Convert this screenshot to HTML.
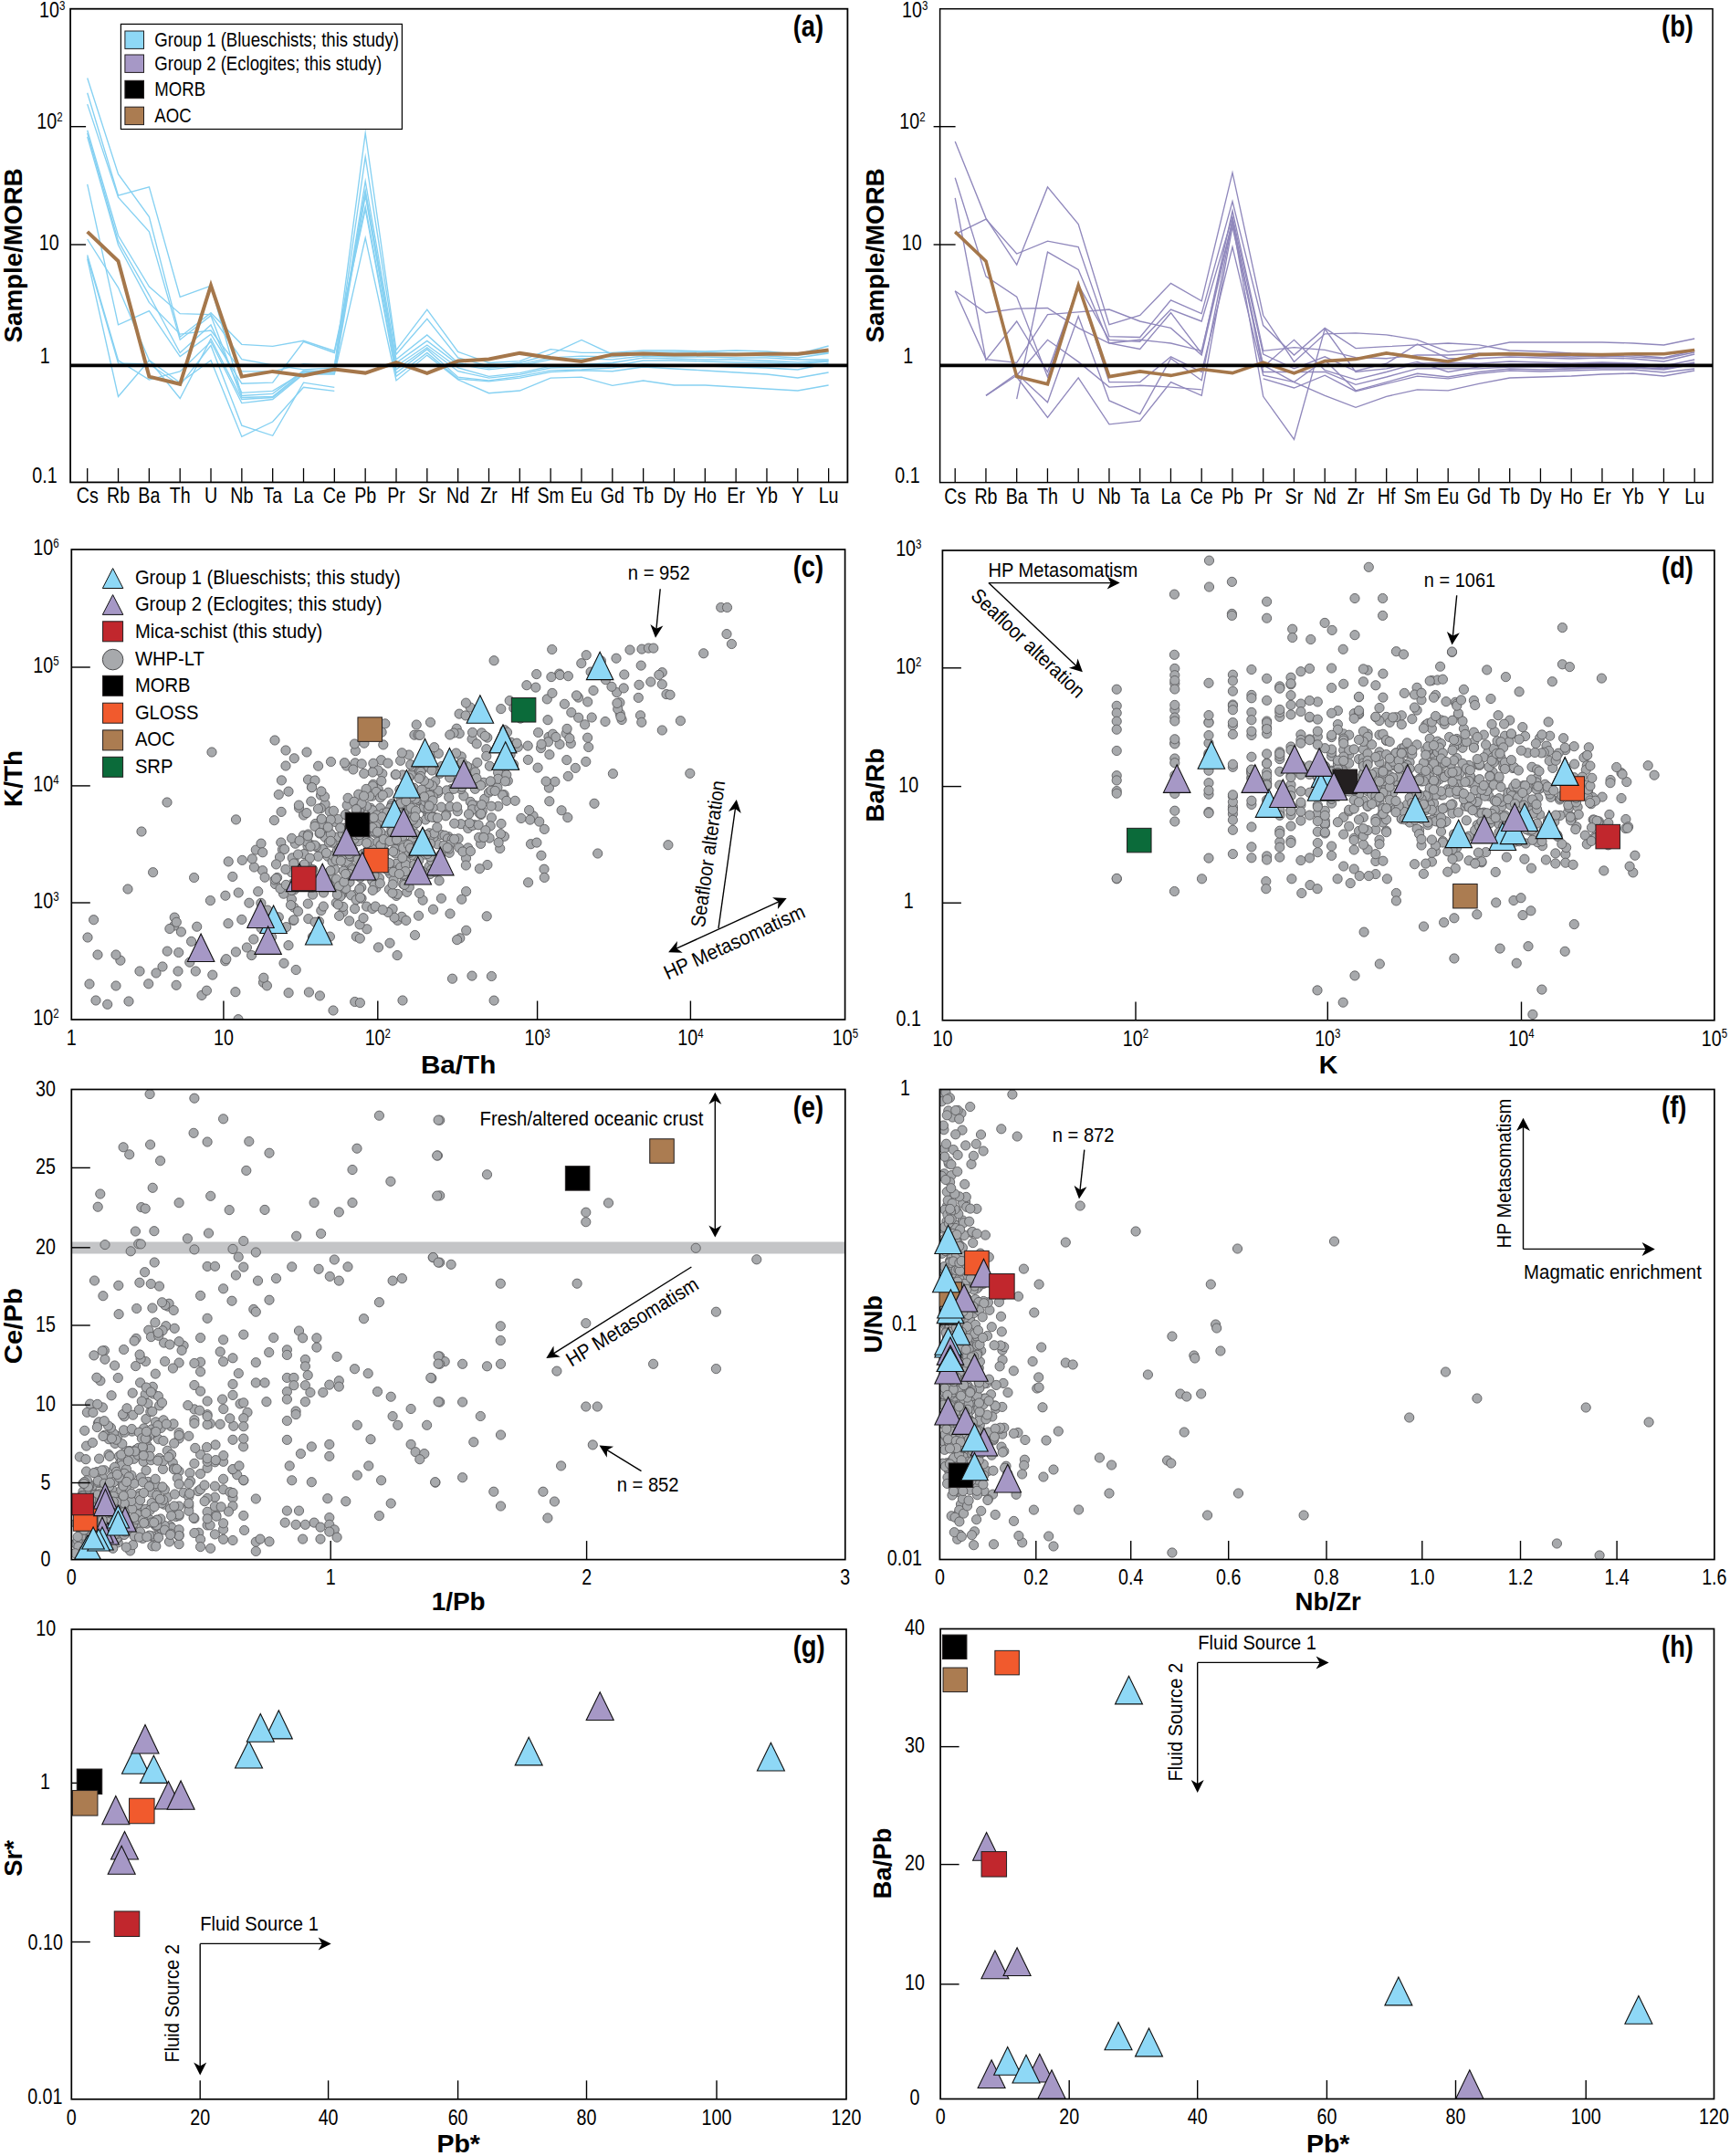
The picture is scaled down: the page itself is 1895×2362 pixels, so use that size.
<!DOCTYPE html>
<html lang="en"><head><meta charset="utf-8"><title>Figure</title>
<style>html,body{margin:0;padding:0;background:#fff}svg{display:block}text{font-family:"Liberation Sans",Arial,Helvetica,sans-serif}</style>
</head><body>
<svg width="1895" height="2362" viewBox="0 0 1895 2362">
<rect width="1895" height="2362" fill="#fff"/>
<polyline points="95.7,85.5 129.5,190.6 163.4,237.5 197.2,369.2 231.0,342.7 264.8,377.3 298.7,379.4 332.5,373.3 366.3,384.5 400.2,226.4 434.0,408.6 467.8,382.7 501.7,413.2 535.5,416.9 569.3,412.3 603.1,405.8 637.0,404.9 670.8,403.0 704.6,399.0 738.5,400.0 772.3,401.0 806.1,402.0 840.0,403.0 873.8,405.0 907.6,398.0" fill="none" stroke="#86D1F2" stroke-width="1.35" stroke-linejoin="miter" stroke-miterlimit="10"/>
<polyline points="95.7,101.8 129.5,214.1 163.4,204.9 197.2,325.3 231.0,313.1 264.8,433.5 298.7,431.4 332.5,405.9 366.3,406.9 400.2,171.8 434.0,388.2 467.8,349.4 501.7,391.9 535.5,401.2 569.3,397.5 603.1,388.2 637.0,372.5 670.8,388.2 704.6,386.0 738.5,386.0 772.3,386.0 806.1,387.0 840.0,387.0 873.8,389.0 907.6,386.0" fill="none" stroke="#86D1F2" stroke-width="1.35" stroke-linejoin="miter" stroke-miterlimit="10"/>
<polyline points="95.7,114.1 129.5,216.1 163.4,253.9 197.2,372.2 231.0,345.7 264.8,435.5 298.7,434.5 332.5,406.9 366.3,408.0 400.2,198.6 434.0,393.8 467.8,366.9 501.7,397.5 535.5,403.0 569.3,399.3 603.1,391.9 637.0,390.1 670.8,391.0 704.6,388.0 738.5,388.0 772.3,389.0 806.1,389.0 840.0,390.0 873.8,392.0 907.6,387.0" fill="none" stroke="#86D1F2" stroke-width="1.35" stroke-linejoin="miter" stroke-miterlimit="10"/>
<polyline points="95.7,142.7 129.5,258.0 163.4,314.1 197.2,343.7 231.0,344.7 264.8,393.7 298.7,399.8 332.5,404.9 366.3,402.9 400.2,145.9 434.0,383.6 467.8,339.2 501.7,385.4 535.5,397.5 569.3,395.6 603.1,382.7 637.0,386.4 670.8,386.4 704.6,384.0 738.5,384.0 772.3,385.0 806.1,384.0 840.0,385.0 873.8,388.0 907.6,379.0" fill="none" stroke="#86D1F2" stroke-width="1.35" stroke-linejoin="miter" stroke-miterlimit="10"/>
<polyline points="95.7,145.7 129.5,264.1 163.4,323.3 197.2,386.5 231.0,355.9 264.8,430.4 298.7,428.4 332.5,408.0 366.3,404.9 400.2,210.6 434.0,401.2 467.8,378.0 501.7,403.0 535.5,412.3 569.3,408.6 603.1,401.2 637.0,399.3 670.8,397.5 704.6,392.0 738.5,393.0 772.3,394.0 806.1,394.0 840.0,395.0 873.8,397.0 907.6,395.0" fill="none" stroke="#86D1F2" stroke-width="1.35" stroke-linejoin="miter" stroke-miterlimit="10"/>
<polyline points="95.7,149.8 129.5,268.2 163.4,331.4 197.2,366.1 231.0,362.0 264.8,406.9 298.7,406.9 332.5,398.8 366.3,400.8 400.2,208.8 434.0,397.5 467.8,373.4 501.7,399.3 535.5,404.9 569.3,401.2 603.1,393.8 637.0,392.8 670.8,393.8 704.6,390.0 738.5,391.0 772.3,391.0 806.1,392.0 840.0,392.0 873.8,394.0 907.6,394.0" fill="none" stroke="#86D1F2" stroke-width="1.35" stroke-linejoin="miter" stroke-miterlimit="10"/>
<polyline points="95.7,201.8 129.5,355.9 163.4,340.6 197.2,390.6 231.0,366.1 264.8,420.2 298.7,419.2 332.5,374.3 366.3,386.5 400.2,229.1 434.0,412.3 467.8,386.4 501.7,415.0 535.5,417.8 569.3,414.1 603.1,407.6 637.0,405.8 670.8,406.7 704.6,402.0 738.5,404.0 772.3,406.0 806.1,408.0 840.0,410.0 873.8,414.0 907.6,408.0" fill="none" stroke="#86D1F2" stroke-width="1.35" stroke-linejoin="miter" stroke-miterlimit="10"/>
<polyline points="95.7,262.0 129.5,315.1 163.4,394.7 197.2,436.5 231.0,371.2 264.8,437.5 298.7,435.5 332.5,409.0 366.3,409.0 400.2,214.3 434.0,404.9 467.8,380.8 501.7,406.7 535.5,414.1 569.3,410.4 603.1,403.0 637.0,402.1 670.8,401.2 704.6,395.0 738.5,395.0 772.3,396.0 806.1,397.0 840.0,397.0 873.8,399.0 907.6,396.0" fill="none" stroke="#86D1F2" stroke-width="1.35" stroke-linejoin="miter" stroke-miterlimit="10"/>
<polyline points="95.7,279.4 129.5,394.7 163.4,416.1 197.2,406.9 231.0,374.3 264.8,441.6 298.7,437.5 332.5,410.0 366.3,410.0 400.2,260.6 434.0,416.9 467.8,389.1 501.7,416.0 535.5,430.7 569.3,428.0 603.1,414.1 637.0,413.2 670.8,422.4 704.6,417.0 738.5,422.0 772.3,422.0 806.1,424.0 840.0,426.0 873.8,428.0 907.6,422.0" fill="none" stroke="#86D1F2" stroke-width="1.35" stroke-linejoin="miter" stroke-miterlimit="10"/>
<polyline points="95.7,281.4 129.5,397.8 163.4,398.8 197.2,422.2 231.0,378.4 264.8,466.1 298.7,477.3 332.5,419.2 366.3,424.3" fill="none" stroke="#86D1F2" stroke-width="1.35" stroke-linejoin="miter" stroke-miterlimit="10"/>
<polyline points="95.7,283.5 129.5,434.5 163.4,394.7 197.2,419.2 231.0,394.7 264.8,478.4 298.7,462.0 332.5,424.3 366.3,428.4" fill="none" stroke="#86D1F2" stroke-width="1.35" stroke-linejoin="miter" stroke-miterlimit="10"/>
<polyline points="95.7,253.9 129.5,286.1 163.4,412.6 197.2,420.8 231.0,312.6 264.8,412.6 298.7,406.9 332.5,411.4 366.3,404.5 400.2,408.6 434.0,397.1 467.8,408.9 501.7,395.6 535.5,393.4 569.3,386.9 603.1,391.9 637.0,396.0 670.8,388.4 704.6,387.6 738.5,388.6 772.3,388.3 806.1,388.6 840.0,387.8 873.8,387.7 907.6,383.5" fill="none" stroke="#A5774B" stroke-width="4.00" stroke-linejoin="miter" stroke-miterlimit="10"/>
<line x1="77.10" y1="400.40" x2="928.40" y2="400.40" stroke="#000" stroke-width="3.80" stroke-linecap="butt"/>
<rect x="77.10" y="9.70" width="851.30" height="518.70" fill="none" stroke="#000" stroke-width="1.80"/>
<line x1="77.10" y1="138.70" x2="94.10" y2="138.70" stroke="#000" stroke-width="1.40" stroke-linecap="butt"/>
<line x1="77.10" y1="268.00" x2="94.10" y2="268.00" stroke="#000" stroke-width="1.40" stroke-linecap="butt"/>
<line x1="95.70" y1="512.90" x2="95.70" y2="528.40" stroke="#000" stroke-width="1.30" stroke-linecap="butt"/>
<line x1="129.53" y1="512.90" x2="129.53" y2="528.40" stroke="#000" stroke-width="1.30" stroke-linecap="butt"/>
<line x1="163.36" y1="512.90" x2="163.36" y2="528.40" stroke="#000" stroke-width="1.30" stroke-linecap="butt"/>
<line x1="197.19" y1="512.90" x2="197.19" y2="528.40" stroke="#000" stroke-width="1.30" stroke-linecap="butt"/>
<line x1="231.02" y1="512.90" x2="231.02" y2="528.40" stroke="#000" stroke-width="1.30" stroke-linecap="butt"/>
<line x1="264.85" y1="512.90" x2="264.85" y2="528.40" stroke="#000" stroke-width="1.30" stroke-linecap="butt"/>
<line x1="298.68" y1="512.90" x2="298.68" y2="528.40" stroke="#000" stroke-width="1.30" stroke-linecap="butt"/>
<line x1="332.51" y1="512.90" x2="332.51" y2="528.40" stroke="#000" stroke-width="1.30" stroke-linecap="butt"/>
<line x1="366.34" y1="512.90" x2="366.34" y2="528.40" stroke="#000" stroke-width="1.30" stroke-linecap="butt"/>
<line x1="400.17" y1="512.90" x2="400.17" y2="528.40" stroke="#000" stroke-width="1.30" stroke-linecap="butt"/>
<line x1="434.00" y1="512.90" x2="434.00" y2="528.40" stroke="#000" stroke-width="1.30" stroke-linecap="butt"/>
<line x1="467.83" y1="512.90" x2="467.83" y2="528.40" stroke="#000" stroke-width="1.30" stroke-linecap="butt"/>
<line x1="501.66" y1="512.90" x2="501.66" y2="528.40" stroke="#000" stroke-width="1.30" stroke-linecap="butt"/>
<line x1="535.49" y1="512.90" x2="535.49" y2="528.40" stroke="#000" stroke-width="1.30" stroke-linecap="butt"/>
<line x1="569.32" y1="512.90" x2="569.32" y2="528.40" stroke="#000" stroke-width="1.30" stroke-linecap="butt"/>
<line x1="603.15" y1="512.90" x2="603.15" y2="528.40" stroke="#000" stroke-width="1.30" stroke-linecap="butt"/>
<line x1="636.98" y1="512.90" x2="636.98" y2="528.40" stroke="#000" stroke-width="1.30" stroke-linecap="butt"/>
<line x1="670.81" y1="512.90" x2="670.81" y2="528.40" stroke="#000" stroke-width="1.30" stroke-linecap="butt"/>
<line x1="704.64" y1="512.90" x2="704.64" y2="528.40" stroke="#000" stroke-width="1.30" stroke-linecap="butt"/>
<line x1="738.47" y1="512.90" x2="738.47" y2="528.40" stroke="#000" stroke-width="1.30" stroke-linecap="butt"/>
<line x1="772.30" y1="512.90" x2="772.30" y2="528.40" stroke="#000" stroke-width="1.30" stroke-linecap="butt"/>
<line x1="806.13" y1="512.90" x2="806.13" y2="528.40" stroke="#000" stroke-width="1.30" stroke-linecap="butt"/>
<line x1="839.96" y1="512.90" x2="839.96" y2="528.40" stroke="#000" stroke-width="1.30" stroke-linecap="butt"/>
<line x1="873.79" y1="512.90" x2="873.79" y2="528.40" stroke="#000" stroke-width="1.30" stroke-linecap="butt"/>
<line x1="907.62" y1="512.90" x2="907.62" y2="528.40" stroke="#000" stroke-width="1.30" stroke-linecap="butt"/>
<text transform="translate(57.20 19.30) scale(0.8200 1)" font-size="24.00" text-anchor="middle" fill="#000">10<tspan font-size="14.0" dy="-8.2">3</tspan></text>
<text transform="translate(54.40 141.00) scale(0.8200 1)" font-size="24.00" text-anchor="middle" fill="#000">10<tspan font-size="14.0" dy="-8.2">2</tspan></text>
<text transform="translate(53.80 273.60) scale(0.8200 1)" font-size="24.00" text-anchor="middle" fill="#000">10</text>
<text transform="translate(49.20 397.80) scale(0.8200 1)" font-size="24.00" text-anchor="middle" fill="#000">1</text>
<text transform="translate(48.90 528.80) scale(0.8200 1)" font-size="24.00" text-anchor="middle" fill="#000">0.1</text>
<text transform="translate(95.70 551.40) scale(0.8200 1)" font-size="24.00" text-anchor="middle" fill="#000">Cs</text>
<text transform="translate(129.53 551.40) scale(0.8200 1)" font-size="24.00" text-anchor="middle" fill="#000">Rb</text>
<text transform="translate(163.36 551.40) scale(0.8200 1)" font-size="24.00" text-anchor="middle" fill="#000">Ba</text>
<text transform="translate(197.19 551.40) scale(0.8200 1)" font-size="24.00" text-anchor="middle" fill="#000">Th</text>
<text transform="translate(231.02 551.40) scale(0.8200 1)" font-size="24.00" text-anchor="middle" fill="#000">U</text>
<text transform="translate(264.85 551.40) scale(0.8200 1)" font-size="24.00" text-anchor="middle" fill="#000">Nb</text>
<text transform="translate(298.68 551.40) scale(0.8200 1)" font-size="24.00" text-anchor="middle" fill="#000">Ta</text>
<text transform="translate(332.51 551.40) scale(0.8200 1)" font-size="24.00" text-anchor="middle" fill="#000">La</text>
<text transform="translate(366.34 551.40) scale(0.8200 1)" font-size="24.00" text-anchor="middle" fill="#000">Ce</text>
<text transform="translate(400.17 551.40) scale(0.8200 1)" font-size="24.00" text-anchor="middle" fill="#000">Pb</text>
<text transform="translate(434.00 551.40) scale(0.8200 1)" font-size="24.00" text-anchor="middle" fill="#000">Pr</text>
<text transform="translate(467.83 551.40) scale(0.8200 1)" font-size="24.00" text-anchor="middle" fill="#000">Sr</text>
<text transform="translate(501.66 551.40) scale(0.8200 1)" font-size="24.00" text-anchor="middle" fill="#000">Nd</text>
<text transform="translate(535.49 551.40) scale(0.8200 1)" font-size="24.00" text-anchor="middle" fill="#000">Zr</text>
<text transform="translate(569.32 551.40) scale(0.8200 1)" font-size="24.00" text-anchor="middle" fill="#000">Hf</text>
<text transform="translate(603.15 551.40) scale(0.8200 1)" font-size="24.00" text-anchor="middle" fill="#000">Sm</text>
<text transform="translate(636.98 551.40) scale(0.8200 1)" font-size="24.00" text-anchor="middle" fill="#000">Eu</text>
<text transform="translate(670.81 551.40) scale(0.8200 1)" font-size="24.00" text-anchor="middle" fill="#000">Gd</text>
<text transform="translate(704.64 551.40) scale(0.8200 1)" font-size="24.00" text-anchor="middle" fill="#000">Tb</text>
<text transform="translate(738.47 551.40) scale(0.8200 1)" font-size="24.00" text-anchor="middle" fill="#000">Dy</text>
<text transform="translate(772.30 551.40) scale(0.8200 1)" font-size="24.00" text-anchor="middle" fill="#000">Ho</text>
<text transform="translate(806.13 551.40) scale(0.8200 1)" font-size="24.00" text-anchor="middle" fill="#000">Er</text>
<text transform="translate(839.96 551.40) scale(0.8200 1)" font-size="24.00" text-anchor="middle" fill="#000">Yb</text>
<text transform="translate(873.79 551.40) scale(0.8200 1)" font-size="24.00" text-anchor="middle" fill="#000">Y</text>
<text transform="translate(907.62 551.40) scale(0.8200 1)" font-size="24.00" text-anchor="middle" fill="#000">Lu</text>
<text transform="translate(23.80 279.90) rotate(-90.00) scale(0.9750 1)" font-size="28.50" text-anchor="middle" font-weight="bold" fill="#000">Sample/MORB</text>
<text transform="translate(868.70 39.90) scale(0.8400 1)" font-size="32.50" text-anchor="start" font-weight="bold" fill="#000">(a)</text>
<rect x="132.40" y="26.40" width="308.00" height="115.10" fill="#fff" stroke="#000" stroke-width="1.20"/>
<rect x="136.90" y="34.00" width="20.60" height="19.40" fill="#8ED8F6" stroke="#231f20" stroke-width="1.00"/>
<text transform="translate(169.30 51.20) scale(0.8650 1)" font-size="21.50" text-anchor="start" fill="#000">Group 1 (Blueschists; this study)</text>
<rect x="136.90" y="60.00" width="20.60" height="19.40" fill="#A698C6" stroke="#231f20" stroke-width="1.00"/>
<text transform="translate(169.30 76.80) scale(0.8650 1)" font-size="21.50" text-anchor="start" fill="#000">Group 2 (Eclogites; this study)</text>
<rect x="136.90" y="88.30" width="20.60" height="19.40" fill="#000" stroke="#231f20" stroke-width="1.00"/>
<text transform="translate(169.30 105.40) scale(0.8650 1)" font-size="21.50" text-anchor="start" fill="#000">MORB</text>
<rect x="136.90" y="117.20" width="20.60" height="19.40" fill="#AB7C51" stroke="#231f20" stroke-width="1.00"/>
<text transform="translate(169.30 134.30) scale(0.8650 1)" font-size="21.50" text-anchor="start" fill="#000">AOC</text>
<polyline points="1046.2,155.0 1080.0,239.1 1113.7,290.0 1147.5,204.9 1181.2,245.6 1215.0,355.7 1248.7,345.5 1282.5,310.3 1316.2,329.8 1350.0,189.2 1383.7,345.5 1417.5,396.4 1451.2,365.8 1485.0,364.9 1518.7,366.8 1552.5,372.3 1586.2,385.3 1620.0,381.6 1653.7,375.0 1687.5,375.0 1721.2,375.0 1755.0,375.0 1788.7,376.0 1822.5,378.0 1856.2,371.0" fill="none" stroke="#9088BC" stroke-width="1.35" stroke-linejoin="miter" stroke-miterlimit="10"/>
<polyline points="1046.2,194.7 1080.0,302.9 1113.7,325.1 1147.5,413.0 1181.2,312.2 1215.0,372.3 1248.7,374.2 1282.5,339.0 1316.2,352.0 1350.0,237.3 1383.7,388.0 1417.5,403.8 1451.2,390.8 1485.0,406.5 1518.7,398.2 1552.5,376.9 1586.2,392.7 1620.0,392.7 1653.7,391.0 1687.5,392.0 1721.2,393.0 1755.0,392.0 1788.7,393.0 1822.5,396.0 1856.2,388.0" fill="none" stroke="#9088BC" stroke-width="1.35" stroke-linejoin="miter" stroke-miterlimit="10"/>
<polyline points="1046.2,216.9 1080.0,394.5 1113.7,352.0 1147.5,407.5 1181.2,313.1 1215.0,418.6 1248.7,418.6 1282.5,390.8 1316.2,407.5 1350.0,270.6 1383.7,411.2 1417.5,418.6 1451.2,394.5 1485.0,427.8 1518.7,418.6 1552.5,409.3 1586.2,413.0 1620.0,407.5 1653.7,404.0 1687.5,405.0 1721.2,404.0 1755.0,403.0 1788.7,403.0 1822.5,405.0 1856.2,399.0" fill="none" stroke="#9088BC" stroke-width="1.35" stroke-linejoin="miter" stroke-miterlimit="10"/>
<polyline points="1046.2,256.7 1080.0,240.1 1113.7,278.0 1147.5,264.1 1181.2,270.6 1215.0,368.6 1248.7,369.5 1282.5,328.8 1316.2,343.6 1350.0,220.6 1383.7,356.6 1417.5,389.0 1451.2,359.4 1485.0,381.6 1518.7,379.7 1552.5,377.9 1586.2,376.0 1620.0,377.9 1653.7,384.0 1687.5,385.0 1721.2,387.0 1755.0,388.0 1788.7,389.0 1822.5,392.0 1856.2,384.0" fill="none" stroke="#9088BC" stroke-width="1.35" stroke-linejoin="miter" stroke-miterlimit="10"/>
<polyline points="1046.2,318.7 1080.0,342.7 1113.7,338.1 1147.5,337.5 1181.2,359.4 1215.0,376.0 1248.7,372.3 1282.5,376.0 1316.2,384.3 1350.0,241.0 1383.7,401.9 1417.5,372.3 1451.2,405.6 1485.0,415.8 1518.7,407.5 1552.5,398.2 1586.2,397.3 1620.0,398.2 1653.7,396.0 1687.5,397.0 1721.2,398.0 1755.0,397.0 1788.7,398.0 1822.5,401.0 1856.2,394.0" fill="none" stroke="#9088BC" stroke-width="1.35" stroke-linejoin="miter" stroke-miterlimit="10"/>
<polyline points="1046.2,318.7 1080.0,393.6 1113.7,397.3 1147.5,344.6 1181.2,341.8 1215.0,339.0 1248.7,352.0 1282.5,359.4 1316.2,389.0 1350.0,242.8 1383.7,407.5 1417.5,407.5 1451.2,407.5 1485.0,421.3 1518.7,413.0 1552.5,403.8 1586.2,403.8 1620.0,403.8 1653.7,402.0 1687.5,402.0 1721.2,403.0 1755.0,402.0 1788.7,402.0 1822.5,404.0 1856.2,398.0" fill="none" stroke="#9088BC" stroke-width="1.35" stroke-linejoin="miter" stroke-miterlimit="10"/>
<polyline points="1080.0,433.4 1113.7,411.2 1147.5,372.3 1181.2,396.4 1215.0,424.1 1248.7,422.3 1282.5,424.1 1316.2,426.9" fill="none" stroke="#9088BC" stroke-width="1.35" stroke-linejoin="miter" stroke-miterlimit="10"/>
<polyline points="1383.7,414.9 1417.5,425.0 1451.2,411.2 1485.0,428.7 1518.7,420.4 1552.5,412.1 1586.2,414.9 1620.0,409.3 1653.7,406.0 1687.5,407.0 1721.2,406.0 1755.0,405.0 1788.7,405.0 1822.5,408.0 1856.2,404.0" fill="none" stroke="#9088BC" stroke-width="1.35" stroke-linejoin="miter" stroke-miterlimit="10"/>
<polyline points="1080.0,433.4 1113.7,409.3 1147.5,440.7 1181.2,346.4 1215.0,438.9 1248.7,453.7 1282.5,392.7 1316.2,416.7 1350.0,243.2 1383.7,434.3 1417.5,481.4 1451.2,360.3 1485.0,407.5 1518.7,403.8 1552.5,396.4 1586.2,407.5 1620.0,401.9 1653.7,399.0 1687.5,399.0 1721.2,400.0 1755.0,398.0 1788.7,399.0 1822.5,403.0 1856.2,397.0" fill="none" stroke="#9088BC" stroke-width="1.35" stroke-linejoin="miter" stroke-miterlimit="10"/>
<polyline points="1113.7,437.1 1147.5,276.1 1181.2,295.5 1215.0,376.0 1248.7,382.5 1282.5,342.7 1316.2,387.1 1350.0,230.8 1383.7,384.3 1417.5,380.6 1451.2,383.4 1485.0,391.7 1518.7,392.7 1552.5,389.0 1586.2,389.0 1620.0,387.1 1653.7,389.0 1687.5,390.0 1721.2,391.0 1755.0,390.0 1788.7,391.0 1822.5,393.0 1856.2,386.0" fill="none" stroke="#9088BC" stroke-width="1.35" stroke-linejoin="miter" stroke-miterlimit="10"/>
<polyline points="1113.7,413.0 1147.5,457.4 1181.2,413.9 1215.0,464.8 1248.7,461.1 1282.5,418.6 1316.2,433.4 1350.0,248.4 1383.7,400.1 1417.5,418.6 1451.2,433.4 1485.0,446.3 1518.7,434.3 1552.5,426.9 1586.2,427.8 1620.0,420.4 1653.7,414.0 1687.5,413.0 1721.2,412.0 1755.0,410.0 1788.7,409.0 1822.5,412.0 1856.2,406.0" fill="none" stroke="#9088BC" stroke-width="1.35" stroke-linejoin="miter" stroke-miterlimit="10"/>
<polyline points="1046.2,253.9 1080.0,286.1 1113.7,412.6 1147.5,420.8 1181.2,312.6 1215.0,412.6 1248.7,406.9 1282.5,411.4 1316.2,404.5 1350.0,408.6 1383.7,397.1 1417.5,408.9 1451.2,395.6 1485.0,393.4 1518.7,386.9 1552.5,391.9 1586.2,396.0 1620.0,388.4 1653.7,387.6 1687.5,388.6 1721.2,388.3 1755.0,388.6 1788.7,387.8 1822.5,387.7 1856.2,383.5" fill="none" stroke="#A5774B" stroke-width="3.60" stroke-linejoin="miter" stroke-miterlimit="10"/>
<line x1="1029.60" y1="400.40" x2="1876.00" y2="400.40" stroke="#000" stroke-width="3.80" stroke-linecap="butt"/>
<rect x="1029.60" y="9.70" width="846.40" height="518.90" fill="none" stroke="#000" stroke-width="1.50"/>
<line x1="1022.60" y1="138.70" x2="1046.60" y2="138.70" stroke="#000" stroke-width="1.40" stroke-linecap="butt"/>
<line x1="1022.60" y1="268.00" x2="1046.60" y2="268.00" stroke="#000" stroke-width="1.40" stroke-linecap="butt"/>
<line x1="1046.20" y1="513.10" x2="1046.20" y2="528.60" stroke="#000" stroke-width="1.30" stroke-linecap="butt"/>
<line x1="1079.95" y1="513.10" x2="1079.95" y2="528.60" stroke="#000" stroke-width="1.30" stroke-linecap="butt"/>
<line x1="1113.70" y1="513.10" x2="1113.70" y2="528.60" stroke="#000" stroke-width="1.30" stroke-linecap="butt"/>
<line x1="1147.45" y1="513.10" x2="1147.45" y2="528.60" stroke="#000" stroke-width="1.30" stroke-linecap="butt"/>
<line x1="1181.20" y1="513.10" x2="1181.20" y2="528.60" stroke="#000" stroke-width="1.30" stroke-linecap="butt"/>
<line x1="1214.95" y1="513.10" x2="1214.95" y2="528.60" stroke="#000" stroke-width="1.30" stroke-linecap="butt"/>
<line x1="1248.70" y1="513.10" x2="1248.70" y2="528.60" stroke="#000" stroke-width="1.30" stroke-linecap="butt"/>
<line x1="1282.45" y1="513.10" x2="1282.45" y2="528.60" stroke="#000" stroke-width="1.30" stroke-linecap="butt"/>
<line x1="1316.20" y1="513.10" x2="1316.20" y2="528.60" stroke="#000" stroke-width="1.30" stroke-linecap="butt"/>
<line x1="1349.95" y1="513.10" x2="1349.95" y2="528.60" stroke="#000" stroke-width="1.30" stroke-linecap="butt"/>
<line x1="1383.70" y1="513.10" x2="1383.70" y2="528.60" stroke="#000" stroke-width="1.30" stroke-linecap="butt"/>
<line x1="1417.45" y1="513.10" x2="1417.45" y2="528.60" stroke="#000" stroke-width="1.30" stroke-linecap="butt"/>
<line x1="1451.20" y1="513.10" x2="1451.20" y2="528.60" stroke="#000" stroke-width="1.30" stroke-linecap="butt"/>
<line x1="1484.95" y1="513.10" x2="1484.95" y2="528.60" stroke="#000" stroke-width="1.30" stroke-linecap="butt"/>
<line x1="1518.70" y1="513.10" x2="1518.70" y2="528.60" stroke="#000" stroke-width="1.30" stroke-linecap="butt"/>
<line x1="1552.45" y1="513.10" x2="1552.45" y2="528.60" stroke="#000" stroke-width="1.30" stroke-linecap="butt"/>
<line x1="1586.20" y1="513.10" x2="1586.20" y2="528.60" stroke="#000" stroke-width="1.30" stroke-linecap="butt"/>
<line x1="1619.95" y1="513.10" x2="1619.95" y2="528.60" stroke="#000" stroke-width="1.30" stroke-linecap="butt"/>
<line x1="1653.70" y1="513.10" x2="1653.70" y2="528.60" stroke="#000" stroke-width="1.30" stroke-linecap="butt"/>
<line x1="1687.45" y1="513.10" x2="1687.45" y2="528.60" stroke="#000" stroke-width="1.30" stroke-linecap="butt"/>
<line x1="1721.20" y1="513.10" x2="1721.20" y2="528.60" stroke="#000" stroke-width="1.30" stroke-linecap="butt"/>
<line x1="1754.95" y1="513.10" x2="1754.95" y2="528.60" stroke="#000" stroke-width="1.30" stroke-linecap="butt"/>
<line x1="1788.70" y1="513.10" x2="1788.70" y2="528.60" stroke="#000" stroke-width="1.30" stroke-linecap="butt"/>
<line x1="1822.45" y1="513.10" x2="1822.45" y2="528.60" stroke="#000" stroke-width="1.30" stroke-linecap="butt"/>
<line x1="1856.20" y1="513.10" x2="1856.20" y2="528.60" stroke="#000" stroke-width="1.30" stroke-linecap="butt"/>
<text transform="translate(1002.20 19.30) scale(0.8200 1)" font-size="24.00" text-anchor="middle" fill="#000">10<tspan font-size="14.0" dy="-8.2">3</tspan></text>
<text transform="translate(999.40 141.00) scale(0.8200 1)" font-size="24.00" text-anchor="middle" fill="#000">10<tspan font-size="14.0" dy="-8.2">2</tspan></text>
<text transform="translate(998.80 273.60) scale(0.8200 1)" font-size="24.00" text-anchor="middle" fill="#000">10</text>
<text transform="translate(994.80 397.80) scale(0.8200 1)" font-size="24.00" text-anchor="middle" fill="#000">1</text>
<text transform="translate(993.90 528.80) scale(0.8200 1)" font-size="24.00" text-anchor="middle" fill="#000">0.1</text>
<text transform="translate(1046.20 551.60) scale(0.8200 1)" font-size="24.00" text-anchor="middle" fill="#000">Cs</text>
<text transform="translate(1079.95 551.60) scale(0.8200 1)" font-size="24.00" text-anchor="middle" fill="#000">Rb</text>
<text transform="translate(1113.70 551.60) scale(0.8200 1)" font-size="24.00" text-anchor="middle" fill="#000">Ba</text>
<text transform="translate(1147.45 551.60) scale(0.8200 1)" font-size="24.00" text-anchor="middle" fill="#000">Th</text>
<text transform="translate(1181.20 551.60) scale(0.8200 1)" font-size="24.00" text-anchor="middle" fill="#000">U</text>
<text transform="translate(1214.95 551.60) scale(0.8200 1)" font-size="24.00" text-anchor="middle" fill="#000">Nb</text>
<text transform="translate(1248.70 551.60) scale(0.8200 1)" font-size="24.00" text-anchor="middle" fill="#000">Ta</text>
<text transform="translate(1282.45 551.60) scale(0.8200 1)" font-size="24.00" text-anchor="middle" fill="#000">La</text>
<text transform="translate(1316.20 551.60) scale(0.8200 1)" font-size="24.00" text-anchor="middle" fill="#000">Ce</text>
<text transform="translate(1349.95 551.60) scale(0.8200 1)" font-size="24.00" text-anchor="middle" fill="#000">Pb</text>
<text transform="translate(1383.70 551.60) scale(0.8200 1)" font-size="24.00" text-anchor="middle" fill="#000">Pr</text>
<text transform="translate(1417.45 551.60) scale(0.8200 1)" font-size="24.00" text-anchor="middle" fill="#000">Sr</text>
<text transform="translate(1451.20 551.60) scale(0.8200 1)" font-size="24.00" text-anchor="middle" fill="#000">Nd</text>
<text transform="translate(1484.95 551.60) scale(0.8200 1)" font-size="24.00" text-anchor="middle" fill="#000">Zr</text>
<text transform="translate(1518.70 551.60) scale(0.8200 1)" font-size="24.00" text-anchor="middle" fill="#000">Hf</text>
<text transform="translate(1552.45 551.60) scale(0.8200 1)" font-size="24.00" text-anchor="middle" fill="#000">Sm</text>
<text transform="translate(1586.20 551.60) scale(0.8200 1)" font-size="24.00" text-anchor="middle" fill="#000">Eu</text>
<text transform="translate(1619.95 551.60) scale(0.8200 1)" font-size="24.00" text-anchor="middle" fill="#000">Gd</text>
<text transform="translate(1653.70 551.60) scale(0.8200 1)" font-size="24.00" text-anchor="middle" fill="#000">Tb</text>
<text transform="translate(1687.45 551.60) scale(0.8200 1)" font-size="24.00" text-anchor="middle" fill="#000">Dy</text>
<text transform="translate(1721.20 551.60) scale(0.8200 1)" font-size="24.00" text-anchor="middle" fill="#000">Ho</text>
<text transform="translate(1754.95 551.60) scale(0.8200 1)" font-size="24.00" text-anchor="middle" fill="#000">Er</text>
<text transform="translate(1788.70 551.60) scale(0.8200 1)" font-size="24.00" text-anchor="middle" fill="#000">Yb</text>
<text transform="translate(1822.45 551.60) scale(0.8200 1)" font-size="24.00" text-anchor="middle" fill="#000">Y</text>
<text transform="translate(1856.20 551.60) scale(0.8200 1)" font-size="24.00" text-anchor="middle" fill="#000">Lu</text>
<text transform="translate(967.80 279.90) rotate(-90.00) scale(0.9750 1)" font-size="28.50" text-anchor="middle" font-weight="bold" fill="#000">Sample/MORB</text>
<text transform="translate(1820.10 39.90) scale(0.8400 1)" font-size="32.50" text-anchor="start" font-weight="bold" fill="#000">(b)</text>
<clipPath id="cc"><rect x="78.3" y="602.0" width="847.3" height="515.0"/></clipPath>
<g clip-path="url(#cc)" fill="#A7A9AC" stroke="#5d5e60" stroke-width="0.9">
<circle cx="342.5" cy="980.1" r="5.1"/>
<circle cx="433.3" cy="882.2" r="5.1"/>
<circle cx="328.0" cy="968.2" r="5.1"/>
<circle cx="441.7" cy="952.8" r="5.1"/>
<circle cx="307.8" cy="923.0" r="5.1"/>
<circle cx="439.8" cy="924.6" r="5.1"/>
<circle cx="491.3" cy="916.7" r="5.1"/>
<circle cx="384.2" cy="923.8" r="5.1"/>
<circle cx="515.8" cy="841.9" r="5.1"/>
<circle cx="332.4" cy="915.2" r="5.1"/>
<circle cx="402.8" cy="932.0" r="5.1"/>
<circle cx="376.7" cy="938.4" r="5.1"/>
<circle cx="423.0" cy="945.3" r="5.1"/>
<circle cx="453.5" cy="903.7" r="5.1"/>
<circle cx="321.4" cy="1008.4" r="5.1"/>
<circle cx="321.3" cy="967.4" r="5.1"/>
<circle cx="322.3" cy="974.9" r="5.1"/>
<circle cx="361.1" cy="961.0" r="5.1"/>
<circle cx="556.9" cy="827.9" r="5.1"/>
<circle cx="408.8" cy="859.3" r="5.1"/>
<circle cx="394.7" cy="961.3" r="5.1"/>
<circle cx="398.2" cy="945.4" r="5.1"/>
<circle cx="379.0" cy="892.6" r="5.1"/>
<circle cx="405.8" cy="885.2" r="5.1"/>
<circle cx="476.8" cy="855.8" r="5.1"/>
<circle cx="428.9" cy="909.2" r="5.1"/>
<circle cx="429.4" cy="880.5" r="5.1"/>
<circle cx="441.7" cy="895.4" r="5.1"/>
<circle cx="470.5" cy="912.8" r="5.1"/>
<circle cx="385.6" cy="899.1" r="5.1"/>
<circle cx="442.7" cy="922.6" r="5.1"/>
<circle cx="468.1" cy="867.2" r="5.1"/>
<circle cx="433.0" cy="930.4" r="5.1"/>
<circle cx="413.3" cy="928.5" r="5.1"/>
<circle cx="391.4" cy="904.1" r="5.1"/>
<circle cx="336.6" cy="947.4" r="5.1"/>
<circle cx="455.9" cy="963.5" r="5.1"/>
<circle cx="465.3" cy="936.1" r="5.1"/>
<circle cx="448.0" cy="930.1" r="5.1"/>
<circle cx="420.3" cy="950.7" r="5.1"/>
<circle cx="475.7" cy="864.8" r="5.1"/>
<circle cx="401.9" cy="1017.8" r="5.1"/>
<circle cx="427.5" cy="955.6" r="5.1"/>
<circle cx="414.3" cy="864.7" r="5.1"/>
<circle cx="552.4" cy="916.3" r="5.1"/>
<circle cx="419.5" cy="950.2" r="5.1"/>
<circle cx="382.7" cy="896.0" r="5.1"/>
<circle cx="397.3" cy="946.1" r="5.1"/>
<circle cx="465.0" cy="920.2" r="5.1"/>
<circle cx="426.4" cy="974.3" r="5.1"/>
<circle cx="374.1" cy="980.2" r="5.1"/>
<circle cx="443.8" cy="886.2" r="5.1"/>
<circle cx="287.6" cy="953.7" r="5.1"/>
<circle cx="417.8" cy="940.8" r="5.1"/>
<circle cx="450.3" cy="848.7" r="5.1"/>
<circle cx="408.7" cy="952.0" r="5.1"/>
<circle cx="337.5" cy="854.1" r="5.1"/>
<circle cx="483.4" cy="984.2" r="5.1"/>
<circle cx="425.3" cy="868.2" r="5.1"/>
<circle cx="379.3" cy="950.1" r="5.1"/>
<circle cx="530.8" cy="875.2" r="5.1"/>
<circle cx="433.3" cy="979.6" r="5.1"/>
<circle cx="430.1" cy="995.8" r="5.1"/>
<circle cx="351.2" cy="934.7" r="5.1"/>
<circle cx="460.5" cy="956.5" r="5.1"/>
<circle cx="433.6" cy="920.4" r="5.1"/>
<circle cx="290.1" cy="961.2" r="5.1"/>
<circle cx="353.7" cy="930.4" r="5.1"/>
<circle cx="416.9" cy="900.7" r="5.1"/>
<circle cx="435.6" cy="908.8" r="5.1"/>
<circle cx="381.1" cy="944.2" r="5.1"/>
<circle cx="434.2" cy="946.2" r="5.1"/>
<circle cx="366.5" cy="936.6" r="5.1"/>
<circle cx="361.4" cy="1026.1" r="5.1"/>
<circle cx="462.9" cy="879.7" r="5.1"/>
<circle cx="345.4" cy="902.5" r="5.1"/>
<circle cx="407.7" cy="931.8" r="5.1"/>
<circle cx="507.9" cy="872.0" r="5.1"/>
<circle cx="305.3" cy="870.5" r="5.1"/>
<circle cx="468.5" cy="893.5" r="5.1"/>
<circle cx="319.4" cy="985.1" r="5.1"/>
<circle cx="388.7" cy="1097.5" r="5.1"/>
<circle cx="462.3" cy="915.4" r="5.1"/>
<circle cx="341.4" cy="862.5" r="5.1"/>
<circle cx="356.1" cy="880.9" r="5.1"/>
<circle cx="379.5" cy="839.0" r="5.1"/>
<circle cx="375.8" cy="999.2" r="5.1"/>
<circle cx="451.3" cy="839.7" r="5.1"/>
<circle cx="337.8" cy="1006.6" r="5.1"/>
<circle cx="416.4" cy="870.4" r="5.1"/>
<circle cx="346.2" cy="927.5" r="5.1"/>
<circle cx="322.0" cy="943.1" r="5.1"/>
<circle cx="471.2" cy="915.4" r="5.1"/>
<circle cx="494.7" cy="864.4" r="5.1"/>
<circle cx="367.7" cy="900.7" r="5.1"/>
<circle cx="361.3" cy="889.1" r="5.1"/>
<circle cx="321.9" cy="1007.8" r="5.1"/>
<circle cx="483.7" cy="914.6" r="5.1"/>
<circle cx="466.1" cy="898.0" r="5.1"/>
<circle cx="361.4" cy="954.8" r="5.1"/>
<circle cx="353.2" cy="903.6" r="5.1"/>
<circle cx="280.3" cy="931.1" r="5.1"/>
<circle cx="397.9" cy="935.3" r="5.1"/>
<circle cx="401.6" cy="993.1" r="5.1"/>
<circle cx="416.1" cy="944.4" r="5.1"/>
<circle cx="437.9" cy="865.0" r="5.1"/>
<circle cx="313.6" cy="1015.6" r="5.1"/>
<circle cx="388.6" cy="995.6" r="5.1"/>
<circle cx="432.8" cy="954.0" r="5.1"/>
<circle cx="389.0" cy="835.9" r="5.1"/>
<circle cx="416.4" cy="885.2" r="5.1"/>
<circle cx="348.5" cy="938.2" r="5.1"/>
<circle cx="451.5" cy="936.7" r="5.1"/>
<circle cx="410.1" cy="842.7" r="5.1"/>
<circle cx="316.0" cy="867.1" r="5.1"/>
<circle cx="402.6" cy="953.5" r="5.1"/>
<circle cx="362.4" cy="961.6" r="5.1"/>
<circle cx="427.6" cy="957.3" r="5.1"/>
<circle cx="337.0" cy="926.8" r="5.1"/>
<circle cx="394.1" cy="1012.9" r="5.1"/>
<circle cx="446.2" cy="892.6" r="5.1"/>
<circle cx="408.5" cy="927.0" r="5.1"/>
<circle cx="400.6" cy="916.7" r="5.1"/>
<circle cx="352.1" cy="897.4" r="5.1"/>
<circle cx="398.0" cy="1005.7" r="5.1"/>
<circle cx="422.8" cy="915.9" r="5.1"/>
<circle cx="385.7" cy="938.7" r="5.1"/>
<circle cx="398.9" cy="897.3" r="5.1"/>
<circle cx="409.7" cy="932.2" r="5.1"/>
<circle cx="341.5" cy="925.9" r="5.1"/>
<circle cx="323.4" cy="924.2" r="5.1"/>
<circle cx="389.4" cy="822.6" r="5.1"/>
<circle cx="369.0" cy="917.3" r="5.1"/>
<circle cx="366.5" cy="952.2" r="5.1"/>
<circle cx="452.3" cy="898.3" r="5.1"/>
<circle cx="375.2" cy="913.4" r="5.1"/>
<circle cx="407.8" cy="965.0" r="5.1"/>
<circle cx="351.5" cy="903.0" r="5.1"/>
<circle cx="309.4" cy="930.8" r="5.1"/>
<circle cx="349.5" cy="1009.7" r="5.1"/>
<circle cx="407.5" cy="911.1" r="5.1"/>
<circle cx="453.2" cy="863.2" r="5.1"/>
<circle cx="449.0" cy="934.3" r="5.1"/>
<circle cx="286.0" cy="924.1" r="5.1"/>
<circle cx="368.3" cy="989.1" r="5.1"/>
<circle cx="433.2" cy="848.7" r="5.1"/>
<circle cx="438.7" cy="885.0" r="5.1"/>
<circle cx="364.0" cy="923.2" r="5.1"/>
<circle cx="340.8" cy="878.0" r="5.1"/>
<circle cx="319.6" cy="918.4" r="5.1"/>
<circle cx="463.1" cy="986.2" r="5.1"/>
<circle cx="522.8" cy="835.4" r="5.1"/>
<circle cx="301.5" cy="968.6" r="5.1"/>
<circle cx="390.3" cy="1026.1" r="5.1"/>
<circle cx="407.9" cy="887.8" r="5.1"/>
<circle cx="452.4" cy="919.7" r="5.1"/>
<circle cx="303.6" cy="961.4" r="5.1"/>
<circle cx="383.6" cy="937.9" r="5.1"/>
<circle cx="394.4" cy="914.4" r="5.1"/>
<circle cx="392.1" cy="904.3" r="5.1"/>
<circle cx="382.6" cy="1008.9" r="5.1"/>
<circle cx="422.0" cy="933.9" r="5.1"/>
<circle cx="312.8" cy="972.9" r="5.1"/>
<circle cx="408.3" cy="861.1" r="5.1"/>
<circle cx="441.0" cy="883.3" r="5.1"/>
<circle cx="412.1" cy="913.2" r="5.1"/>
<circle cx="431.1" cy="964.3" r="5.1"/>
<circle cx="407.9" cy="995.5" r="5.1"/>
<circle cx="336.8" cy="922.1" r="5.1"/>
<circle cx="407.7" cy="872.1" r="5.1"/>
<circle cx="395.8" cy="972.2" r="5.1"/>
<circle cx="417.5" cy="832.7" r="5.1"/>
<circle cx="459.5" cy="978.7" r="5.1"/>
<circle cx="448.9" cy="885.4" r="5.1"/>
<circle cx="359.1" cy="938.2" r="5.1"/>
<circle cx="332.5" cy="956.1" r="5.1"/>
<circle cx="382.7" cy="930.7" r="5.1"/>
<circle cx="448.5" cy="886.2" r="5.1"/>
<circle cx="345.1" cy="1010.2" r="5.1"/>
<circle cx="332.7" cy="947.4" r="5.1"/>
<circle cx="381.2" cy="922.4" r="5.1"/>
<circle cx="340.3" cy="952.1" r="5.1"/>
<circle cx="490.1" cy="842.8" r="5.1"/>
<circle cx="411.9" cy="972.4" r="5.1"/>
<circle cx="447.8" cy="933.3" r="5.1"/>
<circle cx="396.2" cy="836.8" r="5.1"/>
<circle cx="355.0" cy="960.7" r="5.1"/>
<circle cx="446.8" cy="958.9" r="5.1"/>
<circle cx="413.2" cy="907.6" r="5.1"/>
<circle cx="392.5" cy="921.6" r="5.1"/>
<circle cx="421.4" cy="945.4" r="5.1"/>
<circle cx="361.1" cy="912.7" r="5.1"/>
<circle cx="375.8" cy="993.4" r="5.1"/>
<circle cx="479.1" cy="924.8" r="5.1"/>
<circle cx="454.8" cy="932.3" r="5.1"/>
<circle cx="408.8" cy="952.7" r="5.1"/>
<circle cx="338.8" cy="955.1" r="5.1"/>
<circle cx="374.1" cy="977.1" r="5.1"/>
<circle cx="364.1" cy="944.0" r="5.1"/>
<circle cx="443.2" cy="963.9" r="5.1"/>
<circle cx="336.2" cy="922.2" r="5.1"/>
<circle cx="412.1" cy="867.5" r="5.1"/>
<circle cx="405.4" cy="896.8" r="5.1"/>
<circle cx="351.5" cy="871.2" r="5.1"/>
<circle cx="419.7" cy="891.2" r="5.1"/>
<circle cx="394.3" cy="1028.1" r="5.1"/>
<circle cx="503.8" cy="1027.8" r="5.1"/>
<circle cx="407.8" cy="905.7" r="5.1"/>
<circle cx="434.1" cy="981.4" r="5.1"/>
<circle cx="403.1" cy="946.2" r="5.1"/>
<circle cx="401.4" cy="883.3" r="5.1"/>
<circle cx="390.8" cy="909.0" r="5.1"/>
<circle cx="351.8" cy="997.6" r="5.1"/>
<circle cx="429.4" cy="912.3" r="5.1"/>
<circle cx="308.1" cy="889.4" r="5.1"/>
<circle cx="416.9" cy="911.9" r="5.1"/>
<circle cx="310.6" cy="979.2" r="5.1"/>
<circle cx="319.4" cy="975.4" r="5.1"/>
<circle cx="409.5" cy="937.7" r="5.1"/>
<circle cx="409.3" cy="929.2" r="5.1"/>
<circle cx="330.7" cy="951.6" r="5.1"/>
<circle cx="364.8" cy="937.5" r="5.1"/>
<circle cx="421.3" cy="942.8" r="5.1"/>
<circle cx="421.8" cy="792.8" r="5.1"/>
<circle cx="410.6" cy="911.0" r="5.1"/>
<circle cx="526.9" cy="892.5" r="5.1"/>
<circle cx="321.8" cy="994.0" r="5.1"/>
<circle cx="390.2" cy="979.7" r="5.1"/>
<circle cx="340.8" cy="958.7" r="5.1"/>
<circle cx="386.5" cy="930.7" r="5.1"/>
<circle cx="327.6" cy="885.2" r="5.1"/>
<circle cx="438.7" cy="950.0" r="5.1"/>
<circle cx="370.3" cy="897.5" r="5.1"/>
<circle cx="416.9" cy="943.1" r="5.1"/>
<circle cx="386.0" cy="934.9" r="5.1"/>
<circle cx="441.0" cy="849.0" r="5.1"/>
<circle cx="327.4" cy="882.1" r="5.1"/>
<circle cx="344.9" cy="926.1" r="5.1"/>
<circle cx="333.0" cy="935.6" r="5.1"/>
<circle cx="479.6" cy="868.6" r="5.1"/>
<circle cx="435.5" cy="1008.3" r="5.1"/>
<circle cx="355.6" cy="872.8" r="5.1"/>
<circle cx="395.2" cy="885.8" r="5.1"/>
<circle cx="449.7" cy="837.7" r="5.1"/>
<circle cx="332.6" cy="893.0" r="5.1"/>
<circle cx="378.5" cy="892.5" r="5.1"/>
<circle cx="383.9" cy="919.2" r="5.1"/>
<circle cx="384.6" cy="980.8" r="5.1"/>
<circle cx="442.5" cy="903.6" r="5.1"/>
<circle cx="328.1" cy="921.0" r="5.1"/>
<circle cx="458.5" cy="1003.2" r="5.1"/>
<circle cx="356.0" cy="917.2" r="5.1"/>
<circle cx="337.6" cy="914.0" r="5.1"/>
<circle cx="342.7" cy="952.6" r="5.1"/>
<circle cx="465.8" cy="886.3" r="5.1"/>
<circle cx="335.9" cy="890.6" r="5.1"/>
<circle cx="405.0" cy="922.6" r="5.1"/>
<circle cx="311.6" cy="930.4" r="5.1"/>
<circle cx="414.2" cy="965.7" r="5.1"/>
<circle cx="430.2" cy="917.9" r="5.1"/>
<circle cx="385.8" cy="950.8" r="5.1"/>
<circle cx="440.0" cy="1004.3" r="5.1"/>
<circle cx="331.4" cy="951.9" r="5.1"/>
<circle cx="452.0" cy="882.3" r="5.1"/>
<circle cx="464.4" cy="885.1" r="5.1"/>
<circle cx="394.4" cy="913.0" r="5.1"/>
<circle cx="306.5" cy="939.0" r="5.1"/>
<circle cx="517.9" cy="884.5" r="5.1"/>
<circle cx="444.9" cy="944.0" r="5.1"/>
<circle cx="444.6" cy="947.5" r="5.1"/>
<circle cx="377.2" cy="930.5" r="5.1"/>
<circle cx="436.2" cy="888.1" r="5.1"/>
<circle cx="324.6" cy="962.8" r="5.1"/>
<circle cx="381.0" cy="967.5" r="5.1"/>
<circle cx="337.2" cy="915.8" r="5.1"/>
<circle cx="411.2" cy="993.0" r="5.1"/>
<circle cx="396.0" cy="936.9" r="5.1"/>
<circle cx="401.7" cy="939.8" r="5.1"/>
<circle cx="470.1" cy="949.2" r="5.1"/>
<circle cx="342.4" cy="1026.4" r="5.1"/>
<circle cx="388.1" cy="919.2" r="5.1"/>
<circle cx="509.8" cy="851.2" r="5.1"/>
<circle cx="511.3" cy="903.7" r="5.1"/>
<circle cx="354.4" cy="978.0" r="5.1"/>
<circle cx="428.7" cy="903.3" r="5.1"/>
<circle cx="272.9" cy="989.2" r="5.1"/>
<circle cx="362.3" cy="898.1" r="5.1"/>
<circle cx="480.0" cy="866.1" r="5.1"/>
<circle cx="369.3" cy="931.8" r="5.1"/>
<circle cx="340.0" cy="927.4" r="5.1"/>
<circle cx="406.2" cy="937.8" r="5.1"/>
<circle cx="368.1" cy="942.4" r="5.1"/>
<circle cx="337.3" cy="990.1" r="5.1"/>
<circle cx="362.5" cy="960.1" r="5.1"/>
<circle cx="339.4" cy="940.1" r="5.1"/>
<circle cx="380.2" cy="882.2" r="5.1"/>
<circle cx="516.1" cy="853.6" r="5.1"/>
<circle cx="376.0" cy="907.2" r="5.1"/>
<circle cx="502.8" cy="928.6" r="5.1"/>
<circle cx="381.1" cy="874.3" r="5.1"/>
<circle cx="383.0" cy="966.3" r="5.1"/>
<circle cx="344.9" cy="905.3" r="5.1"/>
<circle cx="320.2" cy="939.9" r="5.1"/>
<circle cx="382.1" cy="907.5" r="5.1"/>
<circle cx="454.5" cy="1024.5" r="5.1"/>
<circle cx="460.7" cy="840.7" r="5.1"/>
<circle cx="413.8" cy="922.5" r="5.1"/>
<circle cx="410.1" cy="969.7" r="5.1"/>
<circle cx="371.8" cy="929.0" r="5.1"/>
<circle cx="374.4" cy="938.0" r="5.1"/>
<circle cx="474.8" cy="917.3" r="5.1"/>
<circle cx="319.5" cy="955.8" r="5.1"/>
<circle cx="372.8" cy="982.1" r="5.1"/>
<circle cx="424.8" cy="953.4" r="5.1"/>
<circle cx="351.9" cy="866.9" r="5.1"/>
<circle cx="422.0" cy="924.0" r="5.1"/>
<circle cx="392.7" cy="870.2" r="5.1"/>
<circle cx="384.6" cy="904.1" r="5.1"/>
<circle cx="368.5" cy="963.0" r="5.1"/>
<circle cx="393.7" cy="888.9" r="5.1"/>
<circle cx="258.5" cy="897.9" r="5.1"/>
<circle cx="390.2" cy="985.7" r="5.1"/>
<circle cx="345.0" cy="855.0" r="5.1"/>
<circle cx="361.3" cy="970.6" r="5.1"/>
<circle cx="502.1" cy="918.8" r="5.1"/>
<circle cx="417.2" cy="925.5" r="5.1"/>
<circle cx="333.2" cy="946.9" r="5.1"/>
<circle cx="362.3" cy="913.8" r="5.1"/>
<circle cx="389.9" cy="914.7" r="5.1"/>
<circle cx="441.7" cy="968.6" r="5.1"/>
<circle cx="440.4" cy="921.7" r="5.1"/>
<circle cx="351.2" cy="885.6" r="5.1"/>
<circle cx="400.8" cy="952.0" r="5.1"/>
<circle cx="371.6" cy="1003.4" r="5.1"/>
<circle cx="386.3" cy="952.8" r="5.1"/>
<circle cx="352.4" cy="897.3" r="5.1"/>
<circle cx="472.7" cy="827.5" r="5.1"/>
<circle cx="428.7" cy="883.1" r="5.1"/>
<circle cx="391.8" cy="894.1" r="5.1"/>
<circle cx="393.8" cy="974.0" r="5.1"/>
<circle cx="473.2" cy="841.9" r="5.1"/>
<circle cx="415.4" cy="961.9" r="5.1"/>
<circle cx="378.8" cy="973.4" r="5.1"/>
<circle cx="368.9" cy="974.5" r="5.1"/>
<circle cx="442.0" cy="958.0" r="5.1"/>
<circle cx="387.9" cy="878.3" r="5.1"/>
<circle cx="404.7" cy="872.3" r="5.1"/>
<circle cx="463.8" cy="958.6" r="5.1"/>
<circle cx="412.8" cy="893.0" r="5.1"/>
<circle cx="457.4" cy="899.4" r="5.1"/>
<circle cx="326.1" cy="955.8" r="5.1"/>
<circle cx="458.7" cy="876.4" r="5.1"/>
<circle cx="393.8" cy="914.6" r="5.1"/>
<circle cx="301.1" cy="963.9" r="5.1"/>
<circle cx="417.0" cy="926.2" r="5.1"/>
<circle cx="341.6" cy="862.6" r="5.1"/>
<circle cx="470.4" cy="917.3" r="5.1"/>
<circle cx="472.8" cy="943.1" r="5.1"/>
<circle cx="360.3" cy="923.0" r="5.1"/>
<circle cx="445.7" cy="977.4" r="5.1"/>
<circle cx="307.0" cy="973.5" r="5.1"/>
<circle cx="371.4" cy="970.8" r="5.1"/>
<circle cx="461.1" cy="875.3" r="5.1"/>
<circle cx="334.8" cy="969.5" r="5.1"/>
<circle cx="348.5" cy="886.1" r="5.1"/>
<circle cx="427.7" cy="885.2" r="5.1"/>
<circle cx="401.1" cy="864.4" r="5.1"/>
<circle cx="418.8" cy="847.6" r="5.1"/>
<circle cx="408.9" cy="836.3" r="5.1"/>
<circle cx="455.2" cy="875.2" r="5.1"/>
<circle cx="313.3" cy="969.4" r="5.1"/>
<circle cx="390.9" cy="886.0" r="5.1"/>
<circle cx="376.3" cy="954.2" r="5.1"/>
<circle cx="322.3" cy="830.8" r="5.1"/>
<circle cx="382.8" cy="957.6" r="5.1"/>
<circle cx="430.9" cy="955.3" r="5.1"/>
<circle cx="414.5" cy="1037.9" r="5.1"/>
<circle cx="441.0" cy="916.3" r="5.1"/>
<circle cx="468.6" cy="929.4" r="5.1"/>
<circle cx="387.0" cy="905.8" r="5.1"/>
<circle cx="454.4" cy="913.2" r="5.1"/>
<circle cx="278.4" cy="950.0" r="5.1"/>
<circle cx="420.3" cy="919.5" r="5.1"/>
<circle cx="422.3" cy="943.3" r="5.1"/>
<circle cx="435.4" cy="979.4" r="5.1"/>
<circle cx="357.5" cy="934.4" r="5.1"/>
<circle cx="426.6" cy="945.6" r="5.1"/>
<circle cx="465.1" cy="956.7" r="5.1"/>
<circle cx="396.0" cy="984.2" r="5.1"/>
<circle cx="396.2" cy="880.3" r="5.1"/>
<circle cx="432.0" cy="1005.2" r="5.1"/>
<circle cx="423.9" cy="890.1" r="5.1"/>
<circle cx="261.2" cy="978.0" r="5.1"/>
<circle cx="361.9" cy="954.0" r="5.1"/>
<circle cx="524.7" cy="885.0" r="5.1"/>
<circle cx="390.8" cy="888.6" r="5.1"/>
<circle cx="332.1" cy="959.1" r="5.1"/>
<circle cx="435.1" cy="1046.6" r="5.1"/>
<circle cx="362.1" cy="921.3" r="5.1"/>
<circle cx="452.3" cy="898.3" r="5.1"/>
<circle cx="448.3" cy="971.9" r="5.1"/>
<circle cx="438.6" cy="833.3" r="5.1"/>
<circle cx="521.2" cy="882.7" r="5.1"/>
<circle cx="487.1" cy="915.3" r="5.1"/>
<circle cx="517.1" cy="809.6" r="5.1"/>
<circle cx="308.4" cy="854.9" r="5.1"/>
<circle cx="512.7" cy="928.9" r="5.1"/>
<circle cx="584.1" cy="893.8" r="5.1"/>
<circle cx="601.0" cy="807.4" r="5.1"/>
<circle cx="515.2" cy="775.0" r="5.1"/>
<circle cx="540.7" cy="865.4" r="5.1"/>
<circle cx="473.5" cy="860.8" r="5.1"/>
<circle cx="427.0" cy="921.6" r="5.1"/>
<circle cx="557.1" cy="813.4" r="5.1"/>
<circle cx="505.3" cy="828.9" r="5.1"/>
<circle cx="480.3" cy="825.4" r="5.1"/>
<circle cx="507.2" cy="852.4" r="5.1"/>
<circle cx="493.8" cy="839.1" r="5.1"/>
<circle cx="411.8" cy="905.1" r="5.1"/>
<circle cx="590.7" cy="900.1" r="5.1"/>
<circle cx="490.4" cy="918.9" r="5.1"/>
<circle cx="544.9" cy="862.8" r="5.1"/>
<circle cx="405.6" cy="945.0" r="5.1"/>
<circle cx="461.3" cy="957.7" r="5.1"/>
<circle cx="552.2" cy="870.7" r="5.1"/>
<circle cx="354.3" cy="993.0" r="5.1"/>
<circle cx="500.2" cy="798.2" r="5.1"/>
<circle cx="549.7" cy="842.4" r="5.1"/>
<circle cx="461.5" cy="853.2" r="5.1"/>
<circle cx="418.6" cy="895.1" r="5.1"/>
<circle cx="678.9" cy="769.7" r="5.1"/>
<circle cx="486.4" cy="841.4" r="5.1"/>
<circle cx="439.6" cy="875.6" r="5.1"/>
<circle cx="458.8" cy="942.6" r="5.1"/>
<circle cx="495.2" cy="919.6" r="5.1"/>
<circle cx="444.1" cy="954.6" r="5.1"/>
<circle cx="504.9" cy="902.7" r="5.1"/>
<circle cx="461.9" cy="843.3" r="5.1"/>
<circle cx="551.4" cy="813.1" r="5.1"/>
<circle cx="459.4" cy="845.0" r="5.1"/>
<circle cx="492.6" cy="851.9" r="5.1"/>
<circle cx="515.3" cy="878.4" r="5.1"/>
<circle cx="414.2" cy="843.9" r="5.1"/>
<circle cx="538.4" cy="895.8" r="5.1"/>
<circle cx="503.2" cy="803.6" r="5.1"/>
<circle cx="535.5" cy="868.1" r="5.1"/>
<circle cx="517.5" cy="881.8" r="5.1"/>
<circle cx="476.0" cy="895.5" r="5.1"/>
<circle cx="532.8" cy="820.7" r="5.1"/>
<circle cx="401.6" cy="923.7" r="5.1"/>
<circle cx="456.2" cy="794.0" r="5.1"/>
<circle cx="464.2" cy="923.4" r="5.1"/>
<circle cx="483.3" cy="884.2" r="5.1"/>
<circle cx="437.4" cy="957.5" r="5.1"/>
<circle cx="589.6" cy="802.5" r="5.1"/>
<circle cx="417.8" cy="855.6" r="5.1"/>
<circle cx="545.6" cy="846.4" r="5.1"/>
<circle cx="472.6" cy="952.7" r="5.1"/>
<circle cx="550.4" cy="871.0" r="5.1"/>
<circle cx="382.6" cy="935.5" r="5.1"/>
<circle cx="497.1" cy="803.0" r="5.1"/>
<circle cx="580.6" cy="898.1" r="5.1"/>
<circle cx="533.8" cy="808.1" r="5.1"/>
<circle cx="471.1" cy="938.7" r="5.1"/>
<circle cx="579.6" cy="887.6" r="5.1"/>
<circle cx="559.1" cy="826.9" r="5.1"/>
<circle cx="419.8" cy="815.9" r="5.1"/>
<circle cx="592.9" cy="937.2" r="5.1"/>
<circle cx="450.7" cy="873.0" r="5.1"/>
<circle cx="537.9" cy="866.1" r="5.1"/>
<circle cx="390.7" cy="896.8" r="5.1"/>
<circle cx="474.5" cy="996.2" r="5.1"/>
<circle cx="468.3" cy="935.5" r="5.1"/>
<circle cx="651.0" cy="880.3" r="5.1"/>
<circle cx="615.1" cy="887.8" r="5.1"/>
<circle cx="407.9" cy="906.6" r="5.1"/>
<circle cx="439.5" cy="890.2" r="5.1"/>
<circle cx="604.7" cy="711.5" r="5.1"/>
<circle cx="492.8" cy="805.0" r="5.1"/>
<circle cx="601.8" cy="877.8" r="5.1"/>
<circle cx="510.6" cy="976.6" r="5.1"/>
<circle cx="526.6" cy="924.4" r="5.1"/>
<circle cx="494.7" cy="841.2" r="5.1"/>
<circle cx="464.4" cy="884.3" r="5.1"/>
<circle cx="529.9" cy="857.3" r="5.1"/>
<circle cx="625.8" cy="780.5" r="5.1"/>
<circle cx="444.4" cy="863.4" r="5.1"/>
<circle cx="408.2" cy="846.0" r="5.1"/>
<circle cx="453.7" cy="947.5" r="5.1"/>
<circle cx="489.4" cy="865.9" r="5.1"/>
<circle cx="537.2" cy="904.8" r="5.1"/>
<circle cx="545.7" cy="883.3" r="5.1"/>
<circle cx="450.2" cy="885.1" r="5.1"/>
<circle cx="441.4" cy="899.7" r="5.1"/>
<circle cx="432.1" cy="890.1" r="5.1"/>
<circle cx="474.3" cy="872.8" r="5.1"/>
<circle cx="462.0" cy="865.1" r="5.1"/>
<circle cx="559.6" cy="813.2" r="5.1"/>
<circle cx="434.5" cy="919.9" r="5.1"/>
<circle cx="398.6" cy="872.1" r="5.1"/>
<circle cx="453.9" cy="805.2" r="5.1"/>
<circle cx="305.3" cy="1004.8" r="5.1"/>
<circle cx="510.4" cy="770.1" r="5.1"/>
<circle cx="450.8" cy="931.1" r="5.1"/>
<circle cx="350.1" cy="913.1" r="5.1"/>
<circle cx="413.4" cy="911.3" r="5.1"/>
<circle cx="394.6" cy="983.3" r="5.1"/>
<circle cx="488.9" cy="892.4" r="5.1"/>
<circle cx="418.1" cy="802.2" r="5.1"/>
<circle cx="447.9" cy="827.0" r="5.1"/>
<circle cx="469.6" cy="840.5" r="5.1"/>
<circle cx="465.9" cy="878.2" r="5.1"/>
<circle cx="554.9" cy="877.3" r="5.1"/>
<circle cx="429.7" cy="911.3" r="5.1"/>
<circle cx="589.1" cy="841.1" r="5.1"/>
<circle cx="443.6" cy="897.0" r="5.1"/>
<circle cx="492.5" cy="925.4" r="5.1"/>
<circle cx="501.2" cy="888.8" r="5.1"/>
<circle cx="587.7" cy="738.6" r="5.1"/>
<circle cx="386.9" cy="843.0" r="5.1"/>
<circle cx="416.3" cy="967.8" r="5.1"/>
<circle cx="547.7" cy="929.5" r="5.1"/>
<circle cx="350.6" cy="912.3" r="5.1"/>
<circle cx="601.4" cy="863.1" r="5.1"/>
<circle cx="564.2" cy="877.3" r="5.1"/>
<circle cx="491.7" cy="873.4" r="5.1"/>
<circle cx="512.7" cy="907.5" r="5.1"/>
<circle cx="488.2" cy="893.8" r="5.1"/>
<circle cx="548.8" cy="776.6" r="5.1"/>
<circle cx="459.3" cy="925.2" r="5.1"/>
<circle cx="470.4" cy="878.4" r="5.1"/>
<circle cx="625.3" cy="814.5" r="5.1"/>
<circle cx="492.2" cy="934.3" r="5.1"/>
<circle cx="612.6" cy="738.1" r="5.1"/>
<circle cx="453.0" cy="904.3" r="5.1"/>
<circle cx="505.7" cy="985.2" r="5.1"/>
<circle cx="511.5" cy="839.7" r="5.1"/>
<circle cx="499.6" cy="825.1" r="5.1"/>
<circle cx="456.6" cy="901.5" r="5.1"/>
<circle cx="548.4" cy="913.6" r="5.1"/>
<circle cx="581.5" cy="924.7" r="5.1"/>
<circle cx="520.4" cy="864.3" r="5.1"/>
<circle cx="461.0" cy="845.6" r="5.1"/>
<circle cx="558.2" cy="767.6" r="5.1"/>
<circle cx="469.7" cy="858.6" r="5.1"/>
<circle cx="388.4" cy="815.0" r="5.1"/>
<circle cx="470.6" cy="894.5" r="5.1"/>
<circle cx="519.4" cy="903.5" r="5.1"/>
<circle cx="464.5" cy="855.3" r="5.1"/>
<circle cx="524.7" cy="890.3" r="5.1"/>
<circle cx="398.7" cy="847.4" r="5.1"/>
<circle cx="455.0" cy="955.0" r="5.1"/>
<circle cx="527.6" cy="802.9" r="5.1"/>
<circle cx="517.3" cy="904.5" r="5.1"/>
<circle cx="552.9" cy="799.8" r="5.1"/>
<circle cx="510.5" cy="940.2" r="5.1"/>
<circle cx="671.4" cy="847.6" r="5.1"/>
<circle cx="433.1" cy="934.9" r="5.1"/>
<circle cx="470.7" cy="883.6" r="5.1"/>
<circle cx="438.7" cy="880.2" r="5.1"/>
<circle cx="533.9" cy="947.5" r="5.1"/>
<circle cx="542.2" cy="866.4" r="5.1"/>
<circle cx="473.1" cy="844.0" r="5.1"/>
<circle cx="506.9" cy="933.0" r="5.1"/>
<circle cx="587.9" cy="923.1" r="5.1"/>
<circle cx="505.0" cy="864.6" r="5.1"/>
<circle cx="403.4" cy="950.4" r="5.1"/>
<circle cx="425.0" cy="999.4" r="5.1"/>
<circle cx="452.5" cy="898.2" r="5.1"/>
<circle cx="397.3" cy="904.8" r="5.1"/>
<circle cx="462.4" cy="954.5" r="5.1"/>
<circle cx="475.7" cy="818.7" r="5.1"/>
<circle cx="373.3" cy="943.2" r="5.1"/>
<circle cx="433.6" cy="848.5" r="5.1"/>
<circle cx="520.6" cy="845.9" r="5.1"/>
<circle cx="482.1" cy="847.3" r="5.1"/>
<circle cx="444.7" cy="877.5" r="5.1"/>
<circle cx="410.0" cy="959.1" r="5.1"/>
<circle cx="471.5" cy="791.3" r="5.1"/>
<circle cx="524.6" cy="917.4" r="5.1"/>
<circle cx="536.1" cy="918.1" r="5.1"/>
<circle cx="474.1" cy="884.9" r="5.1"/>
<circle cx="390.2" cy="886.6" r="5.1"/>
<circle cx="359.3" cy="906.2" r="5.1"/>
<circle cx="517.4" cy="886.8" r="5.1"/>
<circle cx="562.5" cy="837.5" r="5.1"/>
<circle cx="441.7" cy="928.6" r="5.1"/>
<circle cx="525.4" cy="951.7" r="5.1"/>
<circle cx="630.3" cy="841.4" r="5.1"/>
<circle cx="409.3" cy="895.8" r="5.1"/>
<circle cx="483.8" cy="839.5" r="5.1"/>
<circle cx="538.1" cy="883.2" r="5.1"/>
<circle cx="545.6" cy="853.3" r="5.1"/>
<circle cx="416.6" cy="873.8" r="5.1"/>
<circle cx="515.4" cy="932.6" r="5.1"/>
<circle cx="607.9" cy="856.3" r="5.1"/>
<circle cx="528.3" cy="888.7" r="5.1"/>
<circle cx="570.9" cy="896.5" r="5.1"/>
<circle cx="503.1" cy="782.1" r="5.1"/>
<circle cx="556.3" cy="855.4" r="5.1"/>
<circle cx="475.6" cy="912.9" r="5.1"/>
<circle cx="505.8" cy="862.2" r="5.1"/>
<circle cx="392.1" cy="941.5" r="5.1"/>
<circle cx="522.0" cy="852.6" r="5.1"/>
<circle cx="406.7" cy="951.7" r="5.1"/>
<circle cx="537.3" cy="855.8" r="5.1"/>
<circle cx="506.7" cy="845.3" r="5.1"/>
<circle cx="463.7" cy="920.2" r="5.1"/>
<circle cx="473.4" cy="895.3" r="5.1"/>
<circle cx="701.5" cy="783.8" r="5.1"/>
<circle cx="458.1" cy="805.1" r="5.1"/>
<circle cx="514.4" cy="901.8" r="5.1"/>
<circle cx="442.1" cy="891.4" r="5.1"/>
<circle cx="369.4" cy="980.1" r="5.1"/>
<circle cx="471.4" cy="924.2" r="5.1"/>
<circle cx="567.3" cy="818.4" r="5.1"/>
<circle cx="554.8" cy="848.8" r="5.1"/>
<circle cx="470.9" cy="871.3" r="5.1"/>
<circle cx="471.0" cy="957.6" r="5.1"/>
<circle cx="517.6" cy="802.4" r="5.1"/>
<circle cx="522.2" cy="814.9" r="5.1"/>
<circle cx="429.9" cy="978.3" r="5.1"/>
<circle cx="443.0" cy="969.4" r="5.1"/>
<circle cx="524.1" cy="903.8" r="5.1"/>
<circle cx="549.0" cy="902.4" r="5.1"/>
<circle cx="525.0" cy="885.4" r="5.1"/>
<circle cx="531.8" cy="909.7" r="5.1"/>
<circle cx="491.7" cy="930.0" r="5.1"/>
<circle cx="578.2" cy="817.1" r="5.1"/>
<circle cx="503.5" cy="838.3" r="5.1"/>
<circle cx="479.3" cy="896.0" r="5.1"/>
<circle cx="447.8" cy="852.1" r="5.1"/>
<circle cx="493.0" cy="883.7" r="5.1"/>
<circle cx="526.8" cy="891.5" r="5.1"/>
<circle cx="419.2" cy="996.7" r="5.1"/>
<circle cx="460.7" cy="850.4" r="5.1"/>
<circle cx="478.8" cy="906.3" r="5.1"/>
<circle cx="532.8" cy="828.4" r="5.1"/>
<circle cx="460.0" cy="805.4" r="5.1"/>
<circle cx="497.3" cy="864.3" r="5.1"/>
<circle cx="486.2" cy="926.3" r="5.1"/>
<circle cx="622.3" cy="850.4" r="5.1"/>
<circle cx="481.1" cy="964.8" r="5.1"/>
<circle cx="469.1" cy="885.6" r="5.1"/>
<circle cx="466.7" cy="914.6" r="5.1"/>
<circle cx="526.5" cy="860.5" r="5.1"/>
<circle cx="474.0" cy="877.0" r="5.1"/>
<circle cx="490.1" cy="928.6" r="5.1"/>
<circle cx="455.4" cy="888.2" r="5.1"/>
<circle cx="459.1" cy="852.8" r="5.1"/>
<circle cx="440.3" cy="824.8" r="5.1"/>
<circle cx="527.6" cy="881.6" r="5.1"/>
<circle cx="510.4" cy="948.0" r="5.1"/>
<circle cx="454.9" cy="927.2" r="5.1"/>
<circle cx="505.2" cy="836.1" r="5.1"/>
<circle cx="497.6" cy="919.3" r="5.1"/>
<circle cx="500.6" cy="884.0" r="5.1"/>
<circle cx="578.4" cy="832.4" r="5.1"/>
<circle cx="372.7" cy="906.9" r="5.1"/>
<circle cx="536.4" cy="839.3" r="5.1"/>
<circle cx="377.4" cy="835.7" r="5.1"/>
<circle cx="546.1" cy="922.9" r="5.1"/>
<circle cx="362.5" cy="834.5" r="5.1"/>
<circle cx="506.2" cy="835.3" r="5.1"/>
<circle cx="464.7" cy="872.9" r="5.1"/>
<circle cx="447.4" cy="925.5" r="5.1"/>
<circle cx="553.4" cy="855.9" r="5.1"/>
<circle cx="482.6" cy="936.7" r="5.1"/>
<circle cx="497.7" cy="902.1" r="5.1"/>
<circle cx="592.5" cy="819.6" r="5.1"/>
<circle cx="681.1" cy="788.5" r="5.1"/>
<circle cx="633.7" cy="786.2" r="5.1"/>
<circle cx="613.0" cy="815.4" r="5.1"/>
<circle cx="679.2" cy="781.9" r="5.1"/>
<circle cx="586.8" cy="753.1" r="5.1"/>
<circle cx="618.4" cy="771.3" r="5.1"/>
<circle cx="600.5" cy="812.7" r="5.1"/>
<circle cx="675.6" cy="758.6" r="5.1"/>
<circle cx="683.2" cy="753.9" r="5.1"/>
<circle cx="570.1" cy="787.1" r="5.1"/>
<circle cx="620.1" cy="803.6" r="5.1"/>
<circle cx="670.0" cy="752.3" r="5.1"/>
<circle cx="658.4" cy="723.9" r="5.1"/>
<circle cx="644.7" cy="818.5" r="5.1"/>
<circle cx="663.0" cy="790.5" r="5.1"/>
<circle cx="510.1" cy="783.9" r="5.1"/>
<circle cx="601.9" cy="826.7" r="5.1"/>
<circle cx="690.0" cy="712.0" r="5.1"/>
<circle cx="562.8" cy="775.8" r="5.1"/>
<circle cx="593.1" cy="815.3" r="5.1"/>
<circle cx="641.8" cy="834.4" r="5.1"/>
<circle cx="647.1" cy="736.1" r="5.1"/>
<circle cx="633.5" cy="764.1" r="5.1"/>
<circle cx="676.7" cy="776.8" r="5.1"/>
<circle cx="623.9" cy="808.8" r="5.1"/>
<circle cx="650.0" cy="756.5" r="5.1"/>
<circle cx="648.2" cy="786.0" r="5.1"/>
<circle cx="599.3" cy="765.9" r="5.1"/>
<circle cx="683.8" cy="739.0" r="5.1"/>
<circle cx="605.5" cy="804.2" r="5.1"/>
<circle cx="558.2" cy="818.4" r="5.1"/>
<circle cx="555.5" cy="802.2" r="5.1"/>
<circle cx="531.3" cy="806.4" r="5.1"/>
<circle cx="663.4" cy="744.7" r="5.1"/>
<circle cx="598.1" cy="856.0" r="5.1"/>
<circle cx="620.8" cy="832.6" r="5.1"/>
<circle cx="576.9" cy="750.7" r="5.1"/>
<circle cx="703.0" cy="711.1" r="5.1"/>
<circle cx="679.9" cy="785.3" r="5.1"/>
<circle cx="566.1" cy="814.2" r="5.1"/>
<circle cx="608.9" cy="807.5" r="5.1"/>
<circle cx="603.9" cy="741.6" r="5.1"/>
<circle cx="640.6" cy="793.8" r="5.1"/>
<circle cx="621.1" cy="798.4" r="5.1"/>
<circle cx="600.0" cy="788.7" r="5.1"/>
<circle cx="643.7" cy="768.9" r="5.1"/>
<circle cx="699.3" cy="764.4" r="5.1"/>
<circle cx="675.9" cy="770.4" r="5.1"/>
<circle cx="613.4" cy="739.5" r="5.1"/>
<circle cx="702.8" cy="791.3" r="5.1"/>
<circle cx="631.5" cy="761.9" r="5.1"/>
<circle cx="643.6" cy="808.2" r="5.1"/>
<circle cx="622.4" cy="740.7" r="5.1"/>
<circle cx="604.9" cy="759.4" r="5.1"/>
<circle cx="215.7" cy="1015.2" r="5.1"/>
<circle cx="287.7" cy="933.8" r="5.1"/>
<circle cx="171.0" cy="1066.0" r="5.1"/>
<circle cx="191.2" cy="1005.1" r="5.1"/>
<circle cx="276.3" cy="940.8" r="5.1"/>
<circle cx="316.0" cy="1035.7" r="5.1"/>
<circle cx="209.6" cy="1031.4" r="5.1"/>
<circle cx="258.4" cy="1042.9" r="5.1"/>
<circle cx="285.8" cy="1012.7" r="5.1"/>
<circle cx="198.4" cy="1020.9" r="5.1"/>
<circle cx="183.2" cy="1042.1" r="5.1"/>
<circle cx="419.3" cy="871.1" r="5.1"/>
<circle cx="370.3" cy="991.0" r="5.1"/>
<circle cx="270.4" cy="1038.0" r="5.1"/>
<circle cx="261.0" cy="1116.7" r="5.1"/>
<circle cx="286.1" cy="1016.7" r="5.1"/>
<circle cx="246.7" cy="1052.8" r="5.1"/>
<circle cx="162.7" cy="1077.8" r="5.1"/>
<circle cx="221.0" cy="1090.4" r="5.1"/>
<circle cx="250.2" cy="943.9" r="5.1"/>
<circle cx="257.9" cy="1086.7" r="5.1"/>
<circle cx="131.9" cy="1052.2" r="5.1"/>
<circle cx="318.5" cy="991.5" r="5.1"/>
<circle cx="190.8" cy="1014.1" r="5.1"/>
<circle cx="250.0" cy="1011.7" r="5.1"/>
<circle cx="275.6" cy="1046.6" r="5.1"/>
<circle cx="293.0" cy="997.1" r="5.1"/>
<circle cx="214.3" cy="1064.0" r="5.1"/>
<circle cx="247.8" cy="1050.7" r="5.1"/>
<circle cx="207.8" cy="1054.2" r="5.1"/>
<circle cx="195.7" cy="1043.5" r="5.1"/>
<circle cx="288.5" cy="1076.3" r="5.1"/>
<circle cx="226.4" cy="1085.2" r="5.1"/>
<circle cx="277.8" cy="1029.0" r="5.1"/>
<circle cx="285.9" cy="989.4" r="5.1"/>
<circle cx="297.6" cy="1026.5" r="5.1"/>
<circle cx="338.4" cy="1087.0" r="5.1"/>
<circle cx="232.8" cy="1068.1" r="5.1"/>
<circle cx="365.4" cy="888.3" r="5.1"/>
<circle cx="529.8" cy="917.4" r="5.1"/>
<circle cx="212.6" cy="961.5" r="5.1"/>
<circle cx="321.8" cy="945.9" r="5.1"/>
<circle cx="440.8" cy="939.7" r="5.1"/>
<circle cx="408.2" cy="975.4" r="5.1"/>
<circle cx="350.4" cy="1090.9" r="5.1"/>
<circle cx="449.4" cy="929.1" r="5.1"/>
<circle cx="376.8" cy="966.1" r="5.1"/>
<circle cx="117.7" cy="1100.3" r="5.1"/>
<circle cx="348.6" cy="839.2" r="5.1"/>
<circle cx="398.9" cy="814.2" r="5.1"/>
<circle cx="416.9" cy="941.1" r="5.1"/>
<circle cx="470.2" cy="882.8" r="5.1"/>
<circle cx="302.5" cy="946.9" r="5.1"/>
<circle cx="378.5" cy="957.5" r="5.1"/>
<circle cx="264.8" cy="1007.4" r="5.1"/>
<circle cx="292.4" cy="1079.9" r="5.1"/>
<circle cx="167.6" cy="955.7" r="5.1"/>
<circle cx="324.2" cy="1062.5" r="5.1"/>
<circle cx="432.3" cy="888.9" r="5.1"/>
<circle cx="476.8" cy="955.3" r="5.1"/>
<circle cx="326.5" cy="936.0" r="5.1"/>
<circle cx="300.4" cy="898.7" r="5.1"/>
<circle cx="302.4" cy="962.4" r="5.1"/>
<circle cx="430.2" cy="968.9" r="5.1"/>
<circle cx="316.1" cy="1087.7" r="5.1"/>
<circle cx="513.5" cy="891.9" r="5.1"/>
<circle cx="288.8" cy="1071.2" r="5.1"/>
<circle cx="517.0" cy="1069.1" r="5.1"/>
<circle cx="731.9" cy="925.7" r="5.1"/>
<circle cx="427.0" cy="1033.2" r="5.1"/>
<circle cx="312.9" cy="952.4" r="5.1"/>
<circle cx="394.4" cy="1098.6" r="5.1"/>
<circle cx="454.6" cy="894.9" r="5.1"/>
<circle cx="444.8" cy="1008.4" r="5.1"/>
<circle cx="430.6" cy="933.0" r="5.1"/>
<circle cx="246.9" cy="981.2" r="5.1"/>
<circle cx="282.7" cy="976.7" r="5.1"/>
<circle cx="102.6" cy="1007.7" r="5.1"/>
<circle cx="424.9" cy="836.1" r="5.1"/>
<circle cx="193.1" cy="1079.3" r="5.1"/>
<circle cx="596.0" cy="952.2" r="5.1"/>
<circle cx="265.3" cy="942.4" r="5.1"/>
<circle cx="254.8" cy="960.4" r="5.1"/>
<circle cx="311.0" cy="1055.3" r="5.1"/>
<circle cx="193.3" cy="1010.3" r="5.1"/>
<circle cx="326.5" cy="998.4" r="5.1"/>
<circle cx="230.4" cy="986.6" r="5.1"/>
<circle cx="185.9" cy="1017.5" r="5.1"/>
<circle cx="789.7" cy="665.5" r="5.1"/>
<circle cx="796.5" cy="665.5" r="5.1"/>
<circle cx="796.0" cy="694.6" r="5.1"/>
<circle cx="801.4" cy="705.5" r="5.1"/>
<circle cx="770.7" cy="715.8" r="5.1"/>
<circle cx="710.4" cy="710.1" r="5.1"/>
<circle cx="715.8" cy="710.1" r="5.1"/>
<circle cx="702.2" cy="729.1" r="5.1"/>
<circle cx="725.3" cy="736.7" r="5.1"/>
<circle cx="721.8" cy="739.4" r="5.1"/>
<circle cx="712.8" cy="747.0" r="5.1"/>
<circle cx="700.0" cy="750.3" r="5.1"/>
<circle cx="725.3" cy="749.7" r="5.1"/>
<circle cx="730.0" cy="760.6" r="5.1"/>
<circle cx="734.0" cy="761.2" r="5.1"/>
<circle cx="745.4" cy="789.7" r="5.1"/>
<circle cx="725.3" cy="800.0" r="5.1"/>
<circle cx="755.8" cy="847.3" r="5.1"/>
<circle cx="675.0" cy="721.2" r="5.1"/>
<circle cx="642.2" cy="717.7" r="5.1"/>
<circle cx="636.8" cy="726.7" r="5.1"/>
<circle cx="541.1" cy="723.7" r="5.1"/>
<circle cx="654.7" cy="935.0" r="5.1"/>
<circle cx="621.8" cy="895.6" r="5.1"/>
<circle cx="596.3" cy="908.4" r="5.1"/>
<circle cx="596.3" cy="961.4" r="5.1"/>
<circle cx="578.6" cy="966.8" r="5.1"/>
<circle cx="493.0" cy="1001.0" r="5.1"/>
<circle cx="533.2" cy="1003.8" r="5.1"/>
<circle cx="510.7" cy="1019.3" r="5.1"/>
<circle cx="500.6" cy="1029.6" r="5.1"/>
<circle cx="495.5" cy="1072.2" r="5.1"/>
<circle cx="538.4" cy="1069.5" r="5.1"/>
<circle cx="541.1" cy="1096.1" r="5.1"/>
<circle cx="96.0" cy="1027.0" r="5.1"/>
<circle cx="98.0" cy="1078.0" r="5.1"/>
<circle cx="105.0" cy="1096.0" r="5.1"/>
<circle cx="127.0" cy="1080.0" r="5.1"/>
<circle cx="107.0" cy="1046.0" r="5.1"/>
<circle cx="127.0" cy="1046.0" r="5.1"/>
<circle cx="141.0" cy="1097.0" r="5.1"/>
<circle cx="153.0" cy="1064.0" r="5.1"/>
<circle cx="178.0" cy="1059.0" r="5.1"/>
<circle cx="195.0" cy="1064.0" r="5.1"/>
<circle cx="140.0" cy="974.0" r="5.1"/>
<circle cx="155.0" cy="911.0" r="5.1"/>
<circle cx="183.0" cy="879.0" r="5.1"/>
<circle cx="232.0" cy="824.0" r="5.1"/>
<circle cx="301.0" cy="811.0" r="5.1"/>
<circle cx="313.0" cy="822.0" r="5.1"/>
<circle cx="313.0" cy="839.0" r="5.1"/>
<circle cx="336.0" cy="824.0" r="5.1"/>
<circle cx="441.0" cy="1096.0" r="5.1"/>
<circle cx="365.0" cy="1107.0" r="5.1"/>
</g>
<rect x="78.30" y="602.00" width="847.30" height="515.00" fill="none" stroke="#000" stroke-width="1.70"/>
<line x1="78.30" y1="731.00" x2="98.80" y2="731.00" stroke="#000" stroke-width="1.40" stroke-linecap="butt"/>
<line x1="78.30" y1="860.90" x2="98.80" y2="860.90" stroke="#000" stroke-width="1.40" stroke-linecap="butt"/>
<line x1="78.30" y1="989.00" x2="98.80" y2="989.00" stroke="#000" stroke-width="1.40" stroke-linecap="butt"/>
<line x1="244.90" y1="1096.50" x2="244.90" y2="1117.00" stroke="#000" stroke-width="1.40" stroke-linecap="butt"/>
<line x1="413.80" y1="1096.50" x2="413.80" y2="1117.00" stroke="#000" stroke-width="1.40" stroke-linecap="butt"/>
<line x1="588.60" y1="1096.50" x2="588.60" y2="1117.00" stroke="#000" stroke-width="1.40" stroke-linecap="butt"/>
<line x1="756.40" y1="1096.50" x2="756.40" y2="1117.00" stroke="#000" stroke-width="1.40" stroke-linecap="butt"/>
<rect x="391.95" y="785.85" width="26.50" height="26.50" fill="#AB7C51" stroke="#231f20" stroke-width="1.00"/>
<rect x="560.35" y="764.55" width="26.50" height="26.50" fill="#0B6B3A" stroke="#231f20" stroke-width="1.00"/>
<rect x="378.25" y="890.15" width="26.50" height="26.50" fill="#000" stroke="#231f20" stroke-width="1.00"/>
<rect x="398.65" y="929.35" width="26.50" height="26.50" fill="#F15A2D" stroke="#231f20" stroke-width="1.00"/>
<polygon points="657.10,714.15 671.85,744.65 642.35,744.65" fill="#8ED8F6" stroke="#111" stroke-width="1.10" stroke-linejoin="miter"/>
<polygon points="525.90,761.75 540.65,792.25 511.15,792.25" fill="#8ED8F6" stroke="#111" stroke-width="1.10" stroke-linejoin="miter"/>
<polygon points="551.00,794.25 565.75,824.75 536.25,824.75" fill="#8ED8F6" stroke="#111" stroke-width="1.10" stroke-linejoin="miter"/>
<polygon points="553.70,812.75 568.45,843.25 538.95,843.25" fill="#8ED8F6" stroke="#111" stroke-width="1.10" stroke-linejoin="miter"/>
<polygon points="465.50,809.35 480.25,839.85 450.75,839.85" fill="#8ED8F6" stroke="#111" stroke-width="1.10" stroke-linejoin="miter"/>
<polygon points="492.40,819.45 507.15,849.95 477.65,849.95" fill="#8ED8F6" stroke="#111" stroke-width="1.10" stroke-linejoin="miter"/>
<polygon points="445.40,843.55 460.15,874.05 430.65,874.05" fill="#8ED8F6" stroke="#111" stroke-width="1.10" stroke-linejoin="miter"/>
<polygon points="432.00,875.75 446.75,906.25 417.25,906.25" fill="#8ED8F6" stroke="#111" stroke-width="1.10" stroke-linejoin="miter"/>
<polygon points="462.90,906.55 477.65,937.05 448.15,937.05" fill="#8ED8F6" stroke="#111" stroke-width="1.10" stroke-linejoin="miter"/>
<polygon points="299.60,992.05 314.35,1022.55 284.85,1022.55" fill="#8ED8F6" stroke="#111" stroke-width="1.10" stroke-linejoin="miter"/>
<polygon points="349.20,1004.45 363.95,1034.95 334.45,1034.95" fill="#8ED8F6" stroke="#111" stroke-width="1.10" stroke-linejoin="miter"/>
<polygon points="508.10,832.85 522.85,863.35 493.35,863.35" fill="#A698C6" stroke="#111" stroke-width="1.10" stroke-linejoin="miter"/>
<polygon points="442.10,885.85 456.85,916.35 427.35,916.35" fill="#A698C6" stroke="#111" stroke-width="1.10" stroke-linejoin="miter"/>
<polygon points="379.40,906.55 394.15,937.05 364.65,937.05" fill="#A698C6" stroke="#111" stroke-width="1.10" stroke-linejoin="miter"/>
<polygon points="396.80,933.45 411.55,963.95 382.05,963.95" fill="#A698C6" stroke="#111" stroke-width="1.10" stroke-linejoin="miter"/>
<polygon points="482.30,928.35 497.05,958.85 467.55,958.85" fill="#A698C6" stroke="#111" stroke-width="1.10" stroke-linejoin="miter"/>
<polygon points="457.80,938.45 472.55,968.95 443.05,968.95" fill="#A698C6" stroke="#111" stroke-width="1.10" stroke-linejoin="miter"/>
<polygon points="353.20,946.15 367.95,976.65 338.45,976.65" fill="#A698C6" stroke="#111" stroke-width="1.10" stroke-linejoin="miter"/>
<polygon points="328.10,946.15 342.85,976.65 313.35,976.65" fill="#A698C6" stroke="#111" stroke-width="1.10" stroke-linejoin="miter"/>
<polygon points="285.50,986.05 300.25,1016.55 270.75,1016.55" fill="#A698C6" stroke="#111" stroke-width="1.10" stroke-linejoin="miter"/>
<polygon points="293.60,1014.85 308.35,1045.35 278.85,1045.35" fill="#A698C6" stroke="#111" stroke-width="1.10" stroke-linejoin="miter"/>
<polygon points="220.10,1022.95 234.85,1053.45 205.35,1053.45" fill="#A698C6" stroke="#111" stroke-width="1.10" stroke-linejoin="miter"/>
<rect x="319.55" y="949.15" width="26.50" height="26.50" fill="#C1272D" stroke="#231f20" stroke-width="1.00"/>
<polygon points="462.90,906.55 477.65,937.05 448.15,937.05" fill="#8ED8F6" stroke="#111" stroke-width="1.10" stroke-linejoin="miter"/>
<polygon points="551.00,794.25 565.75,824.75 536.25,824.75" fill="#8ED8F6" stroke="#111" stroke-width="1.10" stroke-linejoin="miter"/>
<polygon points="553.70,812.75 568.45,843.25 538.95,843.25" fill="#8ED8F6" stroke="#111" stroke-width="1.10" stroke-linejoin="miter"/>
<polygon points="123.60,622.60 134.85,644.50 112.35,644.50" fill="#8ED8F6" stroke="#111" stroke-width="1.00" stroke-linejoin="miter"/>
<polygon points="123.60,651.60 134.85,673.40 112.35,673.40" fill="#A698C6" stroke="#111" stroke-width="1.00" stroke-linejoin="miter"/>
<rect x="112.60" y="680.80" width="22.00" height="22.00" fill="#C1272D" stroke="#231f20" stroke-width="1.00"/>
<circle cx="123.6" cy="722.6" r="11.3" fill="#A7A9AC" stroke="#4d4d4f" stroke-width="1"/>
<rect x="112.60" y="740.30" width="22.00" height="22.00" fill="#000" stroke="#231f20" stroke-width="1.00"/>
<rect x="112.60" y="770.20" width="22.00" height="22.00" fill="#F15A2D" stroke="#231f20" stroke-width="1.00"/>
<rect x="112.60" y="799.90" width="22.00" height="22.00" fill="#AB7C51" stroke="#231f20" stroke-width="1.00"/>
<rect x="112.60" y="829.30" width="22.00" height="22.00" fill="#0B6B3A" stroke="#231f20" stroke-width="1.00"/>
<text transform="translate(147.90 639.70) scale(0.9100 1)" font-size="22.20" text-anchor="start" fill="#000">Group 1 (Blueschists; this study)</text>
<text transform="translate(147.90 669.40) scale(0.9100 1)" font-size="22.20" text-anchor="start" fill="#000">Group 2 (Eclogites; this study)</text>
<text transform="translate(147.90 698.80) scale(0.9100 1)" font-size="22.20" text-anchor="start" fill="#000">Mica-schist (this study)</text>
<text transform="translate(147.90 728.50) scale(0.9100 1)" font-size="22.20" text-anchor="start" fill="#000">WHP-LT</text>
<text transform="translate(147.90 757.90) scale(0.9100 1)" font-size="22.20" text-anchor="start" fill="#000">MORB</text>
<text transform="translate(147.90 787.60) scale(0.9100 1)" font-size="22.20" text-anchor="start" fill="#000">GLOSS</text>
<text transform="translate(147.90 817.30) scale(0.9100 1)" font-size="22.20" text-anchor="start" fill="#000">AOC</text>
<text transform="translate(147.90 847.00) scale(0.9100 1)" font-size="22.20" text-anchor="start" fill="#000">SRP</text>
<text transform="translate(721.80 635.40) scale(0.9100 1)" font-size="22.20" text-anchor="middle" fill="#000">n = 952</text>
<line x1="723.20" y1="645.20" x2="718.87" y2="689.74" stroke="#000" stroke-width="1.40" stroke-linecap="butt"/>
<polygon points="718.00,698.70 712.39,684.09 718.97,688.75 726.32,685.44" fill="#000"/>
<line x1="787.00" y1="1017.00" x2="805.55" y2="885.01" stroke="#000" stroke-width="1.40" stroke-linecap="butt"/>
<polygon points="806.80,876.10 811.78,890.94 805.41,886.00 797.92,888.99" fill="#000"/>
<line x1="740.28" y1="1039.46" x2="853.52" y2="987.64" stroke="#000" stroke-width="1.40" stroke-linecap="butt"/>
<polygon points="861.70,983.90 851.88,996.09 852.61,988.06 846.06,983.36" fill="#000"/>
<polygon points="732.10,1043.20 741.92,1031.01 741.19,1039.04 747.74,1043.74" fill="#000"/>
<text transform="translate(783.00 936.40) rotate(-82.00) scale(0.9000 1)" font-size="22.20" text-anchor="middle" fill="#000">Seafloor alteration</text>
<text transform="translate(807.50 1039.00) rotate(-24.60) scale(0.9250 1)" font-size="22.20" text-anchor="middle" fill="#000">HP Metasomatism</text>
<text transform="translate(50.40 608.40) scale(0.8200 1)" font-size="24.00" text-anchor="middle" fill="#000">10<tspan font-size="14.0" dy="-8.2">6</tspan></text>
<text transform="translate(50.40 737.40) scale(0.8200 1)" font-size="24.00" text-anchor="middle" fill="#000">10<tspan font-size="14.0" dy="-8.2">5</tspan></text>
<text transform="translate(50.40 867.30) scale(0.8200 1)" font-size="24.00" text-anchor="middle" fill="#000">10<tspan font-size="14.0" dy="-8.2">4</tspan></text>
<text transform="translate(50.40 995.40) scale(0.8200 1)" font-size="24.00" text-anchor="middle" fill="#000">10<tspan font-size="14.0" dy="-8.2">3</tspan></text>
<text transform="translate(50.40 1123.40) scale(0.8200 1)" font-size="24.00" text-anchor="middle" fill="#000">10<tspan font-size="14.0" dy="-8.2">2</tspan></text>
<text transform="translate(78.30 1145.40) scale(0.8200 1)" font-size="24.00" text-anchor="middle" fill="#000">1</text>
<text transform="translate(244.90 1145.40) scale(0.8200 1)" font-size="24.00" text-anchor="middle" fill="#000">10</text>
<text transform="translate(413.80 1145.40) scale(0.8200 1)" font-size="24.00" text-anchor="middle" fill="#000">10<tspan font-size="14.0" dy="-8.2">2</tspan></text>
<text transform="translate(588.60 1145.40) scale(0.8200 1)" font-size="24.00" text-anchor="middle" fill="#000">10<tspan font-size="14.0" dy="-8.2">3</tspan></text>
<text transform="translate(756.40 1145.40) scale(0.8200 1)" font-size="24.00" text-anchor="middle" fill="#000">10<tspan font-size="14.0" dy="-8.2">4</tspan></text>
<text transform="translate(926.00 1145.40) scale(0.8200 1)" font-size="24.00" text-anchor="middle" fill="#000">10<tspan font-size="14.0" dy="-8.2">5</tspan></text>
<text transform="translate(23.70 853.00) rotate(-90.00) scale(0.9800 1)" font-size="28.50" text-anchor="middle" font-weight="bold" fill="#000">K/Th</text>
<text transform="translate(502.10 1176.20) scale(1.0400 1)" font-size="28.50" text-anchor="middle" font-weight="bold" fill="#000">Ba/Th</text>
<text transform="translate(868.70 632.20) scale(0.8400 1)" font-size="32.50" text-anchor="start" font-weight="bold" fill="#000">(c)</text>
<clipPath id="cd"><rect x="1032.4" y="603.0" width="845.5" height="514.8"/></clipPath>
<g clip-path="url(#cd)" fill="#A7A9AC" stroke="#5d5e60" stroke-width="0.9">
<circle cx="1780.7" cy="907.6" r="5.1"/>
<circle cx="1471.7" cy="830.9" r="5.1"/>
<circle cx="1514.9" cy="847.3" r="5.1"/>
<circle cx="1471.7" cy="821.8" r="5.1"/>
<circle cx="1572.5" cy="897.3" r="5.1"/>
<circle cx="1458.6" cy="880.1" r="5.1"/>
<circle cx="1471.7" cy="804.0" r="5.1"/>
<circle cx="1535.3" cy="886.0" r="5.1"/>
<circle cx="1554.6" cy="909.5" r="5.1"/>
<circle cx="1607.7" cy="844.1" r="5.1"/>
<circle cx="1598.9" cy="847.2" r="5.1"/>
<circle cx="1350.4" cy="886.0" r="5.1"/>
<circle cx="1642.1" cy="903.0" r="5.1"/>
<circle cx="1678.6" cy="859.0" r="5.1"/>
<circle cx="1286.8" cy="777.5" r="5.1"/>
<circle cx="1566.2" cy="885.7" r="5.1"/>
<circle cx="1595.8" cy="851.5" r="5.1"/>
<circle cx="1627.6" cy="933.6" r="5.1"/>
<circle cx="1532.2" cy="825.0" r="5.1"/>
<circle cx="1518.6" cy="785.4" r="5.1"/>
<circle cx="1552.1" cy="778.1" r="5.1"/>
<circle cx="1401.8" cy="891.0" r="5.1"/>
<circle cx="1692.3" cy="859.3" r="5.1"/>
<circle cx="1570.5" cy="857.3" r="5.1"/>
<circle cx="1708.5" cy="876.0" r="5.1"/>
<circle cx="1572.5" cy="761.5" r="5.1"/>
<circle cx="1737.0" cy="828.5" r="5.1"/>
<circle cx="1678.0" cy="885.8" r="5.1"/>
<circle cx="1471.7" cy="895.3" r="5.1"/>
<circle cx="1686.6" cy="863.8" r="5.1"/>
<circle cx="1434.5" cy="786.0" r="5.1"/>
<circle cx="1529.0" cy="826.5" r="5.1"/>
<circle cx="1458.6" cy="844.2" r="5.1"/>
<circle cx="1641.1" cy="854.8" r="5.1"/>
<circle cx="1532.2" cy="858.4" r="5.1"/>
<circle cx="1286.8" cy="814.0" r="5.1"/>
<circle cx="1522.2" cy="791.4" r="5.1"/>
<circle cx="1629.8" cy="824.4" r="5.1"/>
<circle cx="1483.2" cy="918.3" r="5.1"/>
<circle cx="1673.4" cy="824.8" r="5.1"/>
<circle cx="1506.9" cy="785.7" r="5.1"/>
<circle cx="1350.4" cy="757.2" r="5.1"/>
<circle cx="1424.9" cy="899.1" r="5.1"/>
<circle cx="1350.4" cy="883.7" r="5.1"/>
<circle cx="1493.4" cy="895.5" r="5.1"/>
<circle cx="1488.5" cy="763.7" r="5.1"/>
<circle cx="1648.5" cy="806.2" r="5.1"/>
<circle cx="1678.0" cy="840.3" r="5.1"/>
<circle cx="1514.9" cy="862.0" r="5.1"/>
<circle cx="1350.4" cy="891.8" r="5.1"/>
<circle cx="1619.4" cy="890.2" r="5.1"/>
<circle cx="1602.0" cy="819.3" r="5.1"/>
<circle cx="1557.0" cy="926.0" r="5.1"/>
<circle cx="1443.3" cy="768.9" r="5.1"/>
<circle cx="1557.0" cy="851.9" r="5.1"/>
<circle cx="1742.9" cy="880.7" r="5.1"/>
<circle cx="1572.5" cy="839.5" r="5.1"/>
<circle cx="1286.8" cy="772.4" r="5.1"/>
<circle cx="1401.8" cy="753.5" r="5.1"/>
<circle cx="1518.6" cy="861.7" r="5.1"/>
<circle cx="1572.5" cy="831.5" r="5.1"/>
<circle cx="1401.8" cy="910.2" r="5.1"/>
<circle cx="1350.4" cy="935.6" r="5.1"/>
<circle cx="1618.2" cy="837.7" r="5.1"/>
<circle cx="1717.3" cy="890.4" r="5.1"/>
<circle cx="1286.8" cy="732.4" r="5.1"/>
<circle cx="1734.9" cy="868.0" r="5.1"/>
<circle cx="1525.7" cy="868.3" r="5.1"/>
<circle cx="1535.3" cy="835.3" r="5.1"/>
<circle cx="1424.9" cy="942.6" r="5.1"/>
<circle cx="1502.6" cy="815.7" r="5.1"/>
<circle cx="1414.0" cy="892.8" r="5.1"/>
<circle cx="1458.6" cy="828.5" r="5.1"/>
<circle cx="1443.3" cy="851.5" r="5.1"/>
<circle cx="1387.6" cy="797.1" r="5.1"/>
<circle cx="1514.9" cy="844.1" r="5.1"/>
<circle cx="1694.0" cy="817.1" r="5.1"/>
<circle cx="1625.3" cy="890.1" r="5.1"/>
<circle cx="1595.8" cy="815.5" r="5.1"/>
<circle cx="1613.1" cy="853.8" r="5.1"/>
<circle cx="1525.7" cy="855.1" r="5.1"/>
<circle cx="1559.4" cy="846.7" r="5.1"/>
<circle cx="1609.1" cy="916.1" r="5.1"/>
<circle cx="1574.6" cy="888.1" r="5.1"/>
<circle cx="1776.0" cy="846.7" r="5.1"/>
<circle cx="1714.8" cy="936.0" r="5.1"/>
<circle cx="1350.4" cy="872.6" r="5.1"/>
<circle cx="1677.4" cy="883.8" r="5.1"/>
<circle cx="1414.0" cy="818.0" r="5.1"/>
<circle cx="1736.3" cy="915.1" r="5.1"/>
<circle cx="1574.6" cy="843.8" r="5.1"/>
<circle cx="1686.0" cy="864.3" r="5.1"/>
<circle cx="1697.7" cy="806.2" r="5.1"/>
<circle cx="1465.4" cy="778.6" r="5.1"/>
<circle cx="1576.5" cy="853.9" r="5.1"/>
<circle cx="1493.4" cy="847.1" r="5.1"/>
<circle cx="1554.6" cy="855.5" r="5.1"/>
<circle cx="1700.8" cy="841.4" r="5.1"/>
<circle cx="1580.4" cy="921.6" r="5.1"/>
<circle cx="1557.0" cy="766.8" r="5.1"/>
<circle cx="1564.0" cy="869.9" r="5.1"/>
<circle cx="1746.9" cy="916.9" r="5.1"/>
<circle cx="1691.2" cy="909.9" r="5.1"/>
<circle cx="1443.3" cy="923.5" r="5.1"/>
<circle cx="1493.4" cy="877.2" r="5.1"/>
<circle cx="1572.5" cy="857.4" r="5.1"/>
<circle cx="1535.3" cy="820.0" r="5.1"/>
<circle cx="1582.2" cy="793.4" r="5.1"/>
<circle cx="1751.4" cy="899.9" r="5.1"/>
<circle cx="1518.6" cy="845.9" r="5.1"/>
<circle cx="1640.1" cy="893.8" r="5.1"/>
<circle cx="1564.0" cy="903.7" r="5.1"/>
<circle cx="1458.6" cy="870.7" r="5.1"/>
<circle cx="1683.0" cy="853.0" r="5.1"/>
<circle cx="1522.2" cy="836.6" r="5.1"/>
<circle cx="1401.8" cy="751.9" r="5.1"/>
<circle cx="1465.4" cy="834.3" r="5.1"/>
<circle cx="1471.7" cy="836.5" r="5.1"/>
<circle cx="1443.3" cy="882.0" r="5.1"/>
<circle cx="1458.6" cy="753.5" r="5.1"/>
<circle cx="1549.5" cy="775.0" r="5.1"/>
<circle cx="1718.6" cy="884.6" r="5.1"/>
<circle cx="1594.2" cy="769.3" r="5.1"/>
<circle cx="1424.9" cy="804.8" r="5.1"/>
<circle cx="1350.4" cy="772.0" r="5.1"/>
<circle cx="1350.4" cy="739.2" r="5.1"/>
<circle cx="1683.0" cy="864.7" r="5.1"/>
<circle cx="1522.2" cy="859.6" r="5.1"/>
<circle cx="1578.5" cy="870.9" r="5.1"/>
<circle cx="1589.3" cy="837.5" r="5.1"/>
<circle cx="1695.6" cy="898.6" r="5.1"/>
<circle cx="1649.4" cy="741.6" r="5.1"/>
<circle cx="1465.4" cy="837.1" r="5.1"/>
<circle cx="1434.5" cy="840.3" r="5.1"/>
<circle cx="1387.6" cy="836.1" r="5.1"/>
<circle cx="1604.9" cy="883.2" r="5.1"/>
<circle cx="1632.0" cy="901.9" r="5.1"/>
<circle cx="1566.2" cy="845.4" r="5.1"/>
<circle cx="1670.6" cy="806.6" r="5.1"/>
<circle cx="1650.3" cy="939.0" r="5.1"/>
<circle cx="1595.8" cy="928.6" r="5.1"/>
<circle cx="1635.1" cy="845.9" r="5.1"/>
<circle cx="1706.2" cy="916.5" r="5.1"/>
<circle cx="1525.7" cy="838.3" r="5.1"/>
<circle cx="1585.8" cy="864.8" r="5.1"/>
<circle cx="1538.3" cy="819.0" r="5.1"/>
<circle cx="1721.1" cy="897.8" r="5.1"/>
<circle cx="1662.6" cy="868.9" r="5.1"/>
<circle cx="1529.0" cy="855.6" r="5.1"/>
<circle cx="1630.9" cy="872.2" r="5.1"/>
<circle cx="1597.4" cy="783.4" r="5.1"/>
<circle cx="1696.7" cy="822.6" r="5.1"/>
<circle cx="1286.8" cy="831.0" r="5.1"/>
<circle cx="1477.7" cy="805.2" r="5.1"/>
<circle cx="1636.2" cy="820.1" r="5.1"/>
<circle cx="1621.8" cy="870.0" r="5.1"/>
<circle cx="1544.1" cy="901.0" r="5.1"/>
<circle cx="1568.4" cy="898.4" r="5.1"/>
<circle cx="1614.4" cy="818.4" r="5.1"/>
<circle cx="1424.9" cy="810.5" r="5.1"/>
<circle cx="1498.1" cy="883.4" r="5.1"/>
<circle cx="1657.0" cy="841.5" r="5.1"/>
<circle cx="1703.8" cy="946.0" r="5.1"/>
<circle cx="1648.5" cy="922.2" r="5.1"/>
<circle cx="1580.4" cy="870.9" r="5.1"/>
<circle cx="1595.8" cy="830.6" r="5.1"/>
<circle cx="1610.4" cy="857.5" r="5.1"/>
<circle cx="1651.2" cy="872.7" r="5.1"/>
<circle cx="1697.2" cy="833.5" r="5.1"/>
<circle cx="1591.0" cy="930.5" r="5.1"/>
<circle cx="1781.8" cy="856.6" r="5.1"/>
<circle cx="1559.4" cy="957.3" r="5.1"/>
<circle cx="1471.7" cy="949.0" r="5.1"/>
<circle cx="1511.0" cy="879.2" r="5.1"/>
<circle cx="1597.4" cy="869.5" r="5.1"/>
<circle cx="1401.8" cy="823.8" r="5.1"/>
<circle cx="1324.0" cy="857.7" r="5.1"/>
<circle cx="1610.4" cy="850.1" r="5.1"/>
<circle cx="1726.9" cy="905.8" r="5.1"/>
<circle cx="1564.0" cy="835.1" r="5.1"/>
<circle cx="1488.5" cy="782.3" r="5.1"/>
<circle cx="1646.7" cy="840.8" r="5.1"/>
<circle cx="1616.9" cy="881.6" r="5.1"/>
<circle cx="1629.8" cy="859.7" r="5.1"/>
<circle cx="1387.6" cy="876.3" r="5.1"/>
<circle cx="1658.6" cy="840.6" r="5.1"/>
<circle cx="1591.0" cy="891.1" r="5.1"/>
<circle cx="1580.4" cy="923.0" r="5.1"/>
<circle cx="1570.5" cy="856.2" r="5.1"/>
<circle cx="1568.4" cy="745.5" r="5.1"/>
<circle cx="1451.3" cy="899.1" r="5.1"/>
<circle cx="1606.3" cy="880.5" r="5.1"/>
<circle cx="1458.6" cy="824.4" r="5.1"/>
<circle cx="1518.6" cy="869.7" r="5.1"/>
<circle cx="1525.7" cy="881.2" r="5.1"/>
<circle cx="1511.0" cy="789.6" r="5.1"/>
<circle cx="1738.3" cy="924.9" r="5.1"/>
<circle cx="1443.3" cy="911.2" r="5.1"/>
<circle cx="1561.7" cy="794.3" r="5.1"/>
<circle cx="1401.8" cy="831.6" r="5.1"/>
<circle cx="1443.3" cy="843.0" r="5.1"/>
<circle cx="1630.9" cy="864.0" r="5.1"/>
<circle cx="1568.4" cy="865.9" r="5.1"/>
<circle cx="1387.6" cy="825.9" r="5.1"/>
<circle cx="1780.9" cy="897.5" r="5.1"/>
<circle cx="1350.4" cy="909.3" r="5.1"/>
<circle cx="1557.0" cy="874.8" r="5.1"/>
<circle cx="1626.5" cy="872.2" r="5.1"/>
<circle cx="1566.2" cy="809.2" r="5.1"/>
<circle cx="1511.0" cy="895.5" r="5.1"/>
<circle cx="1471.7" cy="866.2" r="5.1"/>
<circle cx="1648.5" cy="893.2" r="5.1"/>
<circle cx="1370.9" cy="805.5" r="5.1"/>
<circle cx="1443.3" cy="848.0" r="5.1"/>
<circle cx="1518.6" cy="910.3" r="5.1"/>
<circle cx="1488.5" cy="782.5" r="5.1"/>
<circle cx="1739.6" cy="866.7" r="5.1"/>
<circle cx="1443.3" cy="807.0" r="5.1"/>
<circle cx="1686.6" cy="892.2" r="5.1"/>
<circle cx="1552.1" cy="753.3" r="5.1"/>
<circle cx="1443.3" cy="801.1" r="5.1"/>
<circle cx="1681.2" cy="915.8" r="5.1"/>
<circle cx="1652.0" cy="868.2" r="5.1"/>
<circle cx="1655.4" cy="804.7" r="5.1"/>
<circle cx="1434.5" cy="868.3" r="5.1"/>
<circle cx="1350.4" cy="840.3" r="5.1"/>
<circle cx="1350.4" cy="794.8" r="5.1"/>
<circle cx="1734.9" cy="830.1" r="5.1"/>
<circle cx="1414.0" cy="837.3" r="5.1"/>
<circle cx="1471.7" cy="850.5" r="5.1"/>
<circle cx="1465.4" cy="872.5" r="5.1"/>
<circle cx="1458.6" cy="821.0" r="5.1"/>
<circle cx="1414.0" cy="905.0" r="5.1"/>
<circle cx="1644.9" cy="883.5" r="5.1"/>
<circle cx="1561.7" cy="876.4" r="5.1"/>
<circle cx="1744.8" cy="873.6" r="5.1"/>
<circle cx="1652.0" cy="902.3" r="5.1"/>
<circle cx="1580.4" cy="837.2" r="5.1"/>
<circle cx="1619.4" cy="911.0" r="5.1"/>
<circle cx="1667.8" cy="893.8" r="5.1"/>
<circle cx="1570.5" cy="879.9" r="5.1"/>
<circle cx="1370.9" cy="847.2" r="5.1"/>
<circle cx="1532.2" cy="835.1" r="5.1"/>
<circle cx="1498.1" cy="883.1" r="5.1"/>
<circle cx="1654.6" cy="882.1" r="5.1"/>
<circle cx="1424.9" cy="838.5" r="5.1"/>
<circle cx="1414.0" cy="920.7" r="5.1"/>
<circle cx="1370.9" cy="801.1" r="5.1"/>
<circle cx="1646.7" cy="836.0" r="5.1"/>
<circle cx="1568.4" cy="825.1" r="5.1"/>
<circle cx="1514.9" cy="868.3" r="5.1"/>
<circle cx="1414.0" cy="923.3" r="5.1"/>
<circle cx="1465.4" cy="848.4" r="5.1"/>
<circle cx="1615.7" cy="860.8" r="5.1"/>
<circle cx="1370.9" cy="780.4" r="5.1"/>
<circle cx="1443.3" cy="891.0" r="5.1"/>
<circle cx="1698.7" cy="873.4" r="5.1"/>
<circle cx="1574.6" cy="745.0" r="5.1"/>
<circle cx="1451.3" cy="888.3" r="5.1"/>
<circle cx="1633.0" cy="897.6" r="5.1"/>
<circle cx="1434.5" cy="809.9" r="5.1"/>
<circle cx="1424.9" cy="814.2" r="5.1"/>
<circle cx="1483.2" cy="781.7" r="5.1"/>
<circle cx="1518.6" cy="842.7" r="5.1"/>
<circle cx="1572.5" cy="932.7" r="5.1"/>
<circle cx="1697.7" cy="869.9" r="5.1"/>
<circle cx="1589.3" cy="864.4" r="5.1"/>
<circle cx="1683.0" cy="860.3" r="5.1"/>
<circle cx="1458.6" cy="875.1" r="5.1"/>
<circle cx="1592.6" cy="833.0" r="5.1"/>
<circle cx="1414.0" cy="859.8" r="5.1"/>
<circle cx="1493.4" cy="850.3" r="5.1"/>
<circle cx="1745.1" cy="898.0" r="5.1"/>
<circle cx="1535.3" cy="850.3" r="5.1"/>
<circle cx="1712.1" cy="857.0" r="5.1"/>
<circle cx="1642.1" cy="851.0" r="5.1"/>
<circle cx="1370.9" cy="851.5" r="5.1"/>
<circle cx="1544.1" cy="886.4" r="5.1"/>
<circle cx="1498.1" cy="866.6" r="5.1"/>
<circle cx="1522.2" cy="856.9" r="5.1"/>
<circle cx="1714.8" cy="945.2" r="5.1"/>
<circle cx="1424.9" cy="771.0" r="5.1"/>
<circle cx="1401.8" cy="922.4" r="5.1"/>
<circle cx="1623.0" cy="891.0" r="5.1"/>
<circle cx="1661.0" cy="914.0" r="5.1"/>
<circle cx="1493.4" cy="746.8" r="5.1"/>
<circle cx="1471.7" cy="859.0" r="5.1"/>
<circle cx="1401.8" cy="887.6" r="5.1"/>
<circle cx="1641.1" cy="783.7" r="5.1"/>
<circle cx="1644.0" cy="829.8" r="5.1"/>
<circle cx="1667.8" cy="796.6" r="5.1"/>
<circle cx="1664.1" cy="809.9" r="5.1"/>
<circle cx="1648.5" cy="835.2" r="5.1"/>
<circle cx="1483.2" cy="865.4" r="5.1"/>
<circle cx="1667.0" cy="869.0" r="5.1"/>
<circle cx="1595.8" cy="809.5" r="5.1"/>
<circle cx="1623.0" cy="944.8" r="5.1"/>
<circle cx="1434.5" cy="846.6" r="5.1"/>
<circle cx="1616.9" cy="879.0" r="5.1"/>
<circle cx="1522.2" cy="849.8" r="5.1"/>
<circle cx="1564.0" cy="876.0" r="5.1"/>
<circle cx="1529.0" cy="824.9" r="5.1"/>
<circle cx="1764.1" cy="854.5" r="5.1"/>
<circle cx="1564.0" cy="792.7" r="5.1"/>
<circle cx="1451.3" cy="868.9" r="5.1"/>
<circle cx="1669.2" cy="890.9" r="5.1"/>
<circle cx="1636.2" cy="859.9" r="5.1"/>
<circle cx="1568.4" cy="798.3" r="5.1"/>
<circle cx="1286.8" cy="814.9" r="5.1"/>
<circle cx="1387.6" cy="861.2" r="5.1"/>
<circle cx="1532.2" cy="851.0" r="5.1"/>
<circle cx="1625.3" cy="829.8" r="5.1"/>
<circle cx="1689.5" cy="926.6" r="5.1"/>
<circle cx="1723.4" cy="879.8" r="5.1"/>
<circle cx="1574.6" cy="823.8" r="5.1"/>
<circle cx="1619.4" cy="913.7" r="5.1"/>
<circle cx="1506.9" cy="863.8" r="5.1"/>
<circle cx="1640.1" cy="876.1" r="5.1"/>
<circle cx="1564.0" cy="899.4" r="5.1"/>
<circle cx="1592.6" cy="818.3" r="5.1"/>
<circle cx="1582.2" cy="836.2" r="5.1"/>
<circle cx="1747.9" cy="917.9" r="5.1"/>
<circle cx="1776.0" cy="874.5" r="5.1"/>
<circle cx="1664.8" cy="868.2" r="5.1"/>
<circle cx="1488.5" cy="831.7" r="5.1"/>
<circle cx="1488.5" cy="780.7" r="5.1"/>
<circle cx="1502.6" cy="870.4" r="5.1"/>
<circle cx="1587.6" cy="807.5" r="5.1"/>
<circle cx="1705.7" cy="914.8" r="5.1"/>
<circle cx="1597.4" cy="859.4" r="5.1"/>
<circle cx="1572.5" cy="899.8" r="5.1"/>
<circle cx="1518.6" cy="811.5" r="5.1"/>
<circle cx="1746.3" cy="898.2" r="5.1"/>
<circle cx="1709.4" cy="874.5" r="5.1"/>
<circle cx="1574.6" cy="812.2" r="5.1"/>
<circle cx="1522.2" cy="862.0" r="5.1"/>
<circle cx="1443.3" cy="850.6" r="5.1"/>
<circle cx="1644.9" cy="896.0" r="5.1"/>
<circle cx="1667.0" cy="904.2" r="5.1"/>
<circle cx="1529.0" cy="825.0" r="5.1"/>
<circle cx="1750.8" cy="901.3" r="5.1"/>
<circle cx="1493.4" cy="838.1" r="5.1"/>
<circle cx="1514.9" cy="901.1" r="5.1"/>
<circle cx="1471.7" cy="845.1" r="5.1"/>
<circle cx="1451.3" cy="903.5" r="5.1"/>
<circle cx="1541.3" cy="813.9" r="5.1"/>
<circle cx="1506.9" cy="897.4" r="5.1"/>
<circle cx="1578.5" cy="814.6" r="5.1"/>
<circle cx="1324.0" cy="791.2" r="5.1"/>
<circle cx="1458.6" cy="807.6" r="5.1"/>
<circle cx="1684.2" cy="922.7" r="5.1"/>
<circle cx="1728.1" cy="884.2" r="5.1"/>
<circle cx="1514.9" cy="738.1" r="5.1"/>
<circle cx="1592.6" cy="913.9" r="5.1"/>
<circle cx="1387.6" cy="858.6" r="5.1"/>
<circle cx="1529.0" cy="888.3" r="5.1"/>
<circle cx="1549.5" cy="761.0" r="5.1"/>
<circle cx="1603.4" cy="812.3" r="5.1"/>
<circle cx="1401.8" cy="828.4" r="5.1"/>
<circle cx="1488.5" cy="870.1" r="5.1"/>
<circle cx="1443.3" cy="933.7" r="5.1"/>
<circle cx="1506.9" cy="846.0" r="5.1"/>
<circle cx="1477.7" cy="864.6" r="5.1"/>
<circle cx="1471.7" cy="833.2" r="5.1"/>
<circle cx="1544.1" cy="835.0" r="5.1"/>
<circle cx="1655.4" cy="867.4" r="5.1"/>
<circle cx="1683.0" cy="857.0" r="5.1"/>
<circle cx="1498.1" cy="804.0" r="5.1"/>
<circle cx="1414.0" cy="749.8" r="5.1"/>
<circle cx="1458.6" cy="927.0" r="5.1"/>
<circle cx="1424.9" cy="779.6" r="5.1"/>
<circle cx="1518.6" cy="886.0" r="5.1"/>
<circle cx="1738.3" cy="838.8" r="5.1"/>
<circle cx="1511.0" cy="805.1" r="5.1"/>
<circle cx="1506.9" cy="872.1" r="5.1"/>
<circle cx="1434.5" cy="732.4" r="5.1"/>
<circle cx="1695.6" cy="865.8" r="5.1"/>
<circle cx="1465.4" cy="793.6" r="5.1"/>
<circle cx="1424.9" cy="735.7" r="5.1"/>
<circle cx="1451.3" cy="903.3" r="5.1"/>
<circle cx="1350.4" cy="887.2" r="5.1"/>
<circle cx="1498.1" cy="930.7" r="5.1"/>
<circle cx="1387.6" cy="937.9" r="5.1"/>
<circle cx="1760.0" cy="924.2" r="5.1"/>
<circle cx="1628.7" cy="866.5" r="5.1"/>
<circle cx="1566.2" cy="881.1" r="5.1"/>
<circle cx="1632.0" cy="849.8" r="5.1"/>
<circle cx="1644.9" cy="878.3" r="5.1"/>
<circle cx="1566.2" cy="851.5" r="5.1"/>
<circle cx="1458.6" cy="781.3" r="5.1"/>
<circle cx="1483.2" cy="865.8" r="5.1"/>
<circle cx="1609.1" cy="855.6" r="5.1"/>
<circle cx="1324.0" cy="870.2" r="5.1"/>
<circle cx="1552.1" cy="908.1" r="5.1"/>
<circle cx="1451.3" cy="843.3" r="5.1"/>
<circle cx="1552.1" cy="815.9" r="5.1"/>
<circle cx="1488.5" cy="910.4" r="5.1"/>
<circle cx="1414.0" cy="865.8" r="5.1"/>
<circle cx="1619.4" cy="934.1" r="5.1"/>
<circle cx="1514.9" cy="855.7" r="5.1"/>
<circle cx="1451.3" cy="902.1" r="5.1"/>
<circle cx="1401.8" cy="913.2" r="5.1"/>
<circle cx="1493.4" cy="830.3" r="5.1"/>
<circle cx="1738.3" cy="860.3" r="5.1"/>
<circle cx="1414.0" cy="849.7" r="5.1"/>
<circle cx="1652.9" cy="812.9" r="5.1"/>
<circle cx="1655.4" cy="832.6" r="5.1"/>
<circle cx="1401.8" cy="785.3" r="5.1"/>
<circle cx="1614.4" cy="767.4" r="5.1"/>
<circle cx="1451.3" cy="819.7" r="5.1"/>
<circle cx="1691.2" cy="824.2" r="5.1"/>
<circle cx="1675.4" cy="910.0" r="5.1"/>
<circle cx="1557.0" cy="759.2" r="5.1"/>
<circle cx="1401.8" cy="860.1" r="5.1"/>
<circle cx="1739.6" cy="873.4" r="5.1"/>
<circle cx="1387.6" cy="854.2" r="5.1"/>
<circle cx="1655.4" cy="803.8" r="5.1"/>
<circle cx="1477.7" cy="826.7" r="5.1"/>
<circle cx="1659.4" cy="889.7" r="5.1"/>
<circle cx="1483.2" cy="931.0" r="5.1"/>
<circle cx="1324.0" cy="831.4" r="5.1"/>
<circle cx="1618.2" cy="903.8" r="5.1"/>
<circle cx="1591.0" cy="821.9" r="5.1"/>
<circle cx="1595.8" cy="919.0" r="5.1"/>
<circle cx="1522.2" cy="839.2" r="5.1"/>
<circle cx="1576.5" cy="819.0" r="5.1"/>
<circle cx="1566.2" cy="746.0" r="5.1"/>
<circle cx="1370.9" cy="829.2" r="5.1"/>
<circle cx="1443.3" cy="815.8" r="5.1"/>
<circle cx="1578.5" cy="902.9" r="5.1"/>
<circle cx="1595.8" cy="811.4" r="5.1"/>
<circle cx="1724.2" cy="851.7" r="5.1"/>
<circle cx="1603.4" cy="798.3" r="5.1"/>
<circle cx="1529.0" cy="887.9" r="5.1"/>
<circle cx="1580.4" cy="848.5" r="5.1"/>
<circle cx="1477.7" cy="905.2" r="5.1"/>
<circle cx="1739.3" cy="865.1" r="5.1"/>
<circle cx="1286.8" cy="748.8" r="5.1"/>
<circle cx="1664.8" cy="878.8" r="5.1"/>
<circle cx="1493.4" cy="801.2" r="5.1"/>
<circle cx="1688.4" cy="916.7" r="5.1"/>
<circle cx="1546.8" cy="855.0" r="5.1"/>
<circle cx="1637.2" cy="877.1" r="5.1"/>
<circle cx="1788.8" cy="955.9" r="5.1"/>
<circle cx="1783.6" cy="905.8" r="5.1"/>
<circle cx="1324.0" cy="791.7" r="5.1"/>
<circle cx="1514.9" cy="889.2" r="5.1"/>
<circle cx="1514.9" cy="885.6" r="5.1"/>
<circle cx="1529.0" cy="886.1" r="5.1"/>
<circle cx="1737.3" cy="843.3" r="5.1"/>
<circle cx="1672.7" cy="865.3" r="5.1"/>
<circle cx="1286.8" cy="786.0" r="5.1"/>
<circle cx="1743.2" cy="877.9" r="5.1"/>
<circle cx="1561.7" cy="887.6" r="5.1"/>
<circle cx="1594.2" cy="951.3" r="5.1"/>
<circle cx="1597.4" cy="938.2" r="5.1"/>
<circle cx="1585.8" cy="932.8" r="5.1"/>
<circle cx="1609.1" cy="838.4" r="5.1"/>
<circle cx="1564.0" cy="838.4" r="5.1"/>
<circle cx="1630.9" cy="840.2" r="5.1"/>
<circle cx="1541.3" cy="824.4" r="5.1"/>
<circle cx="1324.0" cy="828.2" r="5.1"/>
<circle cx="1434.5" cy="848.4" r="5.1"/>
<circle cx="1535.3" cy="793.7" r="5.1"/>
<circle cx="1595.8" cy="869.9" r="5.1"/>
<circle cx="1637.2" cy="801.7" r="5.1"/>
<circle cx="1568.4" cy="887.3" r="5.1"/>
<circle cx="1424.9" cy="881.9" r="5.1"/>
<circle cx="1387.6" cy="845.8" r="5.1"/>
<circle cx="1591.0" cy="880.9" r="5.1"/>
<circle cx="1564.0" cy="823.2" r="5.1"/>
<circle cx="1471.7" cy="914.0" r="5.1"/>
<circle cx="1286.8" cy="849.5" r="5.1"/>
<circle cx="1532.2" cy="836.0" r="5.1"/>
<circle cx="1582.2" cy="851.0" r="5.1"/>
<circle cx="1724.2" cy="817.7" r="5.1"/>
<circle cx="1498.1" cy="834.5" r="5.1"/>
<circle cx="1350.4" cy="878.5" r="5.1"/>
<circle cx="1782.8" cy="907.2" r="5.1"/>
<circle cx="1471.7" cy="831.9" r="5.1"/>
<circle cx="1677.4" cy="951.1" r="5.1"/>
<circle cx="1615.7" cy="909.6" r="5.1"/>
<circle cx="1434.5" cy="893.1" r="5.1"/>
<circle cx="1642.1" cy="874.6" r="5.1"/>
<circle cx="1650.3" cy="914.6" r="5.1"/>
<circle cx="1640.1" cy="811.7" r="5.1"/>
<circle cx="1618.2" cy="878.5" r="5.1"/>
<circle cx="1350.4" cy="773.1" r="5.1"/>
<circle cx="1387.6" cy="849.7" r="5.1"/>
<circle cx="1602.0" cy="789.9" r="5.1"/>
<circle cx="1424.9" cy="889.1" r="5.1"/>
<circle cx="1714.8" cy="821.6" r="5.1"/>
<circle cx="1648.5" cy="912.2" r="5.1"/>
<circle cx="1644.0" cy="812.7" r="5.1"/>
<circle cx="1529.0" cy="838.8" r="5.1"/>
<circle cx="1477.7" cy="821.8" r="5.1"/>
<circle cx="1502.6" cy="849.1" r="5.1"/>
<circle cx="1704.2" cy="833.2" r="5.1"/>
<circle cx="1414.0" cy="742.2" r="5.1"/>
<circle cx="1506.9" cy="909.1" r="5.1"/>
<circle cx="1506.9" cy="750.8" r="5.1"/>
<circle cx="1572.5" cy="871.0" r="5.1"/>
<circle cx="1761.6" cy="925.8" r="5.1"/>
<circle cx="1324.0" cy="814.1" r="5.1"/>
<circle cx="1483.2" cy="861.5" r="5.1"/>
<circle cx="1615.7" cy="865.8" r="5.1"/>
<circle cx="1661.8" cy="885.3" r="5.1"/>
<circle cx="1578.5" cy="911.0" r="5.1"/>
<circle cx="1561.7" cy="885.1" r="5.1"/>
<circle cx="1493.4" cy="837.7" r="5.1"/>
<circle cx="1762.9" cy="892.4" r="5.1"/>
<circle cx="1620.6" cy="838.5" r="5.1"/>
<circle cx="1477.7" cy="888.8" r="5.1"/>
<circle cx="1511.0" cy="873.7" r="5.1"/>
<circle cx="1451.3" cy="913.0" r="5.1"/>
<circle cx="1611.8" cy="877.3" r="5.1"/>
<circle cx="1370.9" cy="843.5" r="5.1"/>
<circle cx="1712.6" cy="808.7" r="5.1"/>
<circle cx="1805.2" cy="838.7" r="5.1"/>
<circle cx="1684.8" cy="874.2" r="5.1"/>
<circle cx="1580.4" cy="825.1" r="5.1"/>
<circle cx="1483.2" cy="820.9" r="5.1"/>
<circle cx="1414.0" cy="761.7" r="5.1"/>
<circle cx="1471.7" cy="868.0" r="5.1"/>
<circle cx="1761.8" cy="901.5" r="5.1"/>
<circle cx="1387.6" cy="886.7" r="5.1"/>
<circle cx="1592.6" cy="861.0" r="5.1"/>
<circle cx="1506.9" cy="785.2" r="5.1"/>
<circle cx="1414.0" cy="821.6" r="5.1"/>
<circle cx="1370.9" cy="733.5" r="5.1"/>
<circle cx="1741.9" cy="839.0" r="5.1"/>
<circle cx="1370.9" cy="905.9" r="5.1"/>
<circle cx="1741.6" cy="877.0" r="5.1"/>
<circle cx="1498.1" cy="807.2" r="5.1"/>
<circle cx="1628.7" cy="733.9" r="5.1"/>
<circle cx="1582.2" cy="851.3" r="5.1"/>
<circle cx="1578.5" cy="831.0" r="5.1"/>
<circle cx="1370.9" cy="853.4" r="5.1"/>
<circle cx="1483.2" cy="952.0" r="5.1"/>
<circle cx="1514.9" cy="852.3" r="5.1"/>
<circle cx="1564.0" cy="822.2" r="5.1"/>
<circle cx="1535.3" cy="897.2" r="5.1"/>
<circle cx="1451.3" cy="851.1" r="5.1"/>
<circle cx="1401.8" cy="754.2" r="5.1"/>
<circle cx="1538.3" cy="759.4" r="5.1"/>
<circle cx="1286.8" cy="739.7" r="5.1"/>
<circle cx="1688.4" cy="824.9" r="5.1"/>
<circle cx="1609.1" cy="884.2" r="5.1"/>
<circle cx="1370.9" cy="927.8" r="5.1"/>
<circle cx="1637.2" cy="887.5" r="5.1"/>
<circle cx="1465.4" cy="851.3" r="5.1"/>
<circle cx="1465.4" cy="842.4" r="5.1"/>
<circle cx="1566.2" cy="863.5" r="5.1"/>
<circle cx="1627.6" cy="815.9" r="5.1"/>
<circle cx="1669.2" cy="860.7" r="5.1"/>
<circle cx="1541.3" cy="838.4" r="5.1"/>
<circle cx="1602.0" cy="836.4" r="5.1"/>
<circle cx="1582.2" cy="900.9" r="5.1"/>
<circle cx="1544.1" cy="863.9" r="5.1"/>
<circle cx="1477.7" cy="867.0" r="5.1"/>
<circle cx="1603.4" cy="755.3" r="5.1"/>
<circle cx="1572.5" cy="926.4" r="5.1"/>
<circle cx="1370.9" cy="881.4" r="5.1"/>
<circle cx="1578.5" cy="788.9" r="5.1"/>
<circle cx="1614.4" cy="812.7" r="5.1"/>
<circle cx="1506.9" cy="878.0" r="5.1"/>
<circle cx="1414.0" cy="782.9" r="5.1"/>
<circle cx="1700.3" cy="746.7" r="5.1"/>
<circle cx="1740.3" cy="818.8" r="5.1"/>
<circle cx="1723.1" cy="947.3" r="5.1"/>
<circle cx="1493.4" cy="820.9" r="5.1"/>
<circle cx="1660.2" cy="922.0" r="5.1"/>
<circle cx="1741.9" cy="861.1" r="5.1"/>
<circle cx="1656.2" cy="871.6" r="5.1"/>
<circle cx="1584.0" cy="899.9" r="5.1"/>
<circle cx="1522.2" cy="876.3" r="5.1"/>
<circle cx="1755.1" cy="873.1" r="5.1"/>
<circle cx="1387.6" cy="790.0" r="5.1"/>
<circle cx="1493.4" cy="812.4" r="5.1"/>
<circle cx="1477.7" cy="836.2" r="5.1"/>
<circle cx="1370.9" cy="844.6" r="5.1"/>
<circle cx="1559.4" cy="879.1" r="5.1"/>
<circle cx="1664.1" cy="757.8" r="5.1"/>
<circle cx="1506.9" cy="943.5" r="5.1"/>
<circle cx="1414.0" cy="871.9" r="5.1"/>
<circle cx="1511.0" cy="823.9" r="5.1"/>
<circle cx="1657.8" cy="861.8" r="5.1"/>
<circle cx="1535.3" cy="887.2" r="5.1"/>
<circle cx="1414.0" cy="887.3" r="5.1"/>
<circle cx="1592.6" cy="810.5" r="5.1"/>
<circle cx="1458.6" cy="857.3" r="5.1"/>
<circle cx="1606.3" cy="812.7" r="5.1"/>
<circle cx="1620.6" cy="853.7" r="5.1"/>
<circle cx="1636.2" cy="835.2" r="5.1"/>
<circle cx="1350.4" cy="804.5" r="5.1"/>
<circle cx="1493.4" cy="836.0" r="5.1"/>
<circle cx="1717.8" cy="882.1" r="5.1"/>
<circle cx="1564.0" cy="872.6" r="5.1"/>
<circle cx="1401.8" cy="939.1" r="5.1"/>
<circle cx="1511.0" cy="775.5" r="5.1"/>
<circle cx="1535.3" cy="896.8" r="5.1"/>
<circle cx="1401.8" cy="780.5" r="5.1"/>
<circle cx="1514.9" cy="847.1" r="5.1"/>
<circle cx="1585.8" cy="955.2" r="5.1"/>
<circle cx="1568.4" cy="944.1" r="5.1"/>
<circle cx="1525.7" cy="851.9" r="5.1"/>
<circle cx="1506.9" cy="935.7" r="5.1"/>
<circle cx="1667.8" cy="861.1" r="5.1"/>
<circle cx="1634.1" cy="793.4" r="5.1"/>
<circle cx="1546.8" cy="877.6" r="5.1"/>
<circle cx="1570.5" cy="836.7" r="5.1"/>
<circle cx="1538.3" cy="840.6" r="5.1"/>
<circle cx="1370.9" cy="761.4" r="5.1"/>
<circle cx="1724.6" cy="837.1" r="5.1"/>
<circle cx="1458.6" cy="937.4" r="5.1"/>
<circle cx="1483.2" cy="920.5" r="5.1"/>
<circle cx="1401.8" cy="893.3" r="5.1"/>
<circle cx="1683.6" cy="843.0" r="5.1"/>
<circle cx="1587.6" cy="868.1" r="5.1"/>
<circle cx="1616.9" cy="945.0" r="5.1"/>
<circle cx="1286.8" cy="745.5" r="5.1"/>
<circle cx="1623.0" cy="865.3" r="5.1"/>
<circle cx="1506.9" cy="900.4" r="5.1"/>
<circle cx="1387.6" cy="836.6" r="5.1"/>
<circle cx="1625.3" cy="805.1" r="5.1"/>
<circle cx="1506.9" cy="957.6" r="5.1"/>
<circle cx="1424.9" cy="866.9" r="5.1"/>
<circle cx="1541.3" cy="881.3" r="5.1"/>
<circle cx="1434.5" cy="939.9" r="5.1"/>
<circle cx="1401.8" cy="825.6" r="5.1"/>
<circle cx="1623.0" cy="901.1" r="5.1"/>
<circle cx="1514.9" cy="804.3" r="5.1"/>
<circle cx="1603.4" cy="875.6" r="5.1"/>
<circle cx="1610.4" cy="873.6" r="5.1"/>
<circle cx="1625.3" cy="860.5" r="5.1"/>
<circle cx="1696.1" cy="790.9" r="5.1"/>
<circle cx="1518.6" cy="810.8" r="5.1"/>
<circle cx="1777.1" cy="848.2" r="5.1"/>
<circle cx="1498.1" cy="734.2" r="5.1"/>
<circle cx="1598.9" cy="866.6" r="5.1"/>
<circle cx="1568.4" cy="920.0" r="5.1"/>
<circle cx="1286.8" cy="755.0" r="5.1"/>
<circle cx="1561.7" cy="871.9" r="5.1"/>
<circle cx="1554.6" cy="913.7" r="5.1"/>
<circle cx="1518.6" cy="897.8" r="5.1"/>
<circle cx="1471.7" cy="749.3" r="5.1"/>
<circle cx="1564.0" cy="842.3" r="5.1"/>
<circle cx="1387.6" cy="889.5" r="5.1"/>
<circle cx="1471.7" cy="809.1" r="5.1"/>
<circle cx="1634.1" cy="891.5" r="5.1"/>
<circle cx="1570.5" cy="855.1" r="5.1"/>
<circle cx="1635.1" cy="829.8" r="5.1"/>
<circle cx="1387.6" cy="942.0" r="5.1"/>
<circle cx="1483.2" cy="850.9" r="5.1"/>
<circle cx="1544.1" cy="873.9" r="5.1"/>
<circle cx="1653.7" cy="789.1" r="5.1"/>
<circle cx="1738.7" cy="827.4" r="5.1"/>
<circle cx="1471.7" cy="811.1" r="5.1"/>
<circle cx="1502.6" cy="880.8" r="5.1"/>
<circle cx="1648.5" cy="842.4" r="5.1"/>
<circle cx="1582.2" cy="789.8" r="5.1"/>
<circle cx="1600.5" cy="916.8" r="5.1"/>
<circle cx="1676.0" cy="878.1" r="5.1"/>
<circle cx="1609.1" cy="942.8" r="5.1"/>
<circle cx="1465.4" cy="856.0" r="5.1"/>
<circle cx="1561.7" cy="850.9" r="5.1"/>
<circle cx="1749.1" cy="899.2" r="5.1"/>
<circle cx="1493.4" cy="925.2" r="5.1"/>
<circle cx="1591.0" cy="856.4" r="5.1"/>
<circle cx="1785.1" cy="949.1" r="5.1"/>
<circle cx="1614.4" cy="802.2" r="5.1"/>
<circle cx="1695.1" cy="861.9" r="5.1"/>
<circle cx="1465.4" cy="846.5" r="5.1"/>
<circle cx="1493.4" cy="915.8" r="5.1"/>
<circle cx="1623.0" cy="943.7" r="5.1"/>
<circle cx="1458.6" cy="875.2" r="5.1"/>
<circle cx="1324.0" cy="889.6" r="5.1"/>
<circle cx="1557.0" cy="897.3" r="5.1"/>
<circle cx="1743.2" cy="921.4" r="5.1"/>
<circle cx="1663.3" cy="906.7" r="5.1"/>
<circle cx="1483.2" cy="876.5" r="5.1"/>
<circle cx="1370.9" cy="877.2" r="5.1"/>
<circle cx="1514.9" cy="845.2" r="5.1"/>
<circle cx="1511.0" cy="920.1" r="5.1"/>
<circle cx="1587.6" cy="846.5" r="5.1"/>
<circle cx="1770.7" cy="840.5" r="5.1"/>
<circle cx="1686.0" cy="844.9" r="5.1"/>
<circle cx="1471.7" cy="861.9" r="5.1"/>
<circle cx="1559.4" cy="797.9" r="5.1"/>
<circle cx="1324.0" cy="783.6" r="5.1"/>
<circle cx="1568.4" cy="791.0" r="5.1"/>
<circle cx="1620.6" cy="905.5" r="5.1"/>
<circle cx="1387.6" cy="803.8" r="5.1"/>
<circle cx="1434.5" cy="767.5" r="5.1"/>
<circle cx="1580.4" cy="744.2" r="5.1"/>
<circle cx="1664.1" cy="921.7" r="5.1"/>
<circle cx="1661.8" cy="862.1" r="5.1"/>
<circle cx="1498.1" cy="909.7" r="5.1"/>
<circle cx="1546.8" cy="860.1" r="5.1"/>
<circle cx="1350.4" cy="870.8" r="5.1"/>
<circle cx="1578.5" cy="895.6" r="5.1"/>
<circle cx="1677.4" cy="854.0" r="5.1"/>
<circle cx="1671.3" cy="874.8" r="5.1"/>
<circle cx="1671.3" cy="924.0" r="5.1"/>
<circle cx="1574.6" cy="844.0" r="5.1"/>
<circle cx="1606.3" cy="842.0" r="5.1"/>
<circle cx="1679.3" cy="891.3" r="5.1"/>
<circle cx="1434.5" cy="785.3" r="5.1"/>
<circle cx="1502.6" cy="859.8" r="5.1"/>
<circle cx="1493.4" cy="848.1" r="5.1"/>
<circle cx="1465.4" cy="799.3" r="5.1"/>
<circle cx="1662.6" cy="873.8" r="5.1"/>
<circle cx="1707.1" cy="825.2" r="5.1"/>
<circle cx="1756.8" cy="953.9" r="5.1"/>
<circle cx="1672.0" cy="908.7" r="5.1"/>
<circle cx="1350.4" cy="837.3" r="5.1"/>
<circle cx="1595.8" cy="771.1" r="5.1"/>
<circle cx="1511.0" cy="835.0" r="5.1"/>
<circle cx="1350.4" cy="791.6" r="5.1"/>
<circle cx="1557.0" cy="875.2" r="5.1"/>
<circle cx="1561.7" cy="946.1" r="5.1"/>
<circle cx="1638.2" cy="955.4" r="5.1"/>
<circle cx="1723.1" cy="895.5" r="5.1"/>
<circle cx="1546.8" cy="879.6" r="5.1"/>
<circle cx="1761.6" cy="910.1" r="5.1"/>
<circle cx="1488.5" cy="863.4" r="5.1"/>
<circle cx="1387.6" cy="858.9" r="5.1"/>
<circle cx="1604.9" cy="856.7" r="5.1"/>
<circle cx="1414.0" cy="888.4" r="5.1"/>
<circle cx="1614.4" cy="819.2" r="5.1"/>
<circle cx="1514.9" cy="943.2" r="5.1"/>
<circle cx="1726.5" cy="878.9" r="5.1"/>
<circle cx="1582.2" cy="885.1" r="5.1"/>
<circle cx="1689.0" cy="921.7" r="5.1"/>
<circle cx="1743.5" cy="906.7" r="5.1"/>
<circle cx="1370.9" cy="764.8" r="5.1"/>
<circle cx="1561.7" cy="821.6" r="5.1"/>
<circle cx="1522.2" cy="854.2" r="5.1"/>
<circle cx="1678.6" cy="920.3" r="5.1"/>
<circle cx="1514.9" cy="764.1" r="5.1"/>
<circle cx="1663.3" cy="844.0" r="5.1"/>
<circle cx="1670.6" cy="860.7" r="5.1"/>
<circle cx="1532.2" cy="842.1" r="5.1"/>
<circle cx="1471.7" cy="829.0" r="5.1"/>
<circle cx="1680.6" cy="879.3" r="5.1"/>
<circle cx="1646.7" cy="905.2" r="5.1"/>
<circle cx="1525.7" cy="834.3" r="5.1"/>
<circle cx="1498.1" cy="825.7" r="5.1"/>
<circle cx="1681.2" cy="824.5" r="5.1"/>
<circle cx="1709.0" cy="893.4" r="5.1"/>
<circle cx="1620.6" cy="837.2" r="5.1"/>
<circle cx="1678.0" cy="909.1" r="5.1"/>
<circle cx="1424.9" cy="848.8" r="5.1"/>
<circle cx="1370.9" cy="846.6" r="5.1"/>
<circle cx="1591.0" cy="789.2" r="5.1"/>
<circle cx="1350.4" cy="745.9" r="5.1"/>
<circle cx="1790.9" cy="937.2" r="5.1"/>
<circle cx="1686.6" cy="808.6" r="5.1"/>
<circle cx="1763.9" cy="857.7" r="5.1"/>
<circle cx="1477.7" cy="887.2" r="5.1"/>
<circle cx="1498.1" cy="833.3" r="5.1"/>
<circle cx="1667.8" cy="868.5" r="5.1"/>
<circle cx="1387.6" cy="767.3" r="5.1"/>
<circle cx="1720.6" cy="898.8" r="5.1"/>
<circle cx="1693.4" cy="942.0" r="5.1"/>
<circle cx="1678.6" cy="875.9" r="5.1"/>
<circle cx="1714.3" cy="819.1" r="5.1"/>
<circle cx="1458.6" cy="805.3" r="5.1"/>
<circle cx="1324.0" cy="748.3" r="5.1"/>
<circle cx="1477.7" cy="858.2" r="5.1"/>
<circle cx="1597.4" cy="781.6" r="5.1"/>
<circle cx="1684.8" cy="861.5" r="5.1"/>
<circle cx="1702.8" cy="900.3" r="5.1"/>
<circle cx="1286.8" cy="790.0" r="5.1"/>
<circle cx="1606.3" cy="898.8" r="5.1"/>
<circle cx="1733.2" cy="851.2" r="5.1"/>
<circle cx="1747.6" cy="877.2" r="5.1"/>
<circle cx="1557.0" cy="856.0" r="5.1"/>
<circle cx="1559.4" cy="855.7" r="5.1"/>
<circle cx="1535.3" cy="783.8" r="5.1"/>
<circle cx="1669.2" cy="882.3" r="5.1"/>
<circle cx="1595.8" cy="866.4" r="5.1"/>
<circle cx="1350.4" cy="777.7" r="5.1"/>
<circle cx="1538.3" cy="889.4" r="5.1"/>
<circle cx="1493.4" cy="839.4" r="5.1"/>
<circle cx="1370.9" cy="939.8" r="5.1"/>
<circle cx="1538.3" cy="824.9" r="5.1"/>
<circle cx="1564.0" cy="817.9" r="5.1"/>
<circle cx="1591.0" cy="941.2" r="5.1"/>
<circle cx="1584.0" cy="834.5" r="5.1"/>
<circle cx="1493.4" cy="907.7" r="5.1"/>
<circle cx="1414.0" cy="839.3" r="5.1"/>
<circle cx="1618.2" cy="831.6" r="5.1"/>
<circle cx="1465.4" cy="833.2" r="5.1"/>
<circle cx="1578.5" cy="901.8" r="5.1"/>
<circle cx="1387.6" cy="791.8" r="5.1"/>
<circle cx="1703.8" cy="934.9" r="5.1"/>
<circle cx="1518.6" cy="911.7" r="5.1"/>
<circle cx="1568.4" cy="934.2" r="5.1"/>
<circle cx="1701.8" cy="866.0" r="5.1"/>
<circle cx="1595.8" cy="773.2" r="5.1"/>
<circle cx="1488.5" cy="763.3" r="5.1"/>
<circle cx="1683.6" cy="886.5" r="5.1"/>
<circle cx="1324.0" cy="865.9" r="5.1"/>
<circle cx="1458.6" cy="732.0" r="5.1"/>
<circle cx="1743.8" cy="852.3" r="5.1"/>
<circle cx="1324.0" cy="844.2" r="5.1"/>
<circle cx="1493.4" cy="732.9" r="5.1"/>
<circle cx="1286.8" cy="869.4" r="5.1"/>
<circle cx="1559.4" cy="835.7" r="5.1"/>
<circle cx="1570.5" cy="764.2" r="5.1"/>
<circle cx="1689.0" cy="804.9" r="5.1"/>
<circle cx="1324.0" cy="940.1" r="5.1"/>
<circle cx="1741.6" cy="879.6" r="5.1"/>
<circle cx="1483.2" cy="787.2" r="5.1"/>
<circle cx="1578.5" cy="866.9" r="5.1"/>
<circle cx="1595.8" cy="844.9" r="5.1"/>
<circle cx="1451.3" cy="839.2" r="5.1"/>
<circle cx="1647.6" cy="915.7" r="5.1"/>
<circle cx="1387.6" cy="798.6" r="5.1"/>
<circle cx="1502.6" cy="858.3" r="5.1"/>
<circle cx="1597.4" cy="890.0" r="5.1"/>
<circle cx="1666.3" cy="822.2" r="5.1"/>
<circle cx="1483.2" cy="886.1" r="5.1"/>
<circle cx="1546.8" cy="826.2" r="5.1"/>
<circle cx="1546.8" cy="821.8" r="5.1"/>
<circle cx="1286.8" cy="888.2" r="5.1"/>
<circle cx="1600.5" cy="766.9" r="5.1"/>
<circle cx="1639.2" cy="877.9" r="5.1"/>
<circle cx="1615.7" cy="772.5" r="5.1"/>
<circle cx="1522.2" cy="812.5" r="5.1"/>
<circle cx="1715.6" cy="928.6" r="5.1"/>
<circle cx="1705.2" cy="828.2" r="5.1"/>
<circle cx="1414.0" cy="851.5" r="5.1"/>
<circle cx="1535.3" cy="825.0" r="5.1"/>
<circle cx="1589.3" cy="881.6" r="5.1"/>
<circle cx="1657.8" cy="915.0" r="5.1"/>
<circle cx="1557.0" cy="919.4" r="5.1"/>
<circle cx="1401.8" cy="928.2" r="5.1"/>
<circle cx="1488.5" cy="878.8" r="5.1"/>
<circle cx="1613.1" cy="887.7" r="5.1"/>
<circle cx="1657.0" cy="910.0" r="5.1"/>
<circle cx="1660.2" cy="858.5" r="5.1"/>
<circle cx="1554.6" cy="853.3" r="5.1"/>
<circle cx="1532.2" cy="883.0" r="5.1"/>
<circle cx="1511.0" cy="856.3" r="5.1"/>
<circle cx="1570.5" cy="865.0" r="5.1"/>
<circle cx="1634.1" cy="833.3" r="5.1"/>
<circle cx="1561.7" cy="827.1" r="5.1"/>
<circle cx="1370.9" cy="788.7" r="5.1"/>
<circle cx="1661.8" cy="894.3" r="5.1"/>
<circle cx="1729.2" cy="892.3" r="5.1"/>
<circle cx="1443.3" cy="788.1" r="5.1"/>
<circle cx="1584.0" cy="768.6" r="5.1"/>
<circle cx="1610.4" cy="843.7" r="5.1"/>
<circle cx="1451.3" cy="839.7" r="5.1"/>
<circle cx="1647.6" cy="894.8" r="5.1"/>
<circle cx="1502.6" cy="848.2" r="5.1"/>
<circle cx="1710.8" cy="871.7" r="5.1"/>
<circle cx="1532.2" cy="833.3" r="5.1"/>
<circle cx="1554.6" cy="870.6" r="5.1"/>
<circle cx="1465.4" cy="862.0" r="5.1"/>
<circle cx="1529.0" cy="785.8" r="5.1"/>
<circle cx="1443.3" cy="899.6" r="5.1"/>
<circle cx="1529.0" cy="877.5" r="5.1"/>
<circle cx="1498.1" cy="837.8" r="5.1"/>
<circle cx="1638.2" cy="895.8" r="5.1"/>
<circle cx="1387.6" cy="860.0" r="5.1"/>
<circle cx="1483.2" cy="857.4" r="5.1"/>
<circle cx="1669.9" cy="941.2" r="5.1"/>
<circle cx="1644.0" cy="862.2" r="5.1"/>
<circle cx="1458.6" cy="846.6" r="5.1"/>
<circle cx="1511.0" cy="828.2" r="5.1"/>
<circle cx="1639.2" cy="825.6" r="5.1"/>
<circle cx="1554.6" cy="842.1" r="5.1"/>
<circle cx="1683.0" cy="881.2" r="5.1"/>
<circle cx="1561.7" cy="844.4" r="5.1"/>
<circle cx="1549.5" cy="946.7" r="5.1"/>
<circle cx="1812.1" cy="849.2" r="5.1"/>
<circle cx="1488.5" cy="778.4" r="5.1"/>
<circle cx="1525.7" cy="785.9" r="5.1"/>
<circle cx="1727.3" cy="869.9" r="5.1"/>
<circle cx="1518.6" cy="826.6" r="5.1"/>
<circle cx="1535.3" cy="825.3" r="5.1"/>
<circle cx="1414.0" cy="748.8" r="5.1"/>
<circle cx="1529.0" cy="889.8" r="5.1"/>
<circle cx="1506.9" cy="829.4" r="5.1"/>
<circle cx="1632.0" cy="850.5" r="5.1"/>
<circle cx="1570.5" cy="816.6" r="5.1"/>
<circle cx="1465.4" cy="865.3" r="5.1"/>
<circle cx="1683.6" cy="902.1" r="5.1"/>
<circle cx="1324.0" cy="825.2" r="5.1"/>
<circle cx="1552.1" cy="869.7" r="5.1"/>
<circle cx="1286.8" cy="809.8" r="5.1"/>
<circle cx="1603.4" cy="869.3" r="5.1"/>
<circle cx="1324.0" cy="805.6" r="5.1"/>
<circle cx="1387.6" cy="743.3" r="5.1"/>
<circle cx="1488.5" cy="898.0" r="5.1"/>
<circle cx="1414.0" cy="772.4" r="5.1"/>
<circle cx="1286.8" cy="900.0" r="5.1"/>
<circle cx="1434.5" cy="810.7" r="5.1"/>
<circle cx="1549.5" cy="898.1" r="5.1"/>
<circle cx="1522.2" cy="831.0" r="5.1"/>
<circle cx="1471.7" cy="814.4" r="5.1"/>
<circle cx="1324.0" cy="826.6" r="5.1"/>
<circle cx="1652.0" cy="875.7" r="5.1"/>
<circle cx="1720.2" cy="895.1" r="5.1"/>
<circle cx="1554.6" cy="854.9" r="5.1"/>
<circle cx="1471.7" cy="833.4" r="5.1"/>
<circle cx="1465.4" cy="900.7" r="5.1"/>
<circle cx="1350.4" cy="898.3" r="5.1"/>
<circle cx="1532.2" cy="841.5" r="5.1"/>
<circle cx="1618.2" cy="807.5" r="5.1"/>
<circle cx="1725.8" cy="908.6" r="5.1"/>
<circle cx="1615.7" cy="946.1" r="5.1"/>
<circle cx="1324.0" cy="890.8" r="5.1"/>
<circle cx="1704.2" cy="893.1" r="5.1"/>
<circle cx="1546.8" cy="787.7" r="5.1"/>
<circle cx="1401.8" cy="777.4" r="5.1"/>
<circle cx="1511.0" cy="924.8" r="5.1"/>
<circle cx="1580.4" cy="886.0" r="5.1"/>
<circle cx="1726.5" cy="874.3" r="5.1"/>
<circle cx="1401.8" cy="845.3" r="5.1"/>
<circle cx="1647.6" cy="793.2" r="5.1"/>
<circle cx="1451.3" cy="893.4" r="5.1"/>
<circle cx="1628.7" cy="890.8" r="5.1"/>
<circle cx="1424.9" cy="879.0" r="5.1"/>
<circle cx="1488.5" cy="810.4" r="5.1"/>
<circle cx="1623.0" cy="900.1" r="5.1"/>
<circle cx="1646.7" cy="818.9" r="5.1"/>
<circle cx="1471.7" cy="862.4" r="5.1"/>
<circle cx="1514.9" cy="891.7" r="5.1"/>
<circle cx="1572.5" cy="784.5" r="5.1"/>
<circle cx="1370.9" cy="843.1" r="5.1"/>
<circle cx="1659.4" cy="880.7" r="5.1"/>
<circle cx="1633.0" cy="765.5" r="5.1"/>
<circle cx="1606.3" cy="918.1" r="5.1"/>
<circle cx="1286.8" cy="835.7" r="5.1"/>
<circle cx="1451.3" cy="911.8" r="5.1"/>
<circle cx="1538.3" cy="897.7" r="5.1"/>
<circle cx="1443.3" cy="884.0" r="5.1"/>
<circle cx="1518.6" cy="885.7" r="5.1"/>
<circle cx="1591.0" cy="846.1" r="5.1"/>
<circle cx="1511.0" cy="873.4" r="5.1"/>
<circle cx="1544.1" cy="842.1" r="5.1"/>
<circle cx="1643.0" cy="825.4" r="5.1"/>
<circle cx="1559.4" cy="881.2" r="5.1"/>
<circle cx="1710.8" cy="924.6" r="5.1"/>
<circle cx="1642.1" cy="911.7" r="5.1"/>
<circle cx="1682.4" cy="814.6" r="5.1"/>
<circle cx="1434.5" cy="838.9" r="5.1"/>
<circle cx="1604.9" cy="804.4" r="5.1"/>
<circle cx="1458.6" cy="845.5" r="5.1"/>
<circle cx="1564.0" cy="901.0" r="5.1"/>
<circle cx="1223.3" cy="962.8" r="5.1"/>
<circle cx="1286.4" cy="976.5" r="5.1"/>
<circle cx="1316.5" cy="962.8" r="5.1"/>
<circle cx="1386.8" cy="965.6" r="5.1"/>
<circle cx="1386.8" cy="973.7" r="5.1"/>
<circle cx="1414.9" cy="962.8" r="5.1"/>
<circle cx="1425.8" cy="978.5" r="5.1"/>
<circle cx="1435.0" cy="969.6" r="5.1"/>
<circle cx="1443.0" cy="973.7" r="5.1"/>
<circle cx="1465.1" cy="962.8" r="5.1"/>
<circle cx="1479.2" cy="967.6" r="5.1"/>
<circle cx="1489.2" cy="959.6" r="5.1"/>
<circle cx="1499.3" cy="959.6" r="5.1"/>
<circle cx="1519.4" cy="962.8" r="5.1"/>
<circle cx="1529.4" cy="978.5" r="5.1"/>
<circle cx="1529.4" cy="986.9" r="5.1"/>
<circle cx="1638.7" cy="988.9" r="5.1"/>
<circle cx="1658.0" cy="986.5" r="5.1"/>
<circle cx="1666.0" cy="983.7" r="5.1"/>
<circle cx="1617.8" cy="1001.8" r="5.1"/>
<circle cx="1668.0" cy="1002.6" r="5.1"/>
<circle cx="1676.9" cy="997.8" r="5.1"/>
<circle cx="1581.6" cy="1010.6" r="5.1"/>
<circle cx="1592.9" cy="1005.8" r="5.1"/>
<circle cx="1559.5" cy="1015.0" r="5.1"/>
<circle cx="1724.3" cy="1012.6" r="5.1"/>
<circle cx="1494.1" cy="1021.1" r="5.1"/>
<circle cx="1643.1" cy="1039.1" r="5.1"/>
<circle cx="1674.0" cy="1036.7" r="5.1"/>
<circle cx="1714.2" cy="1042.3" r="5.1"/>
<circle cx="1592.9" cy="1050.0" r="5.1"/>
<circle cx="1661.2" cy="1055.2" r="5.1"/>
<circle cx="1511.3" cy="1056.0" r="5.1"/>
<circle cx="1484.0" cy="1068.9" r="5.1"/>
<circle cx="1443.0" cy="1084.9" r="5.1"/>
<circle cx="1688.9" cy="1084.1" r="5.1"/>
<circle cx="1471.2" cy="1098.2" r="5.1"/>
<circle cx="1678.9" cy="1111.4" r="5.1"/>
<circle cx="1324.5" cy="614.1" r="5.1"/>
<circle cx="1499.3" cy="621.3" r="5.1"/>
<circle cx="1349.4" cy="637.4" r="5.1"/>
<circle cx="1324.5" cy="643.0" r="5.1"/>
<circle cx="1286.4" cy="651.1" r="5.1"/>
<circle cx="1484.0" cy="655.5" r="5.1"/>
<circle cx="1514.6" cy="655.5" r="5.1"/>
<circle cx="1387.6" cy="659.1" r="5.1"/>
<circle cx="1349.4" cy="672.4" r="5.1"/>
<circle cx="1349.4" cy="674.4" r="5.1"/>
<circle cx="1387.6" cy="677.2" r="5.1"/>
<circle cx="1514.6" cy="674.4" r="5.1"/>
<circle cx="1451.1" cy="682.4" r="5.1"/>
<circle cx="1415.7" cy="689.2" r="5.1"/>
<circle cx="1459.1" cy="690.4" r="5.1"/>
<circle cx="1415.7" cy="698.5" r="5.1"/>
<circle cx="1484.0" cy="695.7" r="5.1"/>
<circle cx="1435.8" cy="700.5" r="5.1"/>
<circle cx="1711.4" cy="687.6" r="5.1"/>
<circle cx="1471.2" cy="711.3" r="5.1"/>
<circle cx="1529.4" cy="713.7" r="5.1"/>
<circle cx="1537.5" cy="716.9" r="5.1"/>
<circle cx="1590.5" cy="714.5" r="5.1"/>
<circle cx="1286.4" cy="717.3" r="5.1"/>
<circle cx="1711.4" cy="727.8" r="5.1"/>
<circle cx="1719.4" cy="730.6" r="5.1"/>
<circle cx="1577.6" cy="730.2" r="5.1"/>
<circle cx="1754.4" cy="743.1" r="5.1"/>
<circle cx="1223.2" cy="755.2" r="5.1"/>
<circle cx="1223.2" cy="773.3" r="5.1"/>
<circle cx="1223.2" cy="781.1" r="5.1"/>
<circle cx="1223.2" cy="790.2" r="5.1"/>
<circle cx="1223.2" cy="799.2" r="5.1"/>
<circle cx="1223.2" cy="822.5" r="5.1"/>
<circle cx="1223.2" cy="849.7" r="5.1"/>
<circle cx="1223.2" cy="854.9" r="5.1"/>
<circle cx="1223.2" cy="866.6" r="5.1"/>
<circle cx="1223.2" cy="869.2" r="5.1"/>
<circle cx="1223.2" cy="962.4" r="5.1"/>
<circle cx="1590.5" cy="714.0" r="5.1"/>
</g>
<rect x="1032.40" y="603.00" width="845.50" height="514.80" fill="none" stroke="#000" stroke-width="1.70"/>
<line x1="1032.40" y1="731.80" x2="1052.90" y2="731.80" stroke="#000" stroke-width="1.40" stroke-linecap="butt"/>
<line x1="1032.40" y1="861.60" x2="1052.90" y2="861.60" stroke="#000" stroke-width="1.40" stroke-linecap="butt"/>
<line x1="1032.40" y1="989.20" x2="1052.90" y2="989.20" stroke="#000" stroke-width="1.40" stroke-linecap="butt"/>
<line x1="1244.00" y1="1097.50" x2="1244.00" y2="1117.80" stroke="#000" stroke-width="1.40" stroke-linecap="butt"/>
<line x1="1454.30" y1="1097.50" x2="1454.30" y2="1117.80" stroke="#000" stroke-width="1.40" stroke-linecap="butt"/>
<line x1="1666.50" y1="1097.50" x2="1666.50" y2="1117.80" stroke="#000" stroke-width="1.40" stroke-linecap="butt"/>
<rect x="1234.55" y="907.35" width="26.50" height="26.50" fill="#0B6B3A" stroke="#231f20" stroke-width="1.00"/>
<rect x="1459.95" y="843.05" width="26.50" height="26.50" fill="#231f20" stroke="#231f20" stroke-width="1.00"/>
<rect x="1708.95" y="850.75" width="26.50" height="26.50" fill="#F15A2D" stroke="#231f20" stroke-width="1.00"/>
<rect x="1747.95" y="903.35" width="26.50" height="26.50" fill="#C1272D" stroke="#231f20" stroke-width="1.00"/>
<rect x="1591.65" y="968.45" width="26.50" height="26.50" fill="#AB7C51" stroke="#231f20" stroke-width="1.00"/>
<polygon points="1326.90,811.75 1341.65,842.25 1312.15,842.25" fill="#8ED8F6" stroke="#111" stroke-width="1.10" stroke-linejoin="miter"/>
<polygon points="1390.00,864.85 1404.75,895.35 1375.25,895.35" fill="#8ED8F6" stroke="#111" stroke-width="1.10" stroke-linejoin="miter"/>
<polygon points="1451.10,831.85 1465.85,862.35 1436.35,862.35" fill="#8ED8F6" stroke="#111" stroke-width="1.10" stroke-linejoin="miter"/>
<polygon points="1447.00,846.75 1461.75,877.25 1432.25,877.25" fill="#8ED8F6" stroke="#111" stroke-width="1.10" stroke-linejoin="miter"/>
<polygon points="1550.30,870.05 1565.05,900.55 1535.55,900.55" fill="#8ED8F6" stroke="#111" stroke-width="1.10" stroke-linejoin="miter"/>
<polygon points="1597.70,898.15 1612.45,928.65 1582.95,928.65" fill="#8ED8F6" stroke="#111" stroke-width="1.10" stroke-linejoin="miter"/>
<polygon points="1645.90,900.95 1660.65,931.45 1631.15,931.45" fill="#8ED8F6" stroke="#111" stroke-width="1.10" stroke-linejoin="miter"/>
<polygon points="1658.00,894.15 1672.75,924.65 1643.25,924.65" fill="#8ED8F6" stroke="#111" stroke-width="1.10" stroke-linejoin="miter"/>
<polygon points="1670.00,880.05 1684.75,910.55 1655.25,910.55" fill="#8ED8F6" stroke="#111" stroke-width="1.10" stroke-linejoin="miter"/>
<polygon points="1696.90,888.15 1711.65,918.65 1682.15,918.65" fill="#8ED8F6" stroke="#111" stroke-width="1.10" stroke-linejoin="miter"/>
<polygon points="1714.20,829.85 1728.95,860.35 1699.45,860.35" fill="#8ED8F6" stroke="#111" stroke-width="1.10" stroke-linejoin="miter"/>
<polygon points="1289.20,837.85 1303.95,868.35 1274.45,868.35" fill="#A698C6" stroke="#111" stroke-width="1.10" stroke-linejoin="miter"/>
<polygon points="1374.80,837.85 1389.55,868.35 1360.05,868.35" fill="#A698C6" stroke="#111" stroke-width="1.10" stroke-linejoin="miter"/>
<polygon points="1418.10,816.55 1432.85,847.05 1403.35,847.05" fill="#A698C6" stroke="#111" stroke-width="1.10" stroke-linejoin="miter"/>
<polygon points="1405.30,853.95 1420.05,884.45 1390.55,884.45" fill="#A698C6" stroke="#111" stroke-width="1.10" stroke-linejoin="miter"/>
<polygon points="1445.10,819.85 1459.85,850.35 1430.35,850.35" fill="#A698C6" stroke="#111" stroke-width="1.10" stroke-linejoin="miter"/>
<polygon points="1461.10,845.95 1475.85,876.45 1446.35,876.45" fill="#A698C6" stroke="#111" stroke-width="1.10" stroke-linejoin="miter"/>
<polygon points="1496.50,837.85 1511.25,868.35 1481.75,868.35" fill="#A698C6" stroke="#111" stroke-width="1.10" stroke-linejoin="miter"/>
<polygon points="1541.90,837.85 1556.65,868.35 1527.15,868.35" fill="#A698C6" stroke="#111" stroke-width="1.10" stroke-linejoin="miter"/>
<polygon points="1625.80,893.35 1640.55,923.85 1611.05,923.85" fill="#A698C6" stroke="#111" stroke-width="1.10" stroke-linejoin="miter"/>
<polygon points="1659.20,880.05 1673.95,910.55 1644.45,910.55" fill="#A698C6" stroke="#111" stroke-width="1.10" stroke-linejoin="miter"/>
<polygon points="1714.20,829.85 1728.95,860.35 1699.45,860.35" fill="#8ED8F6" stroke="#111" stroke-width="1.10" stroke-linejoin="miter"/>
<text transform="translate(1082.40 631.60) scale(0.9060 1)" font-size="22.20" text-anchor="start" fill="#000">HP Metasomatism</text>
<line x1="1082.90" y1="638.60" x2="1217.70" y2="638.60" stroke="#000" stroke-width="1.40" stroke-linecap="butt"/>
<polygon points="1226.70,638.60 1212.70,645.60 1216.70,638.60 1212.70,631.60" fill="#000"/>
<line x1="1082.90" y1="638.60" x2="1179.37" y2="730.01" stroke="#000" stroke-width="1.40" stroke-linecap="butt"/>
<polygon points="1185.90,736.20 1170.92,731.65 1178.64,729.32 1180.55,721.49" fill="#000"/>
<text transform="translate(1121.00 710.00) rotate(43.50) scale(0.9000 1)" font-size="22.20" text-anchor="middle" fill="#000">Seafloor alteration</text>
<text transform="translate(1599.00 643.00) scale(0.9000 1)" font-size="22.20" text-anchor="middle" fill="#000">n = 1061</text>
<line x1="1595.70" y1="652.30" x2="1591.36" y2="697.54" stroke="#000" stroke-width="1.40" stroke-linecap="butt"/>
<polygon points="1590.50,706.50 1584.87,691.90 1591.46,696.55 1598.81,693.23" fill="#000"/>
<text transform="translate(995.30 609.20) scale(0.8200 1)" font-size="24.00" text-anchor="middle" fill="#000">10<tspan font-size="14.0" dy="-8.2">3</tspan></text>
<text transform="translate(995.30 738.00) scale(0.8200 1)" font-size="24.00" text-anchor="middle" fill="#000">10<tspan font-size="14.0" dy="-8.2">2</tspan></text>
<text transform="translate(995.30 867.80) scale(0.8200 1)" font-size="24.00" text-anchor="middle" fill="#000">10</text>
<text transform="translate(995.30 995.40) scale(0.8200 1)" font-size="24.00" text-anchor="middle" fill="#000">1</text>
<text transform="translate(995.30 1124.00) scale(0.8200 1)" font-size="24.00" text-anchor="middle" fill="#000">0.1</text>
<text transform="translate(1032.40 1145.50) scale(0.8200 1)" font-size="24.00" text-anchor="middle" fill="#000">10</text>
<text transform="translate(1244.00 1145.50) scale(0.8200 1)" font-size="24.00" text-anchor="middle" fill="#000">10<tspan font-size="14.0" dy="-8.2">2</tspan></text>
<text transform="translate(1454.30 1145.50) scale(0.8200 1)" font-size="24.00" text-anchor="middle" fill="#000">10<tspan font-size="14.0" dy="-8.2">3</tspan></text>
<text transform="translate(1666.50 1145.50) scale(0.8200 1)" font-size="24.00" text-anchor="middle" fill="#000">10<tspan font-size="14.0" dy="-8.2">4</tspan></text>
<text transform="translate(1877.90 1145.50) scale(0.8200 1)" font-size="24.00" text-anchor="middle" fill="#000">10<tspan font-size="14.0" dy="-8.2">5</tspan></text>
<text transform="translate(968.30 860.20) rotate(-90.00) scale(0.9850 1)" font-size="28.50" text-anchor="middle" font-weight="bold" fill="#000">Ba/Rb</text>
<text transform="translate(1455.00 1176.20)" font-size="28.50" text-anchor="middle" font-weight="bold" fill="#000">K</text>
<text transform="translate(1820.10 633.20) scale(0.8400 1)" font-size="32.50" text-anchor="start" font-weight="bold" fill="#000">(d)</text>
<rect x="78.30" y="1360.50" width="847.50" height="13.00" fill="#C4C5C7" stroke="none" stroke-width="0.00"/>
<clipPath id="ce"><rect x="78.3" y="1193.5" width="847.5" height="515.1"/></clipPath>
<g clip-path="url(#ce)" fill="#A7A9AC" stroke="#5d5e60" stroke-width="0.9">
<circle cx="108.3" cy="1680.0" r="5.1"/>
<circle cx="212.9" cy="1603.3" r="5.1"/>
<circle cx="126.6" cy="1622.1" r="5.1"/>
<circle cx="105.9" cy="1660.2" r="5.1"/>
<circle cx="149.1" cy="1641.0" r="5.1"/>
<circle cx="100.4" cy="1664.1" r="5.1"/>
<circle cx="212.9" cy="1555.7" r="5.1"/>
<circle cx="178.4" cy="1609.5" r="5.1"/>
<circle cx="148.2" cy="1662.6" r="5.1"/>
<circle cx="129.8" cy="1408.3" r="5.1"/>
<circle cx="120.5" cy="1629.4" r="5.1"/>
<circle cx="98.4" cy="1647.4" r="5.1"/>
<circle cx="185.5" cy="1689.0" r="5.1"/>
<circle cx="95.2" cy="1665.5" r="5.1"/>
<circle cx="208.0" cy="1613.7" r="5.1"/>
<circle cx="122.0" cy="1646.7" r="5.1"/>
<circle cx="159.9" cy="1554.6" r="5.1"/>
<circle cx="263.1" cy="1537.9" r="5.1"/>
<circle cx="98.3" cy="1680.8" r="5.1"/>
<circle cx="114.5" cy="1623.7" r="5.1"/>
<circle cx="91.9" cy="1659.7" r="5.1"/>
<circle cx="107.6" cy="1682.8" r="5.1"/>
<circle cx="255.0" cy="1641.0" r="5.1"/>
<circle cx="110.7" cy="1625.1" r="5.1"/>
<circle cx="170.0" cy="1670.7" r="5.1"/>
<circle cx="159.5" cy="1491.5" r="5.1"/>
<circle cx="217.7" cy="1679.2" r="5.1"/>
<circle cx="192.7" cy="1661.5" r="5.1"/>
<circle cx="162.8" cy="1457.2" r="5.1"/>
<circle cx="212.9" cy="1679.5" r="5.1"/>
<circle cx="127.2" cy="1643.0" r="5.1"/>
<circle cx="139.1" cy="1669.9" r="5.1"/>
<circle cx="122.1" cy="1528.8" r="5.1"/>
<circle cx="170.3" cy="1688.4" r="5.1"/>
<circle cx="109.9" cy="1512.7" r="5.1"/>
<circle cx="107.0" cy="1651.6" r="5.1"/>
<circle cx="99.1" cy="1645.0" r="5.1"/>
<circle cx="155.4" cy="1683.7" r="5.1"/>
<circle cx="138.9" cy="1667.3" r="5.1"/>
<circle cx="106.7" cy="1681.5" r="5.1"/>
<circle cx="113.1" cy="1680.2" r="5.1"/>
<circle cx="147.0" cy="1652.6" r="5.1"/>
<circle cx="137.4" cy="1678.7" r="5.1"/>
<circle cx="196.1" cy="1569.7" r="5.1"/>
<circle cx="114.5" cy="1572.3" r="5.1"/>
<circle cx="133.1" cy="1648.9" r="5.1"/>
<circle cx="189.3" cy="1602.7" r="5.1"/>
<circle cx="130.4" cy="1595.4" r="5.1"/>
<circle cx="146.7" cy="1598.3" r="5.1"/>
<circle cx="255.0" cy="1649.9" r="5.1"/>
<circle cx="152.9" cy="1636.3" r="5.1"/>
<circle cx="120.0" cy="1648.3" r="5.1"/>
<circle cx="88.2" cy="1689.5" r="5.1"/>
<circle cx="250.4" cy="1656.0" r="5.1"/>
<circle cx="134.4" cy="1663.1" r="5.1"/>
<circle cx="105.9" cy="1509.2" r="5.1"/>
<circle cx="255.0" cy="1577.3" r="5.1"/>
<circle cx="147.1" cy="1642.4" r="5.1"/>
<circle cx="100.7" cy="1687.8" r="5.1"/>
<circle cx="125.7" cy="1572.8" r="5.1"/>
<circle cx="201.1" cy="1474.2" r="5.1"/>
<circle cx="92.7" cy="1567.3" r="5.1"/>
<circle cx="113.3" cy="1639.4" r="5.1"/>
<circle cx="107.2" cy="1322.2" r="5.1"/>
<circle cx="122.5" cy="1631.5" r="5.1"/>
<circle cx="140.6" cy="1617.8" r="5.1"/>
<circle cx="124.4" cy="1665.6" r="5.1"/>
<circle cx="143.2" cy="1370.8" r="5.1"/>
<circle cx="196.1" cy="1611.8" r="5.1"/>
<circle cx="206.8" cy="1650.0" r="5.1"/>
<circle cx="119.6" cy="1665.8" r="5.1"/>
<circle cx="121.8" cy="1675.5" r="5.1"/>
<circle cx="183.4" cy="1640.5" r="5.1"/>
<circle cx="191.4" cy="1657.0" r="5.1"/>
<circle cx="145.6" cy="1550.2" r="5.1"/>
<circle cx="111.1" cy="1651.5" r="5.1"/>
<circle cx="112.4" cy="1541.9" r="5.1"/>
<circle cx="162.2" cy="1623.4" r="5.1"/>
<circle cx="183.8" cy="1431.1" r="5.1"/>
<circle cx="212.9" cy="1663.6" r="5.1"/>
<circle cx="150.5" cy="1679.1" r="5.1"/>
<circle cx="88.4" cy="1660.4" r="5.1"/>
<circle cx="126.0" cy="1581.4" r="5.1"/>
<circle cx="244.6" cy="1631.8" r="5.1"/>
<circle cx="208.6" cy="1622.8" r="5.1"/>
<circle cx="150.9" cy="1668.7" r="5.1"/>
<circle cx="148.4" cy="1349.0" r="5.1"/>
<circle cx="255.0" cy="1610.0" r="5.1"/>
<circle cx="110.3" cy="1657.6" r="5.1"/>
<circle cx="157.6" cy="1564.9" r="5.1"/>
<circle cx="98.0" cy="1679.0" r="5.1"/>
<circle cx="244.6" cy="1675.5" r="5.1"/>
<circle cx="142.6" cy="1699.0" r="5.1"/>
<circle cx="99.4" cy="1693.0" r="5.1"/>
<circle cx="172.1" cy="1644.2" r="5.1"/>
<circle cx="135.1" cy="1256.8" r="5.1"/>
<circle cx="117.3" cy="1665.7" r="5.1"/>
<circle cx="166.2" cy="1646.6" r="5.1"/>
<circle cx="123.3" cy="1669.7" r="5.1"/>
<circle cx="127.3" cy="1644.1" r="5.1"/>
<circle cx="186.3" cy="1671.6" r="5.1"/>
<circle cx="255.0" cy="1487.8" r="5.1"/>
<circle cx="179.9" cy="1648.2" r="5.1"/>
<circle cx="153.2" cy="1680.1" r="5.1"/>
<circle cx="133.6" cy="1649.5" r="5.1"/>
<circle cx="194.3" cy="1619.4" r="5.1"/>
<circle cx="271.0" cy="1547.3" r="5.1"/>
<circle cx="156.1" cy="1653.9" r="5.1"/>
<circle cx="217.0" cy="1633.6" r="5.1"/>
<circle cx="144.6" cy="1568.1" r="5.1"/>
<circle cx="129.3" cy="1509.5" r="5.1"/>
<circle cx="136.1" cy="1551.8" r="5.1"/>
<circle cx="236.6" cy="1659.8" r="5.1"/>
<circle cx="103.7" cy="1654.4" r="5.1"/>
<circle cx="100.2" cy="1673.7" r="5.1"/>
<circle cx="151.3" cy="1594.1" r="5.1"/>
<circle cx="114.4" cy="1610.8" r="5.1"/>
<circle cx="255.0" cy="1528.4" r="5.1"/>
<circle cx="128.9" cy="1573.4" r="5.1"/>
<circle cx="244.6" cy="1620.3" r="5.1"/>
<circle cx="174.6" cy="1539.9" r="5.1"/>
<circle cx="167.8" cy="1527.0" r="5.1"/>
<circle cx="160.0" cy="1610.9" r="5.1"/>
<circle cx="136.2" cy="1680.8" r="5.1"/>
<circle cx="86.5" cy="1658.9" r="5.1"/>
<circle cx="177.1" cy="1646.9" r="5.1"/>
<circle cx="196.1" cy="1576.0" r="5.1"/>
<circle cx="136.4" cy="1569.2" r="5.1"/>
<circle cx="123.5" cy="1623.4" r="5.1"/>
<circle cx="167.1" cy="1682.9" r="5.1"/>
<circle cx="241.2" cy="1480.9" r="5.1"/>
<circle cx="236.0" cy="1582.9" r="5.1"/>
<circle cx="159.8" cy="1599.4" r="5.1"/>
<circle cx="83.0" cy="1691.2" r="5.1"/>
<circle cx="117.9" cy="1642.7" r="5.1"/>
<circle cx="230.2" cy="1559.6" r="5.1"/>
<circle cx="86.8" cy="1666.7" r="5.1"/>
<circle cx="157.6" cy="1596.1" r="5.1"/>
<circle cx="181.8" cy="1452.7" r="5.1"/>
<circle cx="173.5" cy="1576.7" r="5.1"/>
<circle cx="114.2" cy="1642.6" r="5.1"/>
<circle cx="147.1" cy="1625.3" r="5.1"/>
<circle cx="166.1" cy="1565.9" r="5.1"/>
<circle cx="88.5" cy="1679.8" r="5.1"/>
<circle cx="97.2" cy="1682.9" r="5.1"/>
<circle cx="190.7" cy="1581.2" r="5.1"/>
<circle cx="110.3" cy="1655.0" r="5.1"/>
<circle cx="120.0" cy="1655.4" r="5.1"/>
<circle cx="109.7" cy="1679.4" r="5.1"/>
<circle cx="235.4" cy="1640.3" r="5.1"/>
<circle cx="168.5" cy="1569.4" r="5.1"/>
<circle cx="219.6" cy="1686.4" r="5.1"/>
<circle cx="227.1" cy="1549.7" r="5.1"/>
<circle cx="187.0" cy="1562.3" r="5.1"/>
<circle cx="175.2" cy="1629.7" r="5.1"/>
<circle cx="219.6" cy="1465.6" r="5.1"/>
<circle cx="188.0" cy="1673.7" r="5.1"/>
<circle cx="95.0" cy="1632.7" r="5.1"/>
<circle cx="102.1" cy="1693.9" r="5.1"/>
<circle cx="163.6" cy="1682.2" r="5.1"/>
<circle cx="164.6" cy="1254.0" r="5.1"/>
<circle cx="148.7" cy="1588.3" r="5.1"/>
<circle cx="150.5" cy="1658.9" r="5.1"/>
<circle cx="266.8" cy="1553.7" r="5.1"/>
<circle cx="135.6" cy="1566.8" r="5.1"/>
<circle cx="87.9" cy="1642.6" r="5.1"/>
<circle cx="201.2" cy="1635.3" r="5.1"/>
<circle cx="219.6" cy="1694.6" r="5.1"/>
<circle cx="157.1" cy="1601.2" r="5.1"/>
<circle cx="219.6" cy="1593.5" r="5.1"/>
<circle cx="89.9" cy="1658.0" r="5.1"/>
<circle cx="137.9" cy="1589.7" r="5.1"/>
<circle cx="173.4" cy="1529.6" r="5.1"/>
<circle cx="120.3" cy="1652.7" r="5.1"/>
<circle cx="186.4" cy="1653.1" r="5.1"/>
<circle cx="144.3" cy="1565.5" r="5.1"/>
<circle cx="126.2" cy="1662.9" r="5.1"/>
<circle cx="145.6" cy="1692.6" r="5.1"/>
<circle cx="122.7" cy="1689.6" r="5.1"/>
<circle cx="105.1" cy="1682.7" r="5.1"/>
<circle cx="174.6" cy="1597.5" r="5.1"/>
<circle cx="103.9" cy="1652.5" r="5.1"/>
<circle cx="244.6" cy="1411.8" r="5.1"/>
<circle cx="98.6" cy="1645.1" r="5.1"/>
<circle cx="87.3" cy="1596.1" r="5.1"/>
<circle cx="134.7" cy="1673.7" r="5.1"/>
<circle cx="227.1" cy="1656.3" r="5.1"/>
<circle cx="139.4" cy="1673.2" r="5.1"/>
<circle cx="176.3" cy="1564.5" r="5.1"/>
<circle cx="196.1" cy="1681.5" r="5.1"/>
<circle cx="127.2" cy="1688.5" r="5.1"/>
<circle cx="174.9" cy="1677.3" r="5.1"/>
<circle cx="228.5" cy="1351.0" r="5.1"/>
<circle cx="179.0" cy="1600.5" r="5.1"/>
<circle cx="142.0" cy="1589.5" r="5.1"/>
<circle cx="106.8" cy="1690.1" r="5.1"/>
<circle cx="142.5" cy="1675.0" r="5.1"/>
<circle cx="164.0" cy="1664.9" r="5.1"/>
<circle cx="266.8" cy="1621.9" r="5.1"/>
<circle cx="169.2" cy="1383.0" r="5.1"/>
<circle cx="259.7" cy="1615.8" r="5.1"/>
<circle cx="196.1" cy="1650.1" r="5.1"/>
<circle cx="94.9" cy="1677.1" r="5.1"/>
<circle cx="89.0" cy="1675.4" r="5.1"/>
<circle cx="159.2" cy="1527.6" r="5.1"/>
<circle cx="89.9" cy="1692.5" r="5.1"/>
<circle cx="196.1" cy="1572.4" r="5.1"/>
<circle cx="105.9" cy="1665.4" r="5.1"/>
<circle cx="219.6" cy="1502.8" r="5.1"/>
<circle cx="117.7" cy="1679.6" r="5.1"/>
<circle cx="180.4" cy="1631.9" r="5.1"/>
<circle cx="92.2" cy="1655.9" r="5.1"/>
<circle cx="101.9" cy="1691.2" r="5.1"/>
<circle cx="212.1" cy="1241.3" r="5.1"/>
<circle cx="143.9" cy="1616.3" r="5.1"/>
<circle cx="212.9" cy="1517.5" r="5.1"/>
<circle cx="195.8" cy="1682.8" r="5.1"/>
<circle cx="267.6" cy="1676.5" r="5.1"/>
<circle cx="227.1" cy="1560.7" r="5.1"/>
<circle cx="124.5" cy="1570.6" r="5.1"/>
<circle cx="128.8" cy="1683.7" r="5.1"/>
<circle cx="151.6" cy="1586.4" r="5.1"/>
<circle cx="123.8" cy="1659.0" r="5.1"/>
<circle cx="142.7" cy="1672.0" r="5.1"/>
<circle cx="170.5" cy="1557.8" r="5.1"/>
<circle cx="117.7" cy="1630.5" r="5.1"/>
<circle cx="166.9" cy="1693.8" r="5.1"/>
<circle cx="133.8" cy="1581.8" r="5.1"/>
<circle cx="98.5" cy="1653.6" r="5.1"/>
<circle cx="227.1" cy="1670.9" r="5.1"/>
<circle cx="114.4" cy="1479.6" r="5.1"/>
<circle cx="154.4" cy="1618.8" r="5.1"/>
<circle cx="131.6" cy="1602.7" r="5.1"/>
<circle cx="165.2" cy="1635.1" r="5.1"/>
<circle cx="179.1" cy="1555.8" r="5.1"/>
<circle cx="83.2" cy="1668.9" r="5.1"/>
<circle cx="116.5" cy="1650.1" r="5.1"/>
<circle cx="244.6" cy="1601.3" r="5.1"/>
<circle cx="190.3" cy="1609.0" r="5.1"/>
<circle cx="196.1" cy="1660.7" r="5.1"/>
<circle cx="185.1" cy="1428.2" r="5.1"/>
<circle cx="119.2" cy="1576.7" r="5.1"/>
<circle cx="112.5" cy="1618.9" r="5.1"/>
<circle cx="143.7" cy="1672.7" r="5.1"/>
<circle cx="93.7" cy="1685.3" r="5.1"/>
<circle cx="120.2" cy="1677.0" r="5.1"/>
<circle cx="213.8" cy="1586.4" r="5.1"/>
<circle cx="94.6" cy="1612.0" r="5.1"/>
<circle cx="196.1" cy="1691.7" r="5.1"/>
<circle cx="212.1" cy="1662.9" r="5.1"/>
<circle cx="169.9" cy="1448.9" r="5.1"/>
<circle cx="152.9" cy="1405.2" r="5.1"/>
<circle cx="255.0" cy="1516.4" r="5.1"/>
<circle cx="266.8" cy="1621.5" r="5.1"/>
<circle cx="167.2" cy="1301.3" r="5.1"/>
<circle cx="107.4" cy="1559.3" r="5.1"/>
<circle cx="171.8" cy="1638.1" r="5.1"/>
<circle cx="104.4" cy="1640.1" r="5.1"/>
<circle cx="174.5" cy="1409.1" r="5.1"/>
<circle cx="178.8" cy="1643.3" r="5.1"/>
<circle cx="98.3" cy="1647.4" r="5.1"/>
<circle cx="196.1" cy="1625.9" r="5.1"/>
<circle cx="154.1" cy="1488.5" r="5.1"/>
<circle cx="105.2" cy="1691.7" r="5.1"/>
<circle cx="121.4" cy="1564.2" r="5.1"/>
<circle cx="138.2" cy="1695.0" r="5.1"/>
<circle cx="235.4" cy="1601.8" r="5.1"/>
<circle cx="174.1" cy="1673.1" r="5.1"/>
<circle cx="94.6" cy="1584.1" r="5.1"/>
<circle cx="149.1" cy="1466.4" r="5.1"/>
<circle cx="219.6" cy="1631.7" r="5.1"/>
<circle cx="104.9" cy="1645.8" r="5.1"/>
<circle cx="227.1" cy="1387.4" r="5.1"/>
<circle cx="235.4" cy="1680.9" r="5.1"/>
<circle cx="139.6" cy="1653.5" r="5.1"/>
<circle cx="91.0" cy="1634.1" r="5.1"/>
<circle cx="219.6" cy="1524.1" r="5.1"/>
<circle cx="176.6" cy="1674.7" r="5.1"/>
<circle cx="226.5" cy="1585.5" r="5.1"/>
<circle cx="90.3" cy="1662.2" r="5.1"/>
<circle cx="112.7" cy="1672.9" r="5.1"/>
<circle cx="101.9" cy="1635.0" r="5.1"/>
<circle cx="224.0" cy="1627.0" r="5.1"/>
<circle cx="180.6" cy="1491.5" r="5.1"/>
<circle cx="244.6" cy="1491.7" r="5.1"/>
<circle cx="160.8" cy="1582.8" r="5.1"/>
<circle cx="106.3" cy="1612.5" r="5.1"/>
<circle cx="150.9" cy="1648.4" r="5.1"/>
<circle cx="106.6" cy="1624.9" r="5.1"/>
<circle cx="255.0" cy="1609.6" r="5.1"/>
<circle cx="106.4" cy="1644.2" r="5.1"/>
<circle cx="244.6" cy="1686.4" r="5.1"/>
<circle cx="97.6" cy="1693.0" r="5.1"/>
<circle cx="112.8" cy="1680.3" r="5.1"/>
<circle cx="178.1" cy="1457.7" r="5.1"/>
<circle cx="163.5" cy="1573.2" r="5.1"/>
<circle cx="164.8" cy="1546.6" r="5.1"/>
<circle cx="133.3" cy="1600.6" r="5.1"/>
<circle cx="87.0" cy="1673.5" r="5.1"/>
<circle cx="85.1" cy="1687.7" r="5.1"/>
<circle cx="133.5" cy="1605.4" r="5.1"/>
<circle cx="87.9" cy="1672.9" r="5.1"/>
<circle cx="113.0" cy="1573.5" r="5.1"/>
<circle cx="138.3" cy="1630.7" r="5.1"/>
<circle cx="89.5" cy="1638.7" r="5.1"/>
<circle cx="112.7" cy="1662.4" r="5.1"/>
<circle cx="151.8" cy="1362.7" r="5.1"/>
<circle cx="180.8" cy="1429.8" r="5.1"/>
<circle cx="196.1" cy="1675.8" r="5.1"/>
<circle cx="212.9" cy="1543.9" r="5.1"/>
<circle cx="100.9" cy="1685.1" r="5.1"/>
<circle cx="130.5" cy="1648.7" r="5.1"/>
<circle cx="164.5" cy="1587.3" r="5.1"/>
<circle cx="175.4" cy="1642.3" r="5.1"/>
<circle cx="196.1" cy="1659.2" r="5.1"/>
<circle cx="126.4" cy="1669.5" r="5.1"/>
<circle cx="266.6" cy="1584.9" r="5.1"/>
<circle cx="196.1" cy="1682.4" r="5.1"/>
<circle cx="137.4" cy="1667.2" r="5.1"/>
<circle cx="171.2" cy="1672.0" r="5.1"/>
<circle cx="153.5" cy="1678.2" r="5.1"/>
<circle cx="206.8" cy="1639.8" r="5.1"/>
<circle cx="110.5" cy="1653.5" r="5.1"/>
<circle cx="261.3" cy="1504.6" r="5.1"/>
<circle cx="252.0" cy="1634.7" r="5.1"/>
<circle cx="136.0" cy="1664.5" r="5.1"/>
<circle cx="144.8" cy="1653.2" r="5.1"/>
<circle cx="183.3" cy="1589.3" r="5.1"/>
<circle cx="127.1" cy="1675.2" r="5.1"/>
<circle cx="180.2" cy="1671.4" r="5.1"/>
<circle cx="124.3" cy="1610.4" r="5.1"/>
<circle cx="175.9" cy="1664.0" r="5.1"/>
<circle cx="102.4" cy="1677.8" r="5.1"/>
<circle cx="101.1" cy="1627.8" r="5.1"/>
<circle cx="212.9" cy="1559.4" r="5.1"/>
<circle cx="191.4" cy="1637.0" r="5.1"/>
<circle cx="96.0" cy="1629.5" r="5.1"/>
<circle cx="107.6" cy="1637.0" r="5.1"/>
<circle cx="107.7" cy="1677.9" r="5.1"/>
<circle cx="160.7" cy="1576.0" r="5.1"/>
<circle cx="156.4" cy="1586.6" r="5.1"/>
<circle cx="187.6" cy="1593.6" r="5.1"/>
<circle cx="125.5" cy="1607.4" r="5.1"/>
<circle cx="171.5" cy="1665.3" r="5.1"/>
<circle cx="159.4" cy="1653.4" r="5.1"/>
<circle cx="119.0" cy="1593.4" r="5.1"/>
<circle cx="165.4" cy="1599.7" r="5.1"/>
<circle cx="96.5" cy="1638.4" r="5.1"/>
<circle cx="129.2" cy="1689.9" r="5.1"/>
<circle cx="129.0" cy="1684.8" r="5.1"/>
<circle cx="110.0" cy="1689.4" r="5.1"/>
<circle cx="160.7" cy="1669.1" r="5.1"/>
<circle cx="227.1" cy="1444.3" r="5.1"/>
<circle cx="128.1" cy="1685.0" r="5.1"/>
<circle cx="251.2" cy="1325.6" r="5.1"/>
<circle cx="156.3" cy="1585.0" r="5.1"/>
<circle cx="126.2" cy="1659.3" r="5.1"/>
<circle cx="266.8" cy="1462.1" r="5.1"/>
<circle cx="112.9" cy="1419.7" r="5.1"/>
<circle cx="266.8" cy="1536.8" r="5.1"/>
<circle cx="237.0" cy="1661.2" r="5.1"/>
<circle cx="116.1" cy="1669.0" r="5.1"/>
<circle cx="266.8" cy="1388.1" r="5.1"/>
<circle cx="227.1" cy="1641.5" r="5.1"/>
<circle cx="206.8" cy="1625.5" r="5.1"/>
<circle cx="227.1" cy="1251.0" r="5.1"/>
<circle cx="101.7" cy="1690.2" r="5.1"/>
<circle cx="165.9" cy="1627.0" r="5.1"/>
<circle cx="110.2" cy="1647.3" r="5.1"/>
<circle cx="138.5" cy="1609.6" r="5.1"/>
<circle cx="165.5" cy="1464.6" r="5.1"/>
<circle cx="173.0" cy="1561.6" r="5.1"/>
<circle cx="102.9" cy="1484.9" r="5.1"/>
<circle cx="143.5" cy="1670.1" r="5.1"/>
<circle cx="145.8" cy="1669.7" r="5.1"/>
<circle cx="219.6" cy="1614.6" r="5.1"/>
<circle cx="167.3" cy="1519.3" r="5.1"/>
<circle cx="266.8" cy="1660.4" r="5.1"/>
<circle cx="91.6" cy="1664.8" r="5.1"/>
<circle cx="115.0" cy="1659.2" r="5.1"/>
<circle cx="125.3" cy="1676.8" r="5.1"/>
<circle cx="120.1" cy="1595.4" r="5.1"/>
<circle cx="153.6" cy="1514.8" r="5.1"/>
<circle cx="112.3" cy="1670.9" r="5.1"/>
<circle cx="261.2" cy="1377.1" r="5.1"/>
<circle cx="255.8" cy="1562.3" r="5.1"/>
<circle cx="227.1" cy="1608.3" r="5.1"/>
<circle cx="136.1" cy="1656.3" r="5.1"/>
<circle cx="170.0" cy="1625.8" r="5.1"/>
<circle cx="136.2" cy="1614.2" r="5.1"/>
<circle cx="125.6" cy="1496.0" r="5.1"/>
<circle cx="91.2" cy="1666.3" r="5.1"/>
<circle cx="266.8" cy="1359.5" r="5.1"/>
<circle cx="152.4" cy="1639.5" r="5.1"/>
<circle cx="124.6" cy="1619.3" r="5.1"/>
<circle cx="258.4" cy="1397.0" r="5.1"/>
<circle cx="132.8" cy="1593.7" r="5.1"/>
<circle cx="124.3" cy="1665.1" r="5.1"/>
<circle cx="122.0" cy="1665.4" r="5.1"/>
<circle cx="178.9" cy="1578.4" r="5.1"/>
<circle cx="104.1" cy="1648.2" r="5.1"/>
<circle cx="88.8" cy="1667.9" r="5.1"/>
<circle cx="206.8" cy="1655.3" r="5.1"/>
<circle cx="144.0" cy="1644.5" r="5.1"/>
<circle cx="227.1" cy="1601.3" r="5.1"/>
<circle cx="166.9" cy="1433.0" r="5.1"/>
<circle cx="206.8" cy="1647.0" r="5.1"/>
<circle cx="266.8" cy="1562.7" r="5.1"/>
<circle cx="251.8" cy="1553.9" r="5.1"/>
<circle cx="170.8" cy="1694.0" r="5.1"/>
<circle cx="244.6" cy="1467.8" r="5.1"/>
<circle cx="118.0" cy="1653.2" r="5.1"/>
<circle cx="127.1" cy="1649.8" r="5.1"/>
<circle cx="227.1" cy="1551.6" r="5.1"/>
<circle cx="95.4" cy="1547.3" r="5.1"/>
<circle cx="92.1" cy="1657.0" r="5.1"/>
<circle cx="180.4" cy="1676.1" r="5.1"/>
<circle cx="145.2" cy="1526.1" r="5.1"/>
<circle cx="135.6" cy="1478.5" r="5.1"/>
<circle cx="162.0" cy="1537.5" r="5.1"/>
<circle cx="244.6" cy="1225.8" r="5.1"/>
<circle cx="154.3" cy="1362.9" r="5.1"/>
<circle cx="104.4" cy="1674.8" r="5.1"/>
<circle cx="171.9" cy="1671.0" r="5.1"/>
<circle cx="255.0" cy="1368.4" r="5.1"/>
<circle cx="92.2" cy="1668.7" r="5.1"/>
<circle cx="147.1" cy="1469.1" r="5.1"/>
<circle cx="109.2" cy="1674.2" r="5.1"/>
<circle cx="155.3" cy="1535.1" r="5.1"/>
<circle cx="103.7" cy="1637.7" r="5.1"/>
<circle cx="153.6" cy="1643.5" r="5.1"/>
<circle cx="107.3" cy="1623.8" r="5.1"/>
<circle cx="205.8" cy="1539.6" r="5.1"/>
<circle cx="177.5" cy="1536.8" r="5.1"/>
<circle cx="94.0" cy="1598.7" r="5.1"/>
<circle cx="170.2" cy="1620.3" r="5.1"/>
<circle cx="199.1" cy="1479.4" r="5.1"/>
<circle cx="127.5" cy="1612.4" r="5.1"/>
<circle cx="109.5" cy="1636.8" r="5.1"/>
<circle cx="106.7" cy="1637.9" r="5.1"/>
<circle cx="230.6" cy="1696.3" r="5.1"/>
<circle cx="149.2" cy="1664.7" r="5.1"/>
<circle cx="113.7" cy="1673.5" r="5.1"/>
<circle cx="111.1" cy="1692.6" r="5.1"/>
<circle cx="147.1" cy="1682.7" r="5.1"/>
<circle cx="164.3" cy="1654.5" r="5.1"/>
<circle cx="112.8" cy="1673.6" r="5.1"/>
<circle cx="156.3" cy="1685.4" r="5.1"/>
<circle cx="87.0" cy="1656.4" r="5.1"/>
<circle cx="107.3" cy="1622.2" r="5.1"/>
<circle cx="244.8" cy="1594.6" r="5.1"/>
<circle cx="127.6" cy="1672.9" r="5.1"/>
<circle cx="255.0" cy="1687.5" r="5.1"/>
<circle cx="102.5" cy="1645.2" r="5.1"/>
<circle cx="123.7" cy="1696.3" r="5.1"/>
<circle cx="90.9" cy="1625.1" r="5.1"/>
<circle cx="128.4" cy="1678.4" r="5.1"/>
<circle cx="100.4" cy="1649.8" r="5.1"/>
<circle cx="156.5" cy="1623.8" r="5.1"/>
<circle cx="170.3" cy="1505.1" r="5.1"/>
<circle cx="224.1" cy="1644.7" r="5.1"/>
<circle cx="91.5" cy="1682.1" r="5.1"/>
<circle cx="119.6" cy="1628.6" r="5.1"/>
<circle cx="179.6" cy="1471.1" r="5.1"/>
<circle cx="266.8" cy="1576.1" r="5.1"/>
<circle cx="130.1" cy="1439.7" r="5.1"/>
<circle cx="149.7" cy="1433.5" r="5.1"/>
<circle cx="141.2" cy="1617.9" r="5.1"/>
<circle cx="124.4" cy="1639.2" r="5.1"/>
<circle cx="97.7" cy="1628.1" r="5.1"/>
<circle cx="91.2" cy="1676.0" r="5.1"/>
<circle cx="115.0" cy="1363.6" r="5.1"/>
<circle cx="152.4" cy="1684.1" r="5.1"/>
<circle cx="190.8" cy="1609.8" r="5.1"/>
<circle cx="148.6" cy="1496.6" r="5.1"/>
<circle cx="170.7" cy="1568.5" r="5.1"/>
<circle cx="111.5" cy="1610.9" r="5.1"/>
<circle cx="122.3" cy="1618.8" r="5.1"/>
<circle cx="190.2" cy="1435.5" r="5.1"/>
<circle cx="119.7" cy="1669.7" r="5.1"/>
<circle cx="129.1" cy="1680.2" r="5.1"/>
<circle cx="116.9" cy="1644.3" r="5.1"/>
<circle cx="206.8" cy="1573.3" r="5.1"/>
<circle cx="172.8" cy="1600.2" r="5.1"/>
<circle cx="147.0" cy="1662.5" r="5.1"/>
<circle cx="196.1" cy="1469.7" r="5.1"/>
<circle cx="241.1" cy="1560.3" r="5.1"/>
<circle cx="127.0" cy="1651.1" r="5.1"/>
<circle cx="177.9" cy="1628.9" r="5.1"/>
<circle cx="95.4" cy="1621.8" r="5.1"/>
<circle cx="136.3" cy="1647.0" r="5.1"/>
<circle cx="190.0" cy="1559.9" r="5.1"/>
<circle cx="132.8" cy="1632.7" r="5.1"/>
<circle cx="90.6" cy="1638.9" r="5.1"/>
<circle cx="158.6" cy="1393.7" r="5.1"/>
<circle cx="152.3" cy="1569.2" r="5.1"/>
<circle cx="212.9" cy="1368.9" r="5.1"/>
<circle cx="173.7" cy="1463.3" r="5.1"/>
<circle cx="173.6" cy="1684.5" r="5.1"/>
<circle cx="121.0" cy="1666.7" r="5.1"/>
<circle cx="166.4" cy="1668.0" r="5.1"/>
<circle cx="219.6" cy="1492.2" r="5.1"/>
<circle cx="134.5" cy="1549.5" r="5.1"/>
<circle cx="154.8" cy="1322.6" r="5.1"/>
<circle cx="133.8" cy="1625.0" r="5.1"/>
<circle cx="134.1" cy="1662.2" r="5.1"/>
<circle cx="160.2" cy="1520.0" r="5.1"/>
<circle cx="117.8" cy="1667.2" r="5.1"/>
<circle cx="99.4" cy="1648.8" r="5.1"/>
<circle cx="86.4" cy="1659.9" r="5.1"/>
<circle cx="96.5" cy="1629.0" r="5.1"/>
<circle cx="169.1" cy="1650.8" r="5.1"/>
<circle cx="140.4" cy="1600.6" r="5.1"/>
<circle cx="269.8" cy="1282.4" r="5.1"/>
<circle cx="141.7" cy="1264.8" r="5.1"/>
<circle cx="107.2" cy="1677.2" r="5.1"/>
<circle cx="107.5" cy="1679.3" r="5.1"/>
<circle cx="152.4" cy="1544.3" r="5.1"/>
<circle cx="103.5" cy="1403.0" r="5.1"/>
<circle cx="133.3" cy="1669.7" r="5.1"/>
<circle cx="103.2" cy="1667.7" r="5.1"/>
<circle cx="182.3" cy="1560.1" r="5.1"/>
<circle cx="101.4" cy="1685.0" r="5.1"/>
<circle cx="108.6" cy="1557.8" r="5.1"/>
<circle cx="144.0" cy="1636.2" r="5.1"/>
<circle cx="110.5" cy="1668.3" r="5.1"/>
<circle cx="243.6" cy="1533.0" r="5.1"/>
<circle cx="155.4" cy="1575.8" r="5.1"/>
<circle cx="147.8" cy="1590.0" r="5.1"/>
<circle cx="190.8" cy="1650.0" r="5.1"/>
<circle cx="125.5" cy="1681.1" r="5.1"/>
<circle cx="184.7" cy="1596.3" r="5.1"/>
<circle cx="99.7" cy="1678.5" r="5.1"/>
<circle cx="85.9" cy="1694.3" r="5.1"/>
<circle cx="212.9" cy="1203.2" r="5.1"/>
<circle cx="126.4" cy="1652.2" r="5.1"/>
<circle cx="205.4" cy="1356.9" r="5.1"/>
<circle cx="128.1" cy="1664.2" r="5.1"/>
<circle cx="168.9" cy="1348.7" r="5.1"/>
<circle cx="164.0" cy="1595.3" r="5.1"/>
<circle cx="254.0" cy="1425.2" r="5.1"/>
<circle cx="131.7" cy="1670.7" r="5.1"/>
<circle cx="235.4" cy="1650.3" r="5.1"/>
<circle cx="187.1" cy="1680.2" r="5.1"/>
<circle cx="92.4" cy="1623.6" r="5.1"/>
<circle cx="91.8" cy="1698.0" r="5.1"/>
<circle cx="139.0" cy="1542.8" r="5.1"/>
<circle cx="235.4" cy="1628.2" r="5.1"/>
<circle cx="191.2" cy="1455.3" r="5.1"/>
<circle cx="163.5" cy="1628.6" r="5.1"/>
<circle cx="112.2" cy="1665.0" r="5.1"/>
<circle cx="230.1" cy="1670.9" r="5.1"/>
<circle cx="95.1" cy="1676.3" r="5.1"/>
<circle cx="244.8" cy="1543.6" r="5.1"/>
<circle cx="193.5" cy="1609.3" r="5.1"/>
<circle cx="98.9" cy="1684.0" r="5.1"/>
<circle cx="156.5" cy="1665.3" r="5.1"/>
<circle cx="124.5" cy="1623.6" r="5.1"/>
<circle cx="98.6" cy="1538.1" r="5.1"/>
<circle cx="130.4" cy="1618.5" r="5.1"/>
<circle cx="172.1" cy="1665.2" r="5.1"/>
<circle cx="99.6" cy="1643.2" r="5.1"/>
<circle cx="165.3" cy="1406.5" r="5.1"/>
<circle cx="212.9" cy="1493.5" r="5.1"/>
<circle cx="92.0" cy="1625.4" r="5.1"/>
<circle cx="159.3" cy="1576.1" r="5.1"/>
<circle cx="109.8" cy="1308.0" r="5.1"/>
<circle cx="106.7" cy="1538.4" r="5.1"/>
<circle cx="186.0" cy="1473.0" r="5.1"/>
<circle cx="165.3" cy="1525.0" r="5.1"/>
<circle cx="227.1" cy="1535.0" r="5.1"/>
<circle cx="164.1" cy="1198.6" r="5.1"/>
<circle cx="175.6" cy="1271.7" r="5.1"/>
<circle cx="101.9" cy="1547.5" r="5.1"/>
<circle cx="157.7" cy="1668.4" r="5.1"/>
<circle cx="118.6" cy="1562.0" r="5.1"/>
<circle cx="136.1" cy="1681.4" r="5.1"/>
<circle cx="82.3" cy="1701.7" r="5.1"/>
<circle cx="227.1" cy="1663.9" r="5.1"/>
<circle cx="134.8" cy="1671.0" r="5.1"/>
<circle cx="227.1" cy="1597.8" r="5.1"/>
<circle cx="114.9" cy="1489.2" r="5.1"/>
<circle cx="127.6" cy="1645.5" r="5.1"/>
<circle cx="160.8" cy="1683.7" r="5.1"/>
<circle cx="173.3" cy="1460.2" r="5.1"/>
<circle cx="127.3" cy="1577.2" r="5.1"/>
<circle cx="157.4" cy="1635.5" r="5.1"/>
<circle cx="230.7" cy="1310.3" r="5.1"/>
<circle cx="196.1" cy="1493.0" r="5.1"/>
<circle cx="114.3" cy="1625.2" r="5.1"/>
<circle cx="135.0" cy="1628.0" r="5.1"/>
<circle cx="157.2" cy="1594.6" r="5.1"/>
<circle cx="110.5" cy="1688.5" r="5.1"/>
<circle cx="135.3" cy="1638.8" r="5.1"/>
<circle cx="109.8" cy="1655.7" r="5.1"/>
<circle cx="235.5" cy="1387.3" r="5.1"/>
<circle cx="136.7" cy="1660.4" r="5.1"/>
<circle cx="196.1" cy="1317.7" r="5.1"/>
<circle cx="153.1" cy="1484.0" r="5.1"/>
<circle cx="108.6" cy="1598.1" r="5.1"/>
<circle cx="102.6" cy="1668.3" r="5.1"/>
<circle cx="189.4" cy="1499.0" r="5.1"/>
<circle cx="262.0" cy="1605.9" r="5.1"/>
<circle cx="177.5" cy="1426.8" r="5.1"/>
<circle cx="128.4" cy="1615.4" r="5.1"/>
<circle cx="218.6" cy="1545.2" r="5.1"/>
<circle cx="168.7" cy="1668.0" r="5.1"/>
<circle cx="114.6" cy="1636.6" r="5.1"/>
<circle cx="120.4" cy="1624.2" r="5.1"/>
<circle cx="85.4" cy="1659.7" r="5.1"/>
<circle cx="207.7" cy="1636.3" r="5.1"/>
<circle cx="242.2" cy="1650.8" r="5.1"/>
<circle cx="236.3" cy="1599.6" r="5.1"/>
<circle cx="122.5" cy="1575.9" r="5.1"/>
<circle cx="92.2" cy="1676.1" r="5.1"/>
<circle cx="101.3" cy="1687.8" r="5.1"/>
<circle cx="141.3" cy="1590.1" r="5.1"/>
<circle cx="244.6" cy="1668.8" r="5.1"/>
<circle cx="124.3" cy="1645.2" r="5.1"/>
<circle cx="85.2" cy="1683.5" r="5.1"/>
<circle cx="159.8" cy="1657.5" r="5.1"/>
<circle cx="136.8" cy="1677.9" r="5.1"/>
<circle cx="114.2" cy="1556.7" r="5.1"/>
<circle cx="106.4" cy="1563.6" r="5.1"/>
<circle cx="101.4" cy="1580.5" r="5.1"/>
<circle cx="166.8" cy="1546.3" r="5.1"/>
<circle cx="160.5" cy="1568.4" r="5.1"/>
<circle cx="255.0" cy="1635.5" r="5.1"/>
<circle cx="138.7" cy="1623.4" r="5.1"/>
<circle cx="219.6" cy="1419.4" r="5.1"/>
<circle cx="159.2" cy="1324.1" r="5.1"/>
<circle cx="112.1" cy="1479.9" r="5.1"/>
<circle cx="102.9" cy="1613.6" r="5.1"/>
<circle cx="186.7" cy="1681.4" r="5.1"/>
<circle cx="187.6" cy="1660.7" r="5.1"/>
<circle cx="481.7" cy="1227.2" r="5.1"/>
<circle cx="479.4" cy="1266.0" r="5.1"/>
<circle cx="533.5" cy="1286.8" r="5.1"/>
<circle cx="481.7" cy="1309.9" r="5.1"/>
<circle cx="666.5" cy="1317.9" r="5.1"/>
<circle cx="641.8" cy="1328.2" r="5.1"/>
<circle cx="641.8" cy="1338.7" r="5.1"/>
<circle cx="762.2" cy="1367.3" r="5.1"/>
<circle cx="828.8" cy="1379.8" r="5.1"/>
<circle cx="474.2" cy="1377.6" r="5.1"/>
<circle cx="481.7" cy="1383.1" r="5.1"/>
<circle cx="494.1" cy="1385.3" r="5.1"/>
<circle cx="548.3" cy="1406.2" r="5.1"/>
<circle cx="632.1" cy="1406.2" r="5.1"/>
<circle cx="784.4" cy="1437.2" r="5.1"/>
<circle cx="641.8" cy="1449.7" r="5.1"/>
<circle cx="548.3" cy="1452.8" r="5.1"/>
<circle cx="548.3" cy="1468.6" r="5.1"/>
<circle cx="481.7" cy="1486.0" r="5.1"/>
<circle cx="487.2" cy="1491.6" r="5.1"/>
<circle cx="481.7" cy="1494.3" r="5.1"/>
<circle cx="506.6" cy="1494.3" r="5.1"/>
<circle cx="533.5" cy="1496.8" r="5.1"/>
<circle cx="548.5" cy="1494.3" r="5.1"/>
<circle cx="715.6" cy="1494.3" r="5.1"/>
<circle cx="784.4" cy="1499.6" r="5.1"/>
<circle cx="609.9" cy="1502.1" r="5.1"/>
<circle cx="472.8" cy="1509.9" r="5.1"/>
<circle cx="481.7" cy="1536.0" r="5.1"/>
<circle cx="506.6" cy="1536.0" r="5.1"/>
<circle cx="641.8" cy="1541.0" r="5.1"/>
<circle cx="654.3" cy="1541.0" r="5.1"/>
<circle cx="526.3" cy="1551.5" r="5.1"/>
<circle cx="548.5" cy="1572.0" r="5.1"/>
<circle cx="518.8" cy="1579.8" r="5.1"/>
<circle cx="649.3" cy="1582.9" r="5.1"/>
<circle cx="614.6" cy="1605.9" r="5.1"/>
<circle cx="506.6" cy="1618.7" r="5.1"/>
<circle cx="476.9" cy="1624.2" r="5.1"/>
<circle cx="540.8" cy="1634.2" r="5.1"/>
<circle cx="594.9" cy="1634.2" r="5.1"/>
<circle cx="607.4" cy="1645.0" r="5.1"/>
<circle cx="548.5" cy="1650.0" r="5.1"/>
<circle cx="599.9" cy="1663.0" r="5.1"/>
<circle cx="280.3" cy="1492.7" r="5.1"/>
<circle cx="299.7" cy="1465.5" r="5.1"/>
<circle cx="327.5" cy="1458.0" r="5.1"/>
<circle cx="331.6" cy="1465.8" r="5.1"/>
<circle cx="346.9" cy="1465.8" r="5.1"/>
<circle cx="346.9" cy="1476.1" r="5.1"/>
<circle cx="314.4" cy="1478.8" r="5.1"/>
<circle cx="314.4" cy="1484.4" r="5.1"/>
<circle cx="294.7" cy="1481.6" r="5.1"/>
<circle cx="369.1" cy="1486.3" r="5.1"/>
<circle cx="334.4" cy="1489.4" r="5.1"/>
<circle cx="334.4" cy="1496.9" r="5.1"/>
<circle cx="337.2" cy="1506.6" r="5.1"/>
<circle cx="388.5" cy="1499.7" r="5.1"/>
<circle cx="403.2" cy="1504.7" r="5.1"/>
<circle cx="314.4" cy="1509.4" r="5.1"/>
<circle cx="321.9" cy="1509.4" r="5.1"/>
<circle cx="280.3" cy="1514.9" r="5.1"/>
<circle cx="290.0" cy="1514.9" r="5.1"/>
<circle cx="321.9" cy="1517.7" r="5.1"/>
<circle cx="334.4" cy="1517.7" r="5.1"/>
<circle cx="360.8" cy="1517.1" r="5.1"/>
<circle cx="371.3" cy="1512.7" r="5.1"/>
<circle cx="371.3" cy="1519.1" r="5.1"/>
<circle cx="339.9" cy="1525.5" r="5.1"/>
<circle cx="353.8" cy="1525.5" r="5.1"/>
<circle cx="314.4" cy="1524.6" r="5.1"/>
<circle cx="314.4" cy="1533.0" r="5.1"/>
<circle cx="334.4" cy="1535.7" r="5.1"/>
<circle cx="291.9" cy="1535.7" r="5.1"/>
<circle cx="413.5" cy="1524.6" r="5.1"/>
<circle cx="428.2" cy="1530.2" r="5.1"/>
<circle cx="471.8" cy="1509.4" r="5.1"/>
<circle cx="480.1" cy="1485.8" r="5.1"/>
<circle cx="480.1" cy="1494.1" r="5.1"/>
<circle cx="480.1" cy="1535.7" r="5.1"/>
<circle cx="324.1" cy="1546.0" r="5.1"/>
<circle cx="324.1" cy="1549.6" r="5.1"/>
<circle cx="450.1" cy="1543.5" r="5.1"/>
<circle cx="430.1" cy="1551.6" r="5.1"/>
<circle cx="314.4" cy="1556.5" r="5.1"/>
<circle cx="391.3" cy="1561.3" r="5.1"/>
<circle cx="435.7" cy="1561.3" r="5.1"/>
<circle cx="467.6" cy="1561.3" r="5.1"/>
<circle cx="314.4" cy="1577.4" r="5.1"/>
<circle cx="341.3" cy="1584.9" r="5.1"/>
<circle cx="360.8" cy="1582.4" r="5.1"/>
<circle cx="406.0" cy="1576.8" r="5.1"/>
<circle cx="450.1" cy="1582.4" r="5.1"/>
<circle cx="455.1" cy="1590.7" r="5.1"/>
<circle cx="464.8" cy="1592.6" r="5.1"/>
<circle cx="459.8" cy="1598.7" r="5.1"/>
<circle cx="329.4" cy="1592.6" r="5.1"/>
<circle cx="360.8" cy="1595.4" r="5.1"/>
<circle cx="317.2" cy="1605.9" r="5.1"/>
<circle cx="403.8" cy="1605.9" r="5.1"/>
<circle cx="391.3" cy="1616.2" r="5.1"/>
<circle cx="417.6" cy="1621.8" r="5.1"/>
<circle cx="319.7" cy="1621.8" r="5.1"/>
<circle cx="341.3" cy="1623.7" r="5.1"/>
<circle cx="476.7" cy="1623.7" r="5.1"/>
<circle cx="358.8" cy="1641.7" r="5.1"/>
<circle cx="378.8" cy="1644.8" r="5.1"/>
<circle cx="428.2" cy="1647.0" r="5.1"/>
<circle cx="280.3" cy="1642.0" r="5.1"/>
<circle cx="314.4" cy="1655.1" r="5.1"/>
<circle cx="327.5" cy="1655.1" r="5.1"/>
<circle cx="415.4" cy="1660.6" r="5.1"/>
<circle cx="360.8" cy="1662.6" r="5.1"/>
<circle cx="312.2" cy="1668.1" r="5.1"/>
<circle cx="324.1" cy="1670.3" r="5.1"/>
<circle cx="334.4" cy="1670.3" r="5.1"/>
<circle cx="344.1" cy="1668.1" r="5.1"/>
<circle cx="351.0" cy="1673.1" r="5.1"/>
<circle cx="360.8" cy="1670.3" r="5.1"/>
<circle cx="366.3" cy="1675.9" r="5.1"/>
<circle cx="360.8" cy="1678.1" r="5.1"/>
<circle cx="369.1" cy="1684.2" r="5.1"/>
<circle cx="331.6" cy="1686.1" r="5.1"/>
<circle cx="351.0" cy="1686.1" r="5.1"/>
<circle cx="280.3" cy="1699.5" r="5.1"/>
<circle cx="280.3" cy="1689.2" r="5.1"/>
<circle cx="285.0" cy="1686.1" r="5.1"/>
<circle cx="295.0" cy="1688.9" r="5.1"/>
<circle cx="295.0" cy="1263.2" r="5.1"/>
<circle cx="272.8" cy="1250.5" r="5.1"/>
<circle cx="391.0" cy="1258.2" r="5.1"/>
<circle cx="415.4" cy="1222.2" r="5.1"/>
<circle cx="480.1" cy="1227.1" r="5.1"/>
<circle cx="478.7" cy="1266.0" r="5.1"/>
<circle cx="386.0" cy="1281.5" r="5.1"/>
<circle cx="427.9" cy="1294.3" r="5.1"/>
<circle cx="478.7" cy="1310.1" r="5.1"/>
<circle cx="344.1" cy="1317.6" r="5.1"/>
<circle cx="386.0" cy="1317.6" r="5.1"/>
<circle cx="371.3" cy="1327.9" r="5.1"/>
<circle cx="290.0" cy="1325.4" r="5.1"/>
<circle cx="324.7" cy="1354.2" r="5.1"/>
<circle cx="351.6" cy="1351.5" r="5.1"/>
<circle cx="280.3" cy="1372.0" r="5.1"/>
<circle cx="319.7" cy="1387.8" r="5.1"/>
<circle cx="349.1" cy="1390.3" r="5.1"/>
<circle cx="366.3" cy="1380.0" r="5.1"/>
<circle cx="381.0" cy="1387.8" r="5.1"/>
<circle cx="361.3" cy="1398.4" r="5.1"/>
<circle cx="371.3" cy="1403.1" r="5.1"/>
<circle cx="302.5" cy="1400.6" r="5.1"/>
<circle cx="282.5" cy="1403.1" r="5.1"/>
<circle cx="474.5" cy="1377.5" r="5.1"/>
<circle cx="480.1" cy="1383.1" r="5.1"/>
<circle cx="430.1" cy="1403.1" r="5.1"/>
<circle cx="440.4" cy="1400.6" r="5.1"/>
<circle cx="295.0" cy="1424.2" r="5.1"/>
<circle cx="415.4" cy="1426.7" r="5.1"/>
<circle cx="277.8" cy="1434.4" r="5.1"/>
<circle cx="280.3" cy="1437.2" r="5.1"/>
<circle cx="398.5" cy="1444.7" r="5.1"/>
</g>
<rect x="78.30" y="1193.50" width="847.50" height="515.10" fill="none" stroke="#000" stroke-width="1.70"/>
<line x1="78.30" y1="1624.50" x2="98.80" y2="1624.50" stroke="#000" stroke-width="1.40" stroke-linecap="butt"/>
<line x1="78.30" y1="1539.20" x2="98.80" y2="1539.20" stroke="#000" stroke-width="1.40" stroke-linecap="butt"/>
<line x1="78.30" y1="1452.00" x2="98.80" y2="1452.00" stroke="#000" stroke-width="1.40" stroke-linecap="butt"/>
<line x1="78.30" y1="1366.80" x2="98.80" y2="1366.80" stroke="#000" stroke-width="1.40" stroke-linecap="butt"/>
<line x1="78.30" y1="1279.40" x2="98.80" y2="1279.40" stroke="#000" stroke-width="1.40" stroke-linecap="butt"/>
<line x1="362.20" y1="1688.10" x2="362.20" y2="1708.60" stroke="#000" stroke-width="1.40" stroke-linecap="butt"/>
<line x1="642.60" y1="1688.10" x2="642.60" y2="1708.60" stroke="#000" stroke-width="1.40" stroke-linecap="butt"/>
<rect x="711.75" y="1247.75" width="26.50" height="26.50" fill="#AB7C51" stroke="#231f20" stroke-width="1.00"/>
<rect x="619.35" y="1277.65" width="26.50" height="26.50" fill="#000" stroke="#231f20" stroke-width="1.00"/>
<clipPath id="cem"><rect x="79.0" y="1193.5" width="847.5" height="514.4"/></clipPath>
<g clip-path="url(#cem)">
<polygon points="118.00,1668.00 130.25,1692.00 105.75,1692.00" fill="#A698C6" stroke="#111" stroke-width="1.10" stroke-linejoin="miter"/>
<polygon points="112.00,1662.00 124.25,1690.00 99.75,1690.00" fill="#A698C6" stroke="#111" stroke-width="1.10" stroke-linejoin="miter"/>
<polygon points="137.00,1651.00 149.25,1678.00 124.75,1678.00" fill="#A698C6" stroke="#111" stroke-width="1.10" stroke-linejoin="miter"/>
<rect x="80.30" y="1651.20" width="26.00" height="26.00" fill="#F15A2D" stroke="#231f20" stroke-width="1.00"/>
<polygon points="115.20,1624.50 127.95,1653.00 102.45,1653.00" fill="#A698C6" stroke="#111" stroke-width="1.10" stroke-linejoin="miter"/>
<polygon points="115.50,1631.40 128.25,1660.60 102.75,1660.60" fill="#A698C6" stroke="#111" stroke-width="1.10" stroke-linejoin="miter"/>
<rect x="78.85" y="1636.25" width="23.50" height="23.50" fill="#C1272D" stroke="#231f20" stroke-width="1.00"/>
<polygon points="96.00,1682.00 110.25,1708.00 81.75,1708.00" fill="#8ED8F6" stroke="#111" stroke-width="1.10" stroke-linejoin="miter"/>
<polygon points="112.00,1673.00 124.25,1698.00 99.75,1698.00" fill="#8ED8F6" stroke="#111" stroke-width="1.10" stroke-linejoin="miter"/>
<polygon points="108.00,1675.00 120.25,1699.00 95.75,1699.00" fill="#8ED8F6" stroke="#111" stroke-width="1.10" stroke-linejoin="miter"/>
<polygon points="102.10,1673.00 114.35,1697.00 89.85,1697.00" fill="#8ED8F6" stroke="#111" stroke-width="1.10" stroke-linejoin="miter"/>
<polygon points="129.40,1649.00 141.65,1674.00 117.15,1674.00" fill="#8ED8F6" stroke="#111" stroke-width="1.10" stroke-linejoin="miter"/>
<polygon points="129.40,1655.50 141.65,1682.00 117.15,1682.00" fill="#8ED8F6" stroke="#111" stroke-width="1.10" stroke-linejoin="miter"/>
</g>
<text transform="translate(525.50 1232.70) scale(0.9150 1)" font-size="22.20" text-anchor="start" fill="#000">Fresh/altered oceanic crust</text>
<line x1="783.30" y1="1204.70" x2="783.30" y2="1347.40" stroke="#000" stroke-width="1.40" stroke-linecap="butt"/>
<polygon points="783.30,1355.40 776.30,1342.40 783.30,1346.40 790.30,1342.40" fill="#000"/>
<polygon points="783.30,1196.70 790.30,1209.70 783.30,1205.70 776.30,1209.70" fill="#000"/>
<line x1="757.40" y1="1388.00" x2="605.92" y2="1483.21" stroke="#000" stroke-width="1.40" stroke-linecap="butt"/>
<polygon points="598.30,1488.00 606.43,1474.62 606.77,1482.68 613.88,1486.48" fill="#000"/>
<text transform="translate(696.50 1454.50) rotate(-31.60) scale(0.9150 1)" font-size="22.20" text-anchor="middle" fill="#000">HP Metasomatism</text>
<text transform="translate(709.60 1633.90) scale(0.9100 1)" font-size="22.20" text-anchor="middle" fill="#000">n = 852</text>
<line x1="702.50" y1="1611.70" x2="664.17" y2="1588.12" stroke="#000" stroke-width="1.40" stroke-linecap="butt"/>
<polygon points="656.50,1583.40 672.09,1584.77 665.02,1588.64 664.76,1596.70" fill="#000"/>
<text transform="translate(50.00 1715.60) scale(0.8200 1)" font-size="24.00" text-anchor="middle" fill="#000">0</text>
<text transform="translate(50.00 1631.50) scale(0.8200 1)" font-size="24.00" text-anchor="middle" fill="#000">5</text>
<text transform="translate(50.00 1546.20) scale(0.8200 1)" font-size="24.00" text-anchor="middle" fill="#000">10</text>
<text transform="translate(50.00 1459.00) scale(0.8200 1)" font-size="24.00" text-anchor="middle" fill="#000">15</text>
<text transform="translate(50.00 1373.80) scale(0.8200 1)" font-size="24.00" text-anchor="middle" fill="#000">20</text>
<text transform="translate(50.00 1286.40) scale(0.8200 1)" font-size="24.00" text-anchor="middle" fill="#000">25</text>
<text transform="translate(50.00 1200.50) scale(0.8200 1)" font-size="24.00" text-anchor="middle" fill="#000">30</text>
<text transform="translate(78.30 1735.60) scale(0.8200 1)" font-size="24.00" text-anchor="middle" fill="#000">0</text>
<text transform="translate(362.20 1735.60) scale(0.8200 1)" font-size="24.00" text-anchor="middle" fill="#000">1</text>
<text transform="translate(642.60 1735.60) scale(0.8200 1)" font-size="24.00" text-anchor="middle" fill="#000">2</text>
<text transform="translate(925.80 1735.60) scale(0.8200 1)" font-size="24.00" text-anchor="middle" fill="#000">3</text>
<text transform="translate(23.90 1452.70) rotate(-90.00) scale(1.0300 1)" font-size="28.50" text-anchor="middle" font-weight="bold" fill="#000">Ce/Pb</text>
<text transform="translate(502.20 1764.30) scale(0.9800 1)" font-size="28.50" text-anchor="middle" font-weight="bold" fill="#000">1/Pb</text>
<text transform="translate(868.70 1223.70) scale(0.8400 1)" font-size="32.50" text-anchor="start" font-weight="bold" fill="#000">(e)</text>
<clipPath id="cf"><rect x="1029.4" y="1193.5" width="848.5" height="515.0"/></clipPath>
<g clip-path="url(#cf)" fill="#A7A9AC" stroke="#5d5e60" stroke-width="0.9">
<circle cx="1067.9" cy="1400.5" r="5.1"/>
<circle cx="1054.6" cy="1444.2" r="5.1"/>
<circle cx="1048.4" cy="1440.6" r="5.1"/>
<circle cx="1043.3" cy="1575.8" r="5.1"/>
<circle cx="1065.4" cy="1617.1" r="5.1"/>
<circle cx="1096.5" cy="1442.2" r="5.1"/>
<circle cx="1054.9" cy="1447.2" r="5.1"/>
<circle cx="1049.4" cy="1431.2" r="5.1"/>
<circle cx="1055.3" cy="1392.0" r="5.1"/>
<circle cx="1055.0" cy="1458.1" r="5.1"/>
<circle cx="1042.8" cy="1509.5" r="5.1"/>
<circle cx="1047.5" cy="1572.9" r="5.1"/>
<circle cx="1048.7" cy="1583.0" r="5.1"/>
<circle cx="1040.8" cy="1614.7" r="5.1"/>
<circle cx="1067.5" cy="1677.8" r="5.1"/>
<circle cx="1074.7" cy="1479.8" r="5.1"/>
<circle cx="1073.0" cy="1545.3" r="5.1"/>
<circle cx="1034.3" cy="1285.8" r="5.1"/>
<circle cx="1069.6" cy="1582.9" r="5.1"/>
<circle cx="1039.5" cy="1562.2" r="5.1"/>
<circle cx="1064.1" cy="1350.4" r="5.1"/>
<circle cx="1070.3" cy="1382.9" r="5.1"/>
<circle cx="1040.3" cy="1421.4" r="5.1"/>
<circle cx="1038.9" cy="1443.5" r="5.1"/>
<circle cx="1060.6" cy="1489.6" r="5.1"/>
<circle cx="1053.9" cy="1622.6" r="5.1"/>
<circle cx="1057.6" cy="1317.1" r="5.1"/>
<circle cx="1052.0" cy="1514.7" r="5.1"/>
<circle cx="1045.1" cy="1492.5" r="5.1"/>
<circle cx="1039.7" cy="1443.4" r="5.1"/>
<circle cx="1072.2" cy="1463.6" r="5.1"/>
<circle cx="1061.3" cy="1554.5" r="5.1"/>
<circle cx="1041.3" cy="1499.1" r="5.1"/>
<circle cx="1046.3" cy="1341.9" r="5.1"/>
<circle cx="1063.7" cy="1540.2" r="5.1"/>
<circle cx="1060.8" cy="1573.0" r="5.1"/>
<circle cx="1070.3" cy="1597.5" r="5.1"/>
<circle cx="1074.9" cy="1621.1" r="5.1"/>
<circle cx="1060.2" cy="1518.2" r="5.1"/>
<circle cx="1053.4" cy="1467.7" r="5.1"/>
<circle cx="1054.2" cy="1599.3" r="5.1"/>
<circle cx="1038.5" cy="1466.5" r="5.1"/>
<circle cx="1033.2" cy="1578.8" r="5.1"/>
<circle cx="1051.8" cy="1491.0" r="5.1"/>
<circle cx="1062.6" cy="1446.2" r="5.1"/>
<circle cx="1056.8" cy="1579.8" r="5.1"/>
<circle cx="1057.9" cy="1509.3" r="5.1"/>
<circle cx="1058.1" cy="1565.3" r="5.1"/>
<circle cx="1104.0" cy="1525.6" r="5.1"/>
<circle cx="1090.6" cy="1543.5" r="5.1"/>
<circle cx="1080.9" cy="1515.4" r="5.1"/>
<circle cx="1039.3" cy="1274.9" r="5.1"/>
<circle cx="1040.5" cy="1493.0" r="5.1"/>
<circle cx="1046.6" cy="1578.2" r="5.1"/>
<circle cx="1072.0" cy="1498.1" r="5.1"/>
<circle cx="1042.1" cy="1418.1" r="5.1"/>
<circle cx="1036.8" cy="1492.7" r="5.1"/>
<circle cx="1045.7" cy="1449.3" r="5.1"/>
<circle cx="1046.0" cy="1615.5" r="5.1"/>
<circle cx="1050.3" cy="1450.3" r="5.1"/>
<circle cx="1043.3" cy="1443.5" r="5.1"/>
<circle cx="1047.3" cy="1492.1" r="5.1"/>
<circle cx="1090.2" cy="1659.4" r="5.1"/>
<circle cx="1045.5" cy="1494.5" r="5.1"/>
<circle cx="1098.1" cy="1489.8" r="5.1"/>
<circle cx="1037.2" cy="1540.7" r="5.1"/>
<circle cx="1055.4" cy="1510.1" r="5.1"/>
<circle cx="1035.3" cy="1440.4" r="5.1"/>
<circle cx="1051.7" cy="1533.7" r="5.1"/>
<circle cx="1036.3" cy="1516.7" r="5.1"/>
<circle cx="1061.4" cy="1629.3" r="5.1"/>
<circle cx="1032.2" cy="1426.7" r="5.1"/>
<circle cx="1037.7" cy="1586.3" r="5.1"/>
<circle cx="1054.5" cy="1337.0" r="5.1"/>
<circle cx="1037.1" cy="1602.8" r="5.1"/>
<circle cx="1051.4" cy="1681.4" r="5.1"/>
<circle cx="1047.9" cy="1326.3" r="5.1"/>
<circle cx="1098.4" cy="1419.0" r="5.1"/>
<circle cx="1049.1" cy="1556.4" r="5.1"/>
<circle cx="1036.0" cy="1432.7" r="5.1"/>
<circle cx="1044.3" cy="1630.3" r="5.1"/>
<circle cx="1035.7" cy="1532.6" r="5.1"/>
<circle cx="1046.6" cy="1581.0" r="5.1"/>
<circle cx="1069.4" cy="1609.6" r="5.1"/>
<circle cx="1097.8" cy="1541.4" r="5.1"/>
<circle cx="1046.7" cy="1441.2" r="5.1"/>
<circle cx="1077.1" cy="1406.4" r="5.1"/>
<circle cx="1044.7" cy="1384.2" r="5.1"/>
<circle cx="1053.9" cy="1427.3" r="5.1"/>
<circle cx="1051.3" cy="1616.9" r="5.1"/>
<circle cx="1037.3" cy="1305.7" r="5.1"/>
<circle cx="1097.3" cy="1458.9" r="5.1"/>
<circle cx="1053.2" cy="1544.9" r="5.1"/>
<circle cx="1067.3" cy="1581.8" r="5.1"/>
<circle cx="1069.7" cy="1629.2" r="5.1"/>
<circle cx="1063.3" cy="1589.9" r="5.1"/>
<circle cx="1039.2" cy="1603.7" r="5.1"/>
<circle cx="1042.0" cy="1287.7" r="5.1"/>
<circle cx="1044.2" cy="1495.7" r="5.1"/>
<circle cx="1043.7" cy="1622.1" r="5.1"/>
<circle cx="1056.5" cy="1414.5" r="5.1"/>
<circle cx="1034.5" cy="1363.4" r="5.1"/>
<circle cx="1047.0" cy="1469.2" r="5.1"/>
<circle cx="1042.2" cy="1660.8" r="5.1"/>
<circle cx="1056.6" cy="1519.3" r="5.1"/>
<circle cx="1037.0" cy="1338.0" r="5.1"/>
<circle cx="1043.6" cy="1560.8" r="5.1"/>
<circle cx="1035.2" cy="1422.6" r="5.1"/>
<circle cx="1038.3" cy="1528.6" r="5.1"/>
<circle cx="1070.5" cy="1542.3" r="5.1"/>
<circle cx="1070.4" cy="1562.1" r="5.1"/>
<circle cx="1052.9" cy="1555.4" r="5.1"/>
<circle cx="1041.4" cy="1523.8" r="5.1"/>
<circle cx="1061.5" cy="1467.3" r="5.1"/>
<circle cx="1072.3" cy="1587.4" r="5.1"/>
<circle cx="1045.1" cy="1498.6" r="5.1"/>
<circle cx="1067.9" cy="1493.7" r="5.1"/>
<circle cx="1083.9" cy="1435.3" r="5.1"/>
<circle cx="1053.6" cy="1483.2" r="5.1"/>
<circle cx="1050.1" cy="1657.6" r="5.1"/>
<circle cx="1050.4" cy="1588.7" r="5.1"/>
<circle cx="1037.1" cy="1389.9" r="5.1"/>
<circle cx="1062.4" cy="1632.4" r="5.1"/>
<circle cx="1033.6" cy="1197.4" r="5.1"/>
<circle cx="1046.3" cy="1460.2" r="5.1"/>
<circle cx="1076.2" cy="1554.2" r="5.1"/>
<circle cx="1082.4" cy="1426.8" r="5.1"/>
<circle cx="1054.6" cy="1317.9" r="5.1"/>
<circle cx="1046.7" cy="1623.6" r="5.1"/>
<circle cx="1033.9" cy="1390.5" r="5.1"/>
<circle cx="1102.0" cy="1606.2" r="5.1"/>
<circle cx="1088.3" cy="1577.8" r="5.1"/>
<circle cx="1038.4" cy="1519.5" r="5.1"/>
<circle cx="1038.2" cy="1367.4" r="5.1"/>
<circle cx="1045.6" cy="1522.4" r="5.1"/>
<circle cx="1100.6" cy="1608.3" r="5.1"/>
<circle cx="1031.8" cy="1373.3" r="5.1"/>
<circle cx="1033.7" cy="1507.6" r="5.1"/>
<circle cx="1051.2" cy="1555.9" r="5.1"/>
<circle cx="1035.1" cy="1441.2" r="5.1"/>
<circle cx="1066.9" cy="1535.3" r="5.1"/>
<circle cx="1078.1" cy="1633.6" r="5.1"/>
<circle cx="1066.5" cy="1438.7" r="5.1"/>
<circle cx="1068.6" cy="1487.1" r="5.1"/>
<circle cx="1046.7" cy="1538.4" r="5.1"/>
<circle cx="1087.5" cy="1637.1" r="5.1"/>
<circle cx="1054.8" cy="1390.6" r="5.1"/>
<circle cx="1044.3" cy="1477.6" r="5.1"/>
<circle cx="1078.0" cy="1532.2" r="5.1"/>
<circle cx="1036.0" cy="1530.5" r="5.1"/>
<circle cx="1050.1" cy="1479.8" r="5.1"/>
<circle cx="1044.8" cy="1622.6" r="5.1"/>
<circle cx="1046.4" cy="1415.9" r="5.1"/>
<circle cx="1041.1" cy="1373.7" r="5.1"/>
<circle cx="1056.3" cy="1566.7" r="5.1"/>
<circle cx="1072.1" cy="1499.3" r="5.1"/>
<circle cx="1073.3" cy="1561.3" r="5.1"/>
<circle cx="1040.1" cy="1473.8" r="5.1"/>
<circle cx="1049.4" cy="1526.6" r="5.1"/>
<circle cx="1071.7" cy="1410.0" r="5.1"/>
<circle cx="1042.3" cy="1442.1" r="5.1"/>
<circle cx="1050.4" cy="1437.9" r="5.1"/>
<circle cx="1072.1" cy="1567.5" r="5.1"/>
<circle cx="1050.3" cy="1584.5" r="5.1"/>
<circle cx="1039.6" cy="1611.2" r="5.1"/>
<circle cx="1035.9" cy="1474.3" r="5.1"/>
<circle cx="1048.8" cy="1573.4" r="5.1"/>
<circle cx="1041.6" cy="1463.7" r="5.1"/>
<circle cx="1039.8" cy="1439.7" r="5.1"/>
<circle cx="1043.7" cy="1586.8" r="5.1"/>
<circle cx="1043.9" cy="1558.4" r="5.1"/>
<circle cx="1043.3" cy="1583.2" r="5.1"/>
<circle cx="1042.2" cy="1571.4" r="5.1"/>
<circle cx="1036.7" cy="1489.6" r="5.1"/>
<circle cx="1058.8" cy="1552.1" r="5.1"/>
<circle cx="1052.1" cy="1458.8" r="5.1"/>
<circle cx="1062.6" cy="1545.4" r="5.1"/>
<circle cx="1045.7" cy="1556.8" r="5.1"/>
<circle cx="1043.8" cy="1459.9" r="5.1"/>
<circle cx="1053.5" cy="1487.7" r="5.1"/>
<circle cx="1043.4" cy="1520.9" r="5.1"/>
<circle cx="1036.5" cy="1521.6" r="5.1"/>
<circle cx="1047.7" cy="1632.0" r="5.1"/>
<circle cx="1045.6" cy="1329.0" r="5.1"/>
<circle cx="1122.4" cy="1599.2" r="5.1"/>
<circle cx="1053.1" cy="1397.4" r="5.1"/>
<circle cx="1039.3" cy="1513.0" r="5.1"/>
<circle cx="1099.0" cy="1515.4" r="5.1"/>
<circle cx="1135.8" cy="1521.0" r="5.1"/>
<circle cx="1045.7" cy="1531.8" r="5.1"/>
<circle cx="1070.8" cy="1482.6" r="5.1"/>
<circle cx="1075.4" cy="1385.6" r="5.1"/>
<circle cx="1043.5" cy="1551.3" r="5.1"/>
<circle cx="1042.2" cy="1399.1" r="5.1"/>
<circle cx="1051.0" cy="1569.9" r="5.1"/>
<circle cx="1062.1" cy="1568.9" r="5.1"/>
<circle cx="1036.7" cy="1501.5" r="5.1"/>
<circle cx="1053.5" cy="1496.5" r="5.1"/>
<circle cx="1044.0" cy="1410.4" r="5.1"/>
<circle cx="1039.3" cy="1579.3" r="5.1"/>
<circle cx="1044.8" cy="1526.2" r="5.1"/>
<circle cx="1043.2" cy="1470.4" r="5.1"/>
<circle cx="1036.9" cy="1457.3" r="5.1"/>
<circle cx="1036.2" cy="1393.8" r="5.1"/>
<circle cx="1047.8" cy="1502.1" r="5.1"/>
<circle cx="1044.1" cy="1541.0" r="5.1"/>
<circle cx="1069.7" cy="1411.9" r="5.1"/>
<circle cx="1121.7" cy="1605.4" r="5.1"/>
<circle cx="1103.7" cy="1614.4" r="5.1"/>
<circle cx="1042.3" cy="1532.5" r="5.1"/>
<circle cx="1062.2" cy="1581.4" r="5.1"/>
<circle cx="1040.3" cy="1335.9" r="5.1"/>
<circle cx="1054.2" cy="1544.8" r="5.1"/>
<circle cx="1045.5" cy="1438.7" r="5.1"/>
<circle cx="1070.5" cy="1637.7" r="5.1"/>
<circle cx="1039.0" cy="1365.4" r="5.1"/>
<circle cx="1032.3" cy="1537.5" r="5.1"/>
<circle cx="1053.8" cy="1402.9" r="5.1"/>
<circle cx="1035.7" cy="1452.0" r="5.1"/>
<circle cx="1082.0" cy="1611.8" r="5.1"/>
<circle cx="1055.0" cy="1554.3" r="5.1"/>
<circle cx="1037.9" cy="1556.5" r="5.1"/>
<circle cx="1040.6" cy="1381.1" r="5.1"/>
<circle cx="1043.3" cy="1599.3" r="5.1"/>
<circle cx="1035.6" cy="1573.3" r="5.1"/>
<circle cx="1069.9" cy="1567.9" r="5.1"/>
<circle cx="1053.3" cy="1517.6" r="5.1"/>
<circle cx="1045.4" cy="1597.7" r="5.1"/>
<circle cx="1076.9" cy="1586.0" r="5.1"/>
<circle cx="1047.3" cy="1625.3" r="5.1"/>
<circle cx="1096.8" cy="1236.8" r="5.1"/>
<circle cx="1085.5" cy="1527.7" r="5.1"/>
<circle cx="1081.5" cy="1463.5" r="5.1"/>
<circle cx="1054.2" cy="1428.8" r="5.1"/>
<circle cx="1067.8" cy="1571.1" r="5.1"/>
<circle cx="1055.4" cy="1564.9" r="5.1"/>
<circle cx="1064.5" cy="1681.7" r="5.1"/>
<circle cx="1038.8" cy="1272.3" r="5.1"/>
<circle cx="1061.0" cy="1616.5" r="5.1"/>
<circle cx="1034.3" cy="1491.9" r="5.1"/>
<circle cx="1052.5" cy="1648.0" r="5.1"/>
<circle cx="1056.0" cy="1623.8" r="5.1"/>
<circle cx="1071.6" cy="1594.5" r="5.1"/>
<circle cx="1097.9" cy="1479.1" r="5.1"/>
<circle cx="1034.7" cy="1358.2" r="5.1"/>
<circle cx="1091.2" cy="1517.4" r="5.1"/>
<circle cx="1034.7" cy="1588.3" r="5.1"/>
<circle cx="1045.2" cy="1605.5" r="5.1"/>
<circle cx="1060.4" cy="1582.5" r="5.1"/>
<circle cx="1058.7" cy="1455.1" r="5.1"/>
<circle cx="1081.2" cy="1582.5" r="5.1"/>
<circle cx="1039.9" cy="1565.7" r="5.1"/>
<circle cx="1142.0" cy="1541.8" r="5.1"/>
<circle cx="1050.8" cy="1654.4" r="5.1"/>
<circle cx="1036.6" cy="1450.2" r="5.1"/>
<circle cx="1045.5" cy="1549.8" r="5.1"/>
<circle cx="1058.3" cy="1566.7" r="5.1"/>
<circle cx="1057.3" cy="1466.6" r="5.1"/>
<circle cx="1037.4" cy="1463.8" r="5.1"/>
<circle cx="1046.9" cy="1496.0" r="5.1"/>
<circle cx="1057.6" cy="1608.7" r="5.1"/>
<circle cx="1048.3" cy="1531.5" r="5.1"/>
<circle cx="1037.4" cy="1467.4" r="5.1"/>
<circle cx="1041.1" cy="1520.8" r="5.1"/>
<circle cx="1045.6" cy="1560.6" r="5.1"/>
<circle cx="1057.0" cy="1443.3" r="5.1"/>
<circle cx="1037.5" cy="1468.0" r="5.1"/>
<circle cx="1095.1" cy="1496.9" r="5.1"/>
<circle cx="1054.2" cy="1396.1" r="5.1"/>
<circle cx="1041.2" cy="1498.8" r="5.1"/>
<circle cx="1036.4" cy="1479.4" r="5.1"/>
<circle cx="1037.6" cy="1526.5" r="5.1"/>
<circle cx="1039.0" cy="1603.8" r="5.1"/>
<circle cx="1044.5" cy="1480.2" r="5.1"/>
<circle cx="1060.7" cy="1482.6" r="5.1"/>
<circle cx="1041.5" cy="1479.8" r="5.1"/>
<circle cx="1037.2" cy="1480.5" r="5.1"/>
<circle cx="1065.0" cy="1561.7" r="5.1"/>
<circle cx="1053.7" cy="1534.7" r="5.1"/>
<circle cx="1137.7" cy="1508.9" r="5.1"/>
<circle cx="1038.5" cy="1472.8" r="5.1"/>
<circle cx="1048.7" cy="1686.3" r="5.1"/>
<circle cx="1066.8" cy="1529.0" r="5.1"/>
<circle cx="1040.0" cy="1394.3" r="5.1"/>
<circle cx="1043.9" cy="1451.2" r="5.1"/>
<circle cx="1044.0" cy="1474.0" r="5.1"/>
<circle cx="1061.1" cy="1458.9" r="5.1"/>
<circle cx="1042.7" cy="1420.7" r="5.1"/>
<circle cx="1061.9" cy="1582.8" r="5.1"/>
<circle cx="1054.8" cy="1413.4" r="5.1"/>
<circle cx="1056.7" cy="1596.0" r="5.1"/>
<circle cx="1041.7" cy="1517.8" r="5.1"/>
<circle cx="1040.6" cy="1295.0" r="5.1"/>
<circle cx="1050.0" cy="1547.5" r="5.1"/>
<circle cx="1049.8" cy="1634.5" r="5.1"/>
<circle cx="1043.2" cy="1568.2" r="5.1"/>
<circle cx="1031.7" cy="1559.3" r="5.1"/>
<circle cx="1047.9" cy="1516.0" r="5.1"/>
<circle cx="1042.7" cy="1602.4" r="5.1"/>
<circle cx="1058.4" cy="1572.5" r="5.1"/>
<circle cx="1050.0" cy="1501.8" r="5.1"/>
<circle cx="1086.8" cy="1552.0" r="5.1"/>
<circle cx="1035.7" cy="1370.6" r="5.1"/>
<circle cx="1051.2" cy="1352.6" r="5.1"/>
<circle cx="1064.0" cy="1275.4" r="5.1"/>
<circle cx="1034.4" cy="1357.4" r="5.1"/>
<circle cx="1054.9" cy="1587.0" r="5.1"/>
<circle cx="1044.6" cy="1578.5" r="5.1"/>
<circle cx="1058.9" cy="1490.6" r="5.1"/>
<circle cx="1060.0" cy="1554.1" r="5.1"/>
<circle cx="1037.4" cy="1321.3" r="5.1"/>
<circle cx="1035.0" cy="1520.5" r="5.1"/>
<circle cx="1119.7" cy="1689.9" r="5.1"/>
<circle cx="1051.0" cy="1519.5" r="5.1"/>
<circle cx="1047.2" cy="1488.8" r="5.1"/>
<circle cx="1034.9" cy="1325.3" r="5.1"/>
<circle cx="1057.7" cy="1531.5" r="5.1"/>
<circle cx="1097.0" cy="1585.1" r="5.1"/>
<circle cx="1043.0" cy="1349.5" r="5.1"/>
<circle cx="1045.1" cy="1521.2" r="5.1"/>
<circle cx="1074.7" cy="1655.3" r="5.1"/>
<circle cx="1045.7" cy="1450.2" r="5.1"/>
<circle cx="1045.8" cy="1426.2" r="5.1"/>
<circle cx="1045.2" cy="1466.7" r="5.1"/>
<circle cx="1041.6" cy="1426.5" r="5.1"/>
<circle cx="1046.1" cy="1662.3" r="5.1"/>
<circle cx="1069.5" cy="1595.8" r="5.1"/>
<circle cx="1119.6" cy="1615.0" r="5.1"/>
<circle cx="1073.2" cy="1550.8" r="5.1"/>
<circle cx="1058.2" cy="1507.0" r="5.1"/>
<circle cx="1090.1" cy="1540.0" r="5.1"/>
<circle cx="1040.1" cy="1495.4" r="5.1"/>
<circle cx="1042.4" cy="1374.1" r="5.1"/>
<circle cx="1039.8" cy="1545.0" r="5.1"/>
<circle cx="1036.9" cy="1419.6" r="5.1"/>
<circle cx="1066.3" cy="1412.9" r="5.1"/>
<circle cx="1051.8" cy="1423.6" r="5.1"/>
<circle cx="1142.9" cy="1618.0" r="5.1"/>
<circle cx="1071.4" cy="1490.2" r="5.1"/>
<circle cx="1050.3" cy="1568.6" r="5.1"/>
<circle cx="1060.7" cy="1586.2" r="5.1"/>
<circle cx="1036.2" cy="1538.5" r="5.1"/>
<circle cx="1045.3" cy="1678.7" r="5.1"/>
<circle cx="1045.5" cy="1508.5" r="5.1"/>
<circle cx="1068.0" cy="1573.2" r="5.1"/>
<circle cx="1039.9" cy="1420.6" r="5.1"/>
<circle cx="1087.9" cy="1611.2" r="5.1"/>
<circle cx="1039.6" cy="1331.0" r="5.1"/>
<circle cx="1036.7" cy="1459.8" r="5.1"/>
<circle cx="1037.9" cy="1466.0" r="5.1"/>
<circle cx="1067.6" cy="1573.0" r="5.1"/>
<circle cx="1072.2" cy="1514.8" r="5.1"/>
<circle cx="1043.8" cy="1508.8" r="5.1"/>
<circle cx="1044.8" cy="1459.7" r="5.1"/>
<circle cx="1037.4" cy="1503.7" r="5.1"/>
<circle cx="1082.3" cy="1642.6" r="5.1"/>
<circle cx="1072.7" cy="1556.4" r="5.1"/>
<circle cx="1045.9" cy="1369.2" r="5.1"/>
<circle cx="1097.7" cy="1571.2" r="5.1"/>
<circle cx="1039.8" cy="1453.4" r="5.1"/>
<circle cx="1034.1" cy="1426.0" r="5.1"/>
<circle cx="1068.4" cy="1587.9" r="5.1"/>
<circle cx="1086.3" cy="1453.7" r="5.1"/>
<circle cx="1099.7" cy="1475.6" r="5.1"/>
<circle cx="1038.7" cy="1416.3" r="5.1"/>
<circle cx="1051.7" cy="1582.3" r="5.1"/>
<circle cx="1058.3" cy="1311.4" r="5.1"/>
<circle cx="1059.6" cy="1422.7" r="5.1"/>
<circle cx="1070.1" cy="1633.3" r="5.1"/>
<circle cx="1046.0" cy="1493.1" r="5.1"/>
<circle cx="1079.4" cy="1353.1" r="5.1"/>
<circle cx="1058.8" cy="1322.3" r="5.1"/>
<circle cx="1084.4" cy="1591.4" r="5.1"/>
<circle cx="1069.9" cy="1604.7" r="5.1"/>
<circle cx="1068.5" cy="1423.5" r="5.1"/>
<circle cx="1073.4" cy="1491.8" r="5.1"/>
<circle cx="1045.3" cy="1514.4" r="5.1"/>
<circle cx="1049.1" cy="1587.0" r="5.1"/>
<circle cx="1078.8" cy="1586.3" r="5.1"/>
<circle cx="1052.1" cy="1559.7" r="5.1"/>
<circle cx="1060.4" cy="1404.7" r="5.1"/>
<circle cx="1048.6" cy="1467.8" r="5.1"/>
<circle cx="1046.3" cy="1607.0" r="5.1"/>
<circle cx="1070.3" cy="1484.2" r="5.1"/>
<circle cx="1047.1" cy="1404.3" r="5.1"/>
<circle cx="1037.9" cy="1407.5" r="5.1"/>
<circle cx="1059.8" cy="1501.3" r="5.1"/>
<circle cx="1046.5" cy="1477.6" r="5.1"/>
<circle cx="1044.0" cy="1606.1" r="5.1"/>
<circle cx="1069.9" cy="1464.1" r="5.1"/>
<circle cx="1031.5" cy="1288.3" r="5.1"/>
<circle cx="1052.2" cy="1485.8" r="5.1"/>
<circle cx="1057.3" cy="1509.5" r="5.1"/>
<circle cx="1047.4" cy="1471.6" r="5.1"/>
<circle cx="1113.1" cy="1637.3" r="5.1"/>
<circle cx="1058.4" cy="1577.2" r="5.1"/>
<circle cx="1052.7" cy="1442.8" r="5.1"/>
<circle cx="1122.9" cy="1577.5" r="5.1"/>
<circle cx="1070.5" cy="1621.2" r="5.1"/>
<circle cx="1076.0" cy="1515.7" r="5.1"/>
<circle cx="1046.6" cy="1464.3" r="5.1"/>
<circle cx="1042.4" cy="1533.3" r="5.1"/>
<circle cx="1081.9" cy="1643.5" r="5.1"/>
<circle cx="1079.6" cy="1573.8" r="5.1"/>
<circle cx="1059.7" cy="1620.0" r="5.1"/>
<circle cx="1054.4" cy="1420.3" r="5.1"/>
<circle cx="1072.9" cy="1582.0" r="5.1"/>
<circle cx="1079.2" cy="1532.1" r="5.1"/>
<circle cx="1046.2" cy="1509.9" r="5.1"/>
<circle cx="1055.4" cy="1399.8" r="5.1"/>
<circle cx="1099.8" cy="1590.0" r="5.1"/>
<circle cx="1055.4" cy="1499.6" r="5.1"/>
<circle cx="1045.2" cy="1396.1" r="5.1"/>
<circle cx="1040.8" cy="1467.4" r="5.1"/>
<circle cx="1035.1" cy="1539.4" r="5.1"/>
<circle cx="1035.2" cy="1491.4" r="5.1"/>
<circle cx="1046.6" cy="1449.5" r="5.1"/>
<circle cx="1041.2" cy="1447.9" r="5.1"/>
<circle cx="1048.3" cy="1460.4" r="5.1"/>
<circle cx="1052.1" cy="1556.8" r="5.1"/>
<circle cx="1046.3" cy="1575.6" r="5.1"/>
<circle cx="1055.3" cy="1470.4" r="5.1"/>
<circle cx="1057.2" cy="1465.4" r="5.1"/>
<circle cx="1074.5" cy="1511.6" r="5.1"/>
<circle cx="1063.8" cy="1557.3" r="5.1"/>
<circle cx="1038.9" cy="1549.1" r="5.1"/>
<circle cx="1048.0" cy="1582.2" r="5.1"/>
<circle cx="1060.0" cy="1381.1" r="5.1"/>
<circle cx="1095.3" cy="1565.6" r="5.1"/>
<circle cx="1053.8" cy="1483.3" r="5.1"/>
<circle cx="1069.4" cy="1613.4" r="5.1"/>
<circle cx="1042.1" cy="1585.3" r="5.1"/>
<circle cx="1055.3" cy="1476.5" r="5.1"/>
<circle cx="1037.4" cy="1486.6" r="5.1"/>
<circle cx="1042.6" cy="1435.8" r="5.1"/>
<circle cx="1055.3" cy="1532.6" r="5.1"/>
<circle cx="1046.7" cy="1379.6" r="5.1"/>
<circle cx="1038.3" cy="1403.7" r="5.1"/>
<circle cx="1067.5" cy="1408.9" r="5.1"/>
<circle cx="1062.9" cy="1432.1" r="5.1"/>
<circle cx="1040.3" cy="1507.7" r="5.1"/>
<circle cx="1071.8" cy="1543.3" r="5.1"/>
<circle cx="1054.6" cy="1512.1" r="5.1"/>
<circle cx="1040.7" cy="1521.8" r="5.1"/>
<circle cx="1065.7" cy="1475.1" r="5.1"/>
<circle cx="1050.8" cy="1401.0" r="5.1"/>
<circle cx="1046.9" cy="1625.7" r="5.1"/>
<circle cx="1052.7" cy="1407.6" r="5.1"/>
<circle cx="1039.3" cy="1455.2" r="5.1"/>
<circle cx="1045.9" cy="1545.7" r="5.1"/>
<circle cx="1035.7" cy="1359.0" r="5.1"/>
<circle cx="1046.8" cy="1519.5" r="5.1"/>
<circle cx="1032.7" cy="1603.2" r="5.1"/>
<circle cx="1064.7" cy="1529.4" r="5.1"/>
<circle cx="1036.5" cy="1414.6" r="5.1"/>
<circle cx="1067.4" cy="1615.6" r="5.1"/>
<circle cx="1048.0" cy="1482.0" r="5.1"/>
<circle cx="1046.2" cy="1363.4" r="5.1"/>
<circle cx="1044.0" cy="1482.4" r="5.1"/>
<circle cx="1040.0" cy="1480.1" r="5.1"/>
<circle cx="1038.1" cy="1504.7" r="5.1"/>
<circle cx="1054.7" cy="1526.6" r="5.1"/>
<circle cx="1069.2" cy="1616.6" r="5.1"/>
<circle cx="1076.9" cy="1538.9" r="5.1"/>
<circle cx="1043.6" cy="1419.3" r="5.1"/>
<circle cx="1077.9" cy="1515.9" r="5.1"/>
<circle cx="1048.6" cy="1481.4" r="5.1"/>
<circle cx="1039.8" cy="1446.3" r="5.1"/>
<circle cx="1042.7" cy="1523.0" r="5.1"/>
<circle cx="1083.3" cy="1377.2" r="5.1"/>
<circle cx="1037.9" cy="1330.7" r="5.1"/>
<circle cx="1053.7" cy="1497.9" r="5.1"/>
<circle cx="1080.0" cy="1554.8" r="5.1"/>
<circle cx="1054.4" cy="1642.1" r="5.1"/>
<circle cx="1048.7" cy="1283.5" r="5.1"/>
<circle cx="1059.0" cy="1471.3" r="5.1"/>
<circle cx="1060.7" cy="1440.4" r="5.1"/>
<circle cx="1077.3" cy="1425.5" r="5.1"/>
<circle cx="1061.2" cy="1538.1" r="5.1"/>
<circle cx="1107.0" cy="1629.7" r="5.1"/>
<circle cx="1051.5" cy="1542.7" r="5.1"/>
<circle cx="1047.2" cy="1604.9" r="5.1"/>
<circle cx="1045.0" cy="1526.9" r="5.1"/>
<circle cx="1050.9" cy="1667.0" r="5.1"/>
<circle cx="1040.3" cy="1462.0" r="5.1"/>
<circle cx="1043.3" cy="1378.5" r="5.1"/>
<circle cx="1072.0" cy="1426.5" r="5.1"/>
<circle cx="1038.5" cy="1429.7" r="5.1"/>
<circle cx="1039.9" cy="1512.7" r="5.1"/>
<circle cx="1043.8" cy="1527.1" r="5.1"/>
<circle cx="1045.7" cy="1530.1" r="5.1"/>
<circle cx="1058.4" cy="1484.8" r="5.1"/>
<circle cx="1053.4" cy="1512.4" r="5.1"/>
<circle cx="1035.0" cy="1571.6" r="5.1"/>
<circle cx="1047.3" cy="1492.6" r="5.1"/>
<circle cx="1054.6" cy="1559.8" r="5.1"/>
<circle cx="1051.1" cy="1521.7" r="5.1"/>
<circle cx="1043.4" cy="1404.6" r="5.1"/>
<circle cx="1067.8" cy="1461.3" r="5.1"/>
<circle cx="1081.4" cy="1550.1" r="5.1"/>
<circle cx="1044.2" cy="1373.8" r="5.1"/>
<circle cx="1038.9" cy="1474.5" r="5.1"/>
<circle cx="1037.1" cy="1543.8" r="5.1"/>
<circle cx="1050.8" cy="1310.9" r="5.1"/>
<circle cx="1098.3" cy="1591.0" r="5.1"/>
<circle cx="1056.2" cy="1353.4" r="5.1"/>
<circle cx="1063.5" cy="1565.6" r="5.1"/>
<circle cx="1054.8" cy="1626.1" r="5.1"/>
<circle cx="1044.5" cy="1513.0" r="5.1"/>
<circle cx="1043.4" cy="1389.1" r="5.1"/>
<circle cx="1090.2" cy="1540.2" r="5.1"/>
<circle cx="1055.5" cy="1339.7" r="5.1"/>
<circle cx="1052.1" cy="1571.6" r="5.1"/>
<circle cx="1051.9" cy="1393.0" r="5.1"/>
<circle cx="1042.1" cy="1486.1" r="5.1"/>
<circle cx="1042.1" cy="1378.6" r="5.1"/>
<circle cx="1041.2" cy="1528.3" r="5.1"/>
<circle cx="1039.9" cy="1387.0" r="5.1"/>
<circle cx="1032.8" cy="1444.3" r="5.1"/>
<circle cx="1073.0" cy="1546.7" r="5.1"/>
<circle cx="1068.4" cy="1451.3" r="5.1"/>
<circle cx="1096.0" cy="1474.0" r="5.1"/>
<circle cx="1038.0" cy="1436.7" r="5.1"/>
<circle cx="1041.1" cy="1516.7" r="5.1"/>
<circle cx="1047.7" cy="1550.1" r="5.1"/>
<circle cx="1057.2" cy="1550.0" r="5.1"/>
<circle cx="1042.4" cy="1365.7" r="5.1"/>
<circle cx="1083.4" cy="1511.1" r="5.1"/>
<circle cx="1110.5" cy="1666.4" r="5.1"/>
<circle cx="1038.6" cy="1545.7" r="5.1"/>
<circle cx="1069.3" cy="1433.8" r="5.1"/>
<circle cx="1040.6" cy="1452.9" r="5.1"/>
<circle cx="1048.0" cy="1423.5" r="5.1"/>
<circle cx="1048.0" cy="1381.8" r="5.1"/>
<circle cx="1055.2" cy="1554.3" r="5.1"/>
<circle cx="1042.6" cy="1458.5" r="5.1"/>
<circle cx="1058.0" cy="1559.5" r="5.1"/>
<circle cx="1054.8" cy="1633.5" r="5.1"/>
<circle cx="1049.4" cy="1512.0" r="5.1"/>
<circle cx="1058.3" cy="1476.3" r="5.1"/>
<circle cx="1115.0" cy="1569.5" r="5.1"/>
<circle cx="1036.4" cy="1412.9" r="5.1"/>
<circle cx="1051.2" cy="1528.1" r="5.1"/>
<circle cx="1083.2" cy="1534.8" r="5.1"/>
<circle cx="1040.6" cy="1516.3" r="5.1"/>
<circle cx="1061.3" cy="1588.9" r="5.1"/>
<circle cx="1054.0" cy="1610.5" r="5.1"/>
<circle cx="1132.4" cy="1654.1" r="5.1"/>
<circle cx="1037.7" cy="1608.0" r="5.1"/>
<circle cx="1042.3" cy="1512.0" r="5.1"/>
<circle cx="1037.6" cy="1507.0" r="5.1"/>
<circle cx="1055.5" cy="1658.1" r="5.1"/>
<circle cx="1070.4" cy="1528.9" r="5.1"/>
<circle cx="1052.1" cy="1550.8" r="5.1"/>
<circle cx="1042.8" cy="1492.6" r="5.1"/>
<circle cx="1110.5" cy="1570.4" r="5.1"/>
<circle cx="1043.0" cy="1449.5" r="5.1"/>
<circle cx="1066.3" cy="1403.1" r="5.1"/>
<circle cx="1045.8" cy="1583.3" r="5.1"/>
<circle cx="1121.4" cy="1390.1" r="5.1"/>
<circle cx="1065.0" cy="1349.4" r="5.1"/>
<circle cx="1066.7" cy="1500.9" r="5.1"/>
<circle cx="1059.1" cy="1553.0" r="5.1"/>
<circle cx="1043.2" cy="1503.8" r="5.1"/>
<circle cx="1072.8" cy="1521.0" r="5.1"/>
<circle cx="1047.4" cy="1498.4" r="5.1"/>
<circle cx="1042.0" cy="1513.7" r="5.1"/>
<circle cx="1050.0" cy="1426.7" r="5.1"/>
<circle cx="1043.3" cy="1525.4" r="5.1"/>
<circle cx="1033.3" cy="1346.2" r="5.1"/>
<circle cx="1089.1" cy="1473.8" r="5.1"/>
<circle cx="1099.8" cy="1564.2" r="5.1"/>
<circle cx="1036.9" cy="1443.0" r="5.1"/>
<circle cx="1059.5" cy="1649.9" r="5.1"/>
<circle cx="1077.8" cy="1427.7" r="5.1"/>
<circle cx="1073.8" cy="1373.1" r="5.1"/>
<circle cx="1059.5" cy="1531.1" r="5.1"/>
<circle cx="1047.7" cy="1375.0" r="5.1"/>
<circle cx="1054.1" cy="1417.4" r="5.1"/>
<circle cx="1050.9" cy="1363.8" r="5.1"/>
<circle cx="1048.4" cy="1493.3" r="5.1"/>
<circle cx="1043.7" cy="1614.6" r="5.1"/>
<circle cx="1044.7" cy="1597.2" r="5.1"/>
<circle cx="1038.2" cy="1315.1" r="5.1"/>
<circle cx="1051.1" cy="1524.7" r="5.1"/>
<circle cx="1050.3" cy="1463.0" r="5.1"/>
<circle cx="1038.5" cy="1576.8" r="5.1"/>
<circle cx="1055.3" cy="1596.3" r="5.1"/>
<circle cx="1041.0" cy="1365.6" r="5.1"/>
<circle cx="1061.2" cy="1601.2" r="5.1"/>
<circle cx="1063.0" cy="1608.9" r="5.1"/>
<circle cx="1070.6" cy="1473.8" r="5.1"/>
<circle cx="1040.7" cy="1382.6" r="5.1"/>
<circle cx="1054.0" cy="1509.3" r="5.1"/>
<circle cx="1040.7" cy="1512.7" r="5.1"/>
<circle cx="1082.5" cy="1569.0" r="5.1"/>
<circle cx="1064.8" cy="1592.9" r="5.1"/>
<circle cx="1036.8" cy="1565.5" r="5.1"/>
<circle cx="1040.0" cy="1540.7" r="5.1"/>
<circle cx="1039.1" cy="1393.8" r="5.1"/>
<circle cx="1046.5" cy="1462.1" r="5.1"/>
<circle cx="1048.9" cy="1361.1" r="5.1"/>
<circle cx="1053.0" cy="1510.0" r="5.1"/>
<circle cx="1060.0" cy="1472.7" r="5.1"/>
<circle cx="1035.8" cy="1405.6" r="5.1"/>
<circle cx="1095.6" cy="1564.2" r="5.1"/>
<circle cx="1054.0" cy="1371.6" r="5.1"/>
<circle cx="1037.2" cy="1346.6" r="5.1"/>
<circle cx="1072.5" cy="1435.6" r="5.1"/>
<circle cx="1088.5" cy="1691.8" r="5.1"/>
<circle cx="1044.6" cy="1476.3" r="5.1"/>
<circle cx="1053.3" cy="1683.4" r="5.1"/>
<circle cx="1049.3" cy="1523.1" r="5.1"/>
<circle cx="1056.7" cy="1406.4" r="5.1"/>
<circle cx="1041.8" cy="1439.9" r="5.1"/>
<circle cx="1035.8" cy="1361.4" r="5.1"/>
<circle cx="1044.3" cy="1478.1" r="5.1"/>
<circle cx="1041.3" cy="1357.4" r="5.1"/>
<circle cx="1060.2" cy="1520.3" r="5.1"/>
<circle cx="1052.7" cy="1529.2" r="5.1"/>
<circle cx="1060.0" cy="1466.1" r="5.1"/>
<circle cx="1066.6" cy="1692.7" r="5.1"/>
<circle cx="1115.9" cy="1682.5" r="5.1"/>
<circle cx="1050.5" cy="1555.6" r="5.1"/>
<circle cx="1064.5" cy="1522.9" r="5.1"/>
<circle cx="1031.5" cy="1206.7" r="5.1"/>
<circle cx="1060.0" cy="1549.8" r="5.1"/>
<circle cx="1049.8" cy="1330.0" r="5.1"/>
<circle cx="1047.2" cy="1419.5" r="5.1"/>
<circle cx="1041.9" cy="1275.7" r="5.1"/>
<circle cx="1053.2" cy="1475.0" r="5.1"/>
<circle cx="1064.0" cy="1571.7" r="5.1"/>
<circle cx="1061.8" cy="1556.6" r="5.1"/>
<circle cx="1045.4" cy="1507.3" r="5.1"/>
<circle cx="1047.3" cy="1578.6" r="5.1"/>
<circle cx="1088.8" cy="1576.2" r="5.1"/>
<circle cx="1046.8" cy="1345.5" r="5.1"/>
<circle cx="1069.6" cy="1664.7" r="5.1"/>
<circle cx="1049.8" cy="1495.1" r="5.1"/>
<circle cx="1072.6" cy="1514.6" r="5.1"/>
<circle cx="1051.8" cy="1586.6" r="5.1"/>
<circle cx="1068.6" cy="1613.9" r="5.1"/>
<circle cx="1045.6" cy="1503.1" r="5.1"/>
<circle cx="1065.3" cy="1558.3" r="5.1"/>
<circle cx="1065.3" cy="1589.7" r="5.1"/>
<circle cx="1050.3" cy="1481.3" r="5.1"/>
<circle cx="1043.2" cy="1516.0" r="5.1"/>
<circle cx="1039.7" cy="1386.2" r="5.1"/>
<circle cx="1033.0" cy="1389.5" r="5.1"/>
<circle cx="1032.9" cy="1507.3" r="5.1"/>
<circle cx="1061.2" cy="1478.2" r="5.1"/>
<circle cx="1051.4" cy="1503.8" r="5.1"/>
<circle cx="1036.3" cy="1460.0" r="5.1"/>
<circle cx="1062.9" cy="1524.4" r="5.1"/>
<circle cx="1058.9" cy="1412.4" r="5.1"/>
<circle cx="1051.2" cy="1502.8" r="5.1"/>
<circle cx="1090.2" cy="1565.2" r="5.1"/>
<circle cx="1046.0" cy="1324.9" r="5.1"/>
<circle cx="1086.3" cy="1594.2" r="5.1"/>
<circle cx="1072.5" cy="1537.0" r="5.1"/>
<circle cx="1044.6" cy="1635.6" r="5.1"/>
<circle cx="1066.5" cy="1485.6" r="5.1"/>
<circle cx="1047.4" cy="1454.4" r="5.1"/>
<circle cx="1050.6" cy="1593.7" r="5.1"/>
<circle cx="1094.4" cy="1426.5" r="5.1"/>
<circle cx="1039.2" cy="1411.9" r="5.1"/>
<circle cx="1077.7" cy="1616.4" r="5.1"/>
<circle cx="1038.0" cy="1618.5" r="5.1"/>
<circle cx="1050.3" cy="1407.2" r="5.1"/>
<circle cx="1051.6" cy="1347.1" r="5.1"/>
<circle cx="1053.1" cy="1514.9" r="5.1"/>
<circle cx="1045.5" cy="1414.4" r="5.1"/>
<circle cx="1037.6" cy="1625.4" r="5.1"/>
<circle cx="1040.2" cy="1383.8" r="5.1"/>
<circle cx="1040.1" cy="1516.5" r="5.1"/>
<circle cx="1089.4" cy="1574.1" r="5.1"/>
<circle cx="1042.4" cy="1546.2" r="5.1"/>
<circle cx="1047.2" cy="1391.6" r="5.1"/>
<circle cx="1050.0" cy="1391.0" r="5.1"/>
<circle cx="1038.0" cy="1441.8" r="5.1"/>
<circle cx="1049.0" cy="1404.1" r="5.1"/>
<circle cx="1035.4" cy="1540.8" r="5.1"/>
<circle cx="1063.3" cy="1506.4" r="5.1"/>
<circle cx="1043.2" cy="1466.6" r="5.1"/>
<circle cx="1059.0" cy="1571.1" r="5.1"/>
<circle cx="1044.3" cy="1522.3" r="5.1"/>
<circle cx="1054.4" cy="1623.3" r="5.1"/>
<circle cx="1043.8" cy="1351.4" r="5.1"/>
<circle cx="1045.1" cy="1469.7" r="5.1"/>
<circle cx="1043.8" cy="1509.1" r="5.1"/>
<circle cx="1033.2" cy="1539.1" r="5.1"/>
<circle cx="1044.2" cy="1494.7" r="5.1"/>
<circle cx="1063.8" cy="1622.4" r="5.1"/>
<circle cx="1035.5" cy="1606.6" r="5.1"/>
<circle cx="1059.7" cy="1611.7" r="5.1"/>
<circle cx="1039.1" cy="1509.3" r="5.1"/>
<circle cx="1076.9" cy="1626.2" r="5.1"/>
<circle cx="1077.3" cy="1604.1" r="5.1"/>
<circle cx="1046.7" cy="1439.9" r="5.1"/>
<circle cx="1051.4" cy="1392.2" r="5.1"/>
<circle cx="1073.1" cy="1473.2" r="5.1"/>
<circle cx="1059.9" cy="1544.2" r="5.1"/>
<circle cx="1043.0" cy="1638.0" r="5.1"/>
<circle cx="1055.0" cy="1426.8" r="5.1"/>
<circle cx="1040.6" cy="1539.9" r="5.1"/>
<circle cx="1044.3" cy="1381.9" r="5.1"/>
<circle cx="1052.2" cy="1365.1" r="5.1"/>
<circle cx="1050.4" cy="1476.5" r="5.1"/>
<circle cx="1071.5" cy="1457.5" r="5.1"/>
<circle cx="1040.7" cy="1436.1" r="5.1"/>
<circle cx="1066.0" cy="1431.3" r="5.1"/>
<circle cx="1056.2" cy="1546.5" r="5.1"/>
<circle cx="1076.5" cy="1465.5" r="5.1"/>
<circle cx="1062.7" cy="1580.3" r="5.1"/>
<circle cx="1054.4" cy="1366.9" r="5.1"/>
<circle cx="1044.8" cy="1463.6" r="5.1"/>
<circle cx="1040.6" cy="1440.4" r="5.1"/>
<circle cx="1035.9" cy="1292.5" r="5.1"/>
<circle cx="1049.7" cy="1486.1" r="5.1"/>
<circle cx="1047.4" cy="1508.8" r="5.1"/>
<circle cx="1050.9" cy="1383.6" r="5.1"/>
<circle cx="1054.3" cy="1586.1" r="5.1"/>
<circle cx="1055.9" cy="1620.2" r="5.1"/>
<circle cx="1045.8" cy="1308.0" r="5.1"/>
<circle cx="1044.5" cy="1633.7" r="5.1"/>
<circle cx="1035.7" cy="1418.7" r="5.1"/>
<circle cx="1047.0" cy="1358.8" r="5.1"/>
<circle cx="1042.3" cy="1605.8" r="5.1"/>
<circle cx="1040.4" cy="1603.9" r="5.1"/>
<circle cx="1034.2" cy="1387.6" r="5.1"/>
<circle cx="1065.7" cy="1361.6" r="5.1"/>
<circle cx="1053.3" cy="1563.8" r="5.1"/>
<circle cx="1049.3" cy="1542.2" r="5.1"/>
<circle cx="1077.1" cy="1389.7" r="5.1"/>
<circle cx="1044.3" cy="1506.0" r="5.1"/>
<circle cx="1044.5" cy="1513.7" r="5.1"/>
<circle cx="1072.2" cy="1599.9" r="5.1"/>
<circle cx="1058.2" cy="1478.5" r="5.1"/>
<circle cx="1037.7" cy="1397.2" r="5.1"/>
<circle cx="1055.6" cy="1517.6" r="5.1"/>
<circle cx="1062.7" cy="1525.5" r="5.1"/>
<circle cx="1064.4" cy="1601.4" r="5.1"/>
<circle cx="1051.2" cy="1438.5" r="5.1"/>
<circle cx="1036.0" cy="1196.7" r="5.1"/>
<circle cx="1046.4" cy="1546.9" r="5.1"/>
<circle cx="1041.7" cy="1301.7" r="5.1"/>
<circle cx="1043.0" cy="1318.3" r="5.1"/>
<circle cx="1131.1" cy="1491.5" r="5.1"/>
<circle cx="1110.3" cy="1501.8" r="5.1"/>
<circle cx="1052.4" cy="1579.8" r="5.1"/>
<circle cx="1042.6" cy="1511.9" r="5.1"/>
<circle cx="1035.1" cy="1525.3" r="5.1"/>
<circle cx="1059.5" cy="1453.4" r="5.1"/>
<circle cx="1048.2" cy="1367.1" r="5.1"/>
<circle cx="1064.4" cy="1486.9" r="5.1"/>
<circle cx="1076.2" cy="1442.8" r="5.1"/>
<circle cx="1037.7" cy="1402.6" r="5.1"/>
<circle cx="1053.3" cy="1459.2" r="5.1"/>
<circle cx="1053.2" cy="1381.5" r="5.1"/>
<circle cx="1059.4" cy="1499.7" r="5.1"/>
<circle cx="1054.9" cy="1436.9" r="5.1"/>
<circle cx="1061.4" cy="1576.7" r="5.1"/>
<circle cx="1063.5" cy="1400.2" r="5.1"/>
<circle cx="1040.2" cy="1505.8" r="5.1"/>
<circle cx="1075.2" cy="1591.7" r="5.1"/>
<circle cx="1047.6" cy="1586.5" r="5.1"/>
<circle cx="1034.8" cy="1520.8" r="5.1"/>
<circle cx="1049.8" cy="1561.4" r="5.1"/>
<circle cx="1037.8" cy="1528.4" r="5.1"/>
<circle cx="1115.5" cy="1420.2" r="5.1"/>
<circle cx="1053.0" cy="1468.8" r="5.1"/>
<circle cx="1061.1" cy="1643.9" r="5.1"/>
<circle cx="1047.1" cy="1621.3" r="5.1"/>
<circle cx="1053.1" cy="1599.7" r="5.1"/>
<circle cx="1049.7" cy="1568.2" r="5.1"/>
<circle cx="1034.3" cy="1431.4" r="5.1"/>
<circle cx="1040.5" cy="1586.9" r="5.1"/>
<circle cx="1058.9" cy="1493.0" r="5.1"/>
<circle cx="1050.5" cy="1541.0" r="5.1"/>
<circle cx="1050.7" cy="1365.4" r="5.1"/>
<circle cx="1054.0" cy="1238.1" r="5.1"/>
<circle cx="1040.4" cy="1202.8" r="5.1"/>
<circle cx="1053.0" cy="1219.7" r="5.1"/>
<circle cx="1038.8" cy="1216.9" r="5.1"/>
<circle cx="1046.7" cy="1242.8" r="5.1"/>
<circle cx="1034.2" cy="1258.6" r="5.1"/>
<circle cx="1041.6" cy="1327.2" r="5.1"/>
<circle cx="1049.1" cy="1216.4" r="5.1"/>
<circle cx="1043.4" cy="1224.0" r="5.1"/>
<circle cx="1033.9" cy="1237.7" r="5.1"/>
<circle cx="1046.8" cy="1216.5" r="5.1"/>
<circle cx="1034.1" cy="1344.5" r="5.1"/>
<circle cx="1057.7" cy="1254.9" r="5.1"/>
<circle cx="1044.3" cy="1259.5" r="5.1"/>
<circle cx="1033.4" cy="1233.0" r="5.1"/>
<circle cx="1039.3" cy="1340.0" r="5.1"/>
<circle cx="1040.7" cy="1324.4" r="5.1"/>
<circle cx="1034.8" cy="1267.2" r="5.1"/>
<circle cx="1036.5" cy="1253.2" r="5.1"/>
<circle cx="1042.3" cy="1335.6" r="5.1"/>
<circle cx="1040.0" cy="1336.0" r="5.1"/>
<circle cx="1069.9" cy="1324.3" r="5.1"/>
<circle cx="1037.3" cy="1221.8" r="5.1"/>
<circle cx="1066.4" cy="1266.3" r="5.1"/>
<circle cx="1062.8" cy="1324.1" r="5.1"/>
<circle cx="1070.1" cy="1351.5" r="5.1"/>
<circle cx="1047.9" cy="1352.6" r="5.1"/>
<circle cx="1056.7" cy="1297.4" r="5.1"/>
<circle cx="1049.1" cy="1265.4" r="5.1"/>
<circle cx="1050.7" cy="1225.9" r="5.1"/>
<circle cx="1037.8" cy="1204.2" r="5.1"/>
<circle cx="1062.7" cy="1212.5" r="5.1"/>
<circle cx="1069.3" cy="1253.3" r="5.1"/>
<circle cx="1061.7" cy="1338.2" r="5.1"/>
<circle cx="1183.2" cy="1321.0" r="5.1"/>
<circle cx="1167.3" cy="1361.0" r="5.1"/>
<circle cx="1244.1" cy="1349.0" r="5.1"/>
<circle cx="1355.5" cy="1368.0" r="5.1"/>
<circle cx="1461.5" cy="1360.0" r="5.1"/>
<circle cx="1326.3" cy="1407.0" r="5.1"/>
<circle cx="1331.6" cy="1451.0" r="5.1"/>
<circle cx="1332.7" cy="1455.0" r="5.1"/>
<circle cx="1283.9" cy="1464.0" r="5.1"/>
<circle cx="1336.9" cy="1480.0" r="5.1"/>
<circle cx="1307.8" cy="1485.0" r="5.1"/>
<circle cx="1308.8" cy="1488.0" r="5.1"/>
<circle cx="1257.4" cy="1506.0" r="5.1"/>
<circle cx="1167.3" cy="1493.0" r="5.1"/>
<circle cx="1175.2" cy="1495.0" r="5.1"/>
<circle cx="1292.9" cy="1527.0" r="5.1"/>
<circle cx="1299.8" cy="1530.0" r="5.1"/>
<circle cx="1315.7" cy="1527.0" r="5.1"/>
<circle cx="1583.5" cy="1503.0" r="5.1"/>
<circle cx="1617.9" cy="1532.0" r="5.1"/>
<circle cx="1737.2" cy="1542.0" r="5.1"/>
<circle cx="1543.7" cy="1553.0" r="5.1"/>
<circle cx="1806.1" cy="1558.0" r="5.1"/>
<circle cx="1297.2" cy="1569.0" r="5.1"/>
<circle cx="1204.4" cy="1597.0" r="5.1"/>
<circle cx="1217.6" cy="1605.0" r="5.1"/>
<circle cx="1278.6" cy="1600.0" r="5.1"/>
<circle cx="1282.8" cy="1603.0" r="5.1"/>
<circle cx="1215.0" cy="1636.0" r="5.1"/>
<circle cx="1356.5" cy="1636.0" r="5.1"/>
<circle cx="1181.6" cy="1654.0" r="5.1"/>
<circle cx="1322.6" cy="1660.0" r="5.1"/>
<circle cx="1428.1" cy="1660.0" r="5.1"/>
<circle cx="1705.4" cy="1691.0" r="5.1"/>
<circle cx="1752.1" cy="1704.0" r="5.1"/>
<circle cx="1283.9" cy="1701.0" r="5.1"/>
<circle cx="1159.3" cy="1568.0" r="5.1"/>
<circle cx="1146.0" cy="1578.0" r="5.1"/>
<circle cx="1138.1" cy="1520.0" r="5.1"/>
<circle cx="1140.7" cy="1476.0" r="5.1"/>
<circle cx="1154.0" cy="1610.0" r="5.1"/>
<circle cx="1138.1" cy="1407.0" r="5.1"/>
<circle cx="1132.8" cy="1438.0" r="5.1"/>
<circle cx="1114.2" cy="1245.0" r="5.1"/>
<circle cx="1108.9" cy="1199.0" r="5.1"/>
<circle cx="1074.5" cy="1243.0" r="5.1"/>
<circle cx="1077.1" cy="1261.0" r="5.1"/>
<circle cx="1148.7" cy="1683.0" r="5.1"/>
<circle cx="1154.0" cy="1694.0" r="5.1"/>
</g>
<rect x="1029.40" y="1193.50" width="848.50" height="515.00" fill="none" stroke="#000" stroke-width="1.70"/>
<line x1="1134.80" y1="1688.00" x2="1134.80" y2="1708.50" stroke="#000" stroke-width="1.40" stroke-linecap="butt"/>
<line x1="1238.70" y1="1688.00" x2="1238.70" y2="1708.50" stroke="#000" stroke-width="1.40" stroke-linecap="butt"/>
<line x1="1345.70" y1="1688.00" x2="1345.70" y2="1708.50" stroke="#000" stroke-width="1.40" stroke-linecap="butt"/>
<line x1="1453.00" y1="1688.00" x2="1453.00" y2="1708.50" stroke="#000" stroke-width="1.40" stroke-linecap="butt"/>
<line x1="1557.80" y1="1688.00" x2="1557.80" y2="1708.50" stroke="#000" stroke-width="1.40" stroke-linecap="butt"/>
<line x1="1665.50" y1="1688.00" x2="1665.50" y2="1708.50" stroke="#000" stroke-width="1.40" stroke-linecap="butt"/>
<line x1="1771.10" y1="1688.00" x2="1771.10" y2="1708.50" stroke="#000" stroke-width="1.40" stroke-linecap="butt"/>
<line x1="1029.40" y1="1451.00" x2="1049.90" y2="1451.00" stroke="#000" stroke-width="1.40" stroke-linecap="butt"/>
<clipPath id="cfm"><rect x="1029.4" y="1193.5" width="400" height="515.0"/></clipPath>
<g clip-path="url(#cfm)">
<rect x="1026.95" y="1404.75" width="26.50" height="26.50" fill="#AB7C51" stroke="#231f20" stroke-width="1.00"/>
</g>
<polygon points="1038.60,1342.30 1053.35,1373.50 1023.85,1373.50" fill="#8ED8F6" stroke="#111" stroke-width="1.10" stroke-linejoin="miter"/>
<rect x="1056.65" y="1370.35" width="26.50" height="26.50" fill="#F15A2D" stroke="#231f20" stroke-width="1.00"/>
<polygon points="1077.50,1379.20 1092.25,1410.00 1062.75,1410.00" fill="#A698C6" stroke="#111" stroke-width="1.10" stroke-linejoin="miter"/>
<rect x="1083.65" y="1395.55" width="27.50" height="27.50" fill="#C1272D" stroke="#231f20" stroke-width="1.00"/>
<polygon points="1056.00,1407.00 1070.75,1437.00 1041.25,1437.00" fill="#A698C6" stroke="#111" stroke-width="1.10" stroke-linejoin="miter"/>
<polygon points="1036.30,1385.00 1051.05,1415.80 1021.55,1415.80" fill="#8ED8F6" stroke="#111" stroke-width="1.10" stroke-linejoin="miter"/>
<polygon points="1041.00,1418.00 1055.75,1449.80 1026.25,1449.80" fill="#8ED8F6" stroke="#111" stroke-width="1.10" stroke-linejoin="miter"/>
<polygon points="1041.40,1412.80 1056.15,1444.00 1026.65,1444.00" fill="#8ED8F6" stroke="#111" stroke-width="1.10" stroke-linejoin="miter"/>
<polygon points="1050.20,1447.70 1062.74,1473.20 1037.66,1473.20" fill="#8ED8F6" stroke="#111" stroke-width="1.10" stroke-linejoin="miter"/>
<polygon points="1038.60,1457.70 1053.35,1487.00 1023.85,1487.00" fill="#8ED8F6" stroke="#111" stroke-width="1.10" stroke-linejoin="miter"/>
<polygon points="1038.60,1454.70 1053.35,1484.30 1023.85,1484.30" fill="#8ED8F6" stroke="#111" stroke-width="1.10" stroke-linejoin="miter"/>
<polygon points="1041.00,1465.00 1055.75,1495.10 1026.25,1495.10" fill="#A698C6" stroke="#111" stroke-width="1.10" stroke-linejoin="miter"/>
<polygon points="1041.00,1474.00 1055.75,1502.50 1026.25,1502.50" fill="#8ED8F6" stroke="#111" stroke-width="1.10" stroke-linejoin="miter"/>
<polygon points="1038.60,1485.00 1053.35,1516.00 1023.85,1516.00" fill="#A698C6" stroke="#111" stroke-width="1.10" stroke-linejoin="miter"/>
<polygon points="1041.00,1476.00 1055.75,1502.50 1026.25,1502.50" fill="#8ED8F6" stroke="#111" stroke-width="1.10" stroke-linejoin="miter"/>
<polygon points="1067.50,1483.60 1082.25,1513.20 1052.75,1513.20" fill="#A698C6" stroke="#111" stroke-width="1.10" stroke-linejoin="miter"/>
<polygon points="1038.60,1530.50 1053.35,1561.00 1023.85,1561.00" fill="#A698C6" stroke="#111" stroke-width="1.10" stroke-linejoin="miter"/>
<polygon points="1057.60,1541.40 1072.35,1571.40 1042.85,1571.40" fill="#A698C6" stroke="#111" stroke-width="1.10" stroke-linejoin="miter"/>
<polygon points="1077.90,1564.50 1092.65,1595.00 1063.15,1595.00" fill="#A698C6" stroke="#111" stroke-width="1.10" stroke-linejoin="miter"/>
<polygon points="1067.50,1559.40 1082.25,1590.00 1052.75,1590.00" fill="#8ED8F6" stroke="#111" stroke-width="1.10" stroke-linejoin="miter"/>
<rect x="1039.25" y="1602.95" width="26.50" height="26.50" fill="#000" stroke="#231f20" stroke-width="1.00"/>
<polygon points="1067.50,1591.60 1082.25,1621.80 1052.75,1621.80" fill="#8ED8F6" stroke="#111" stroke-width="1.10" stroke-linejoin="miter"/>
<polygon points="1103.80,1604.30 1118.55,1635.00 1089.05,1635.00" fill="#A698C6" stroke="#111" stroke-width="1.10" stroke-linejoin="miter"/>
<text transform="translate(1186.60 1250.50) scale(0.9100 1)" font-size="22.20" text-anchor="middle" fill="#000">n = 872</text>
<line x1="1187.80" y1="1259.70" x2="1182.97" y2="1304.45" stroke="#000" stroke-width="1.40" stroke-linecap="butt"/>
<polygon points="1182.00,1313.40 1176.54,1298.73 1183.07,1303.46 1190.46,1300.23" fill="#000"/>
<line x1="1668.50" y1="1368.40" x2="1668.50" y2="1233.90" stroke="#000" stroke-width="1.40" stroke-linecap="butt"/>
<polygon points="1668.50,1224.70 1676.00,1238.90 1668.50,1234.90 1661.00,1238.90" fill="#000"/>
<line x1="1668.50" y1="1368.40" x2="1803.60" y2="1368.40" stroke="#000" stroke-width="1.40" stroke-linecap="butt"/>
<polygon points="1812.80,1368.40 1798.60,1375.90 1802.60,1368.40 1798.60,1360.90" fill="#000"/>
<text transform="translate(1654.90 1367.60) rotate(-90.00) scale(0.9060 1)" font-size="22.20" text-anchor="start" fill="#000">HP Metasomatism</text>
<text transform="translate(1669.10 1400.80) scale(0.9180 1)" font-size="22.20" text-anchor="start" fill="#000">Magmatic enrichment</text>
<text transform="translate(991.50 1200.00) scale(0.8200 1)" font-size="24.00" text-anchor="middle" fill="#000">1</text>
<text transform="translate(990.80 1458.30) scale(0.8200 1)" font-size="24.00" text-anchor="middle" fill="#000">0.1</text>
<text transform="translate(990.90 1714.80) scale(0.8200 1)" font-size="24.00" text-anchor="middle" fill="#000">0.01</text>
<text transform="translate(1029.40 1735.50) scale(0.8200 1)" font-size="24.00" text-anchor="middle" fill="#000">0</text>
<text transform="translate(1134.80 1735.50) scale(0.8200 1)" font-size="24.00" text-anchor="middle" fill="#000">0.2</text>
<text transform="translate(1238.70 1735.50) scale(0.8200 1)" font-size="24.00" text-anchor="middle" fill="#000">0.4</text>
<text transform="translate(1345.70 1735.50) scale(0.8200 1)" font-size="24.00" text-anchor="middle" fill="#000">0.6</text>
<text transform="translate(1453.00 1735.50) scale(0.8200 1)" font-size="24.00" text-anchor="middle" fill="#000">0.8</text>
<text transform="translate(1557.80 1735.50) scale(0.8200 1)" font-size="24.00" text-anchor="middle" fill="#000">1.0</text>
<text transform="translate(1665.50 1735.50) scale(0.8200 1)" font-size="24.00" text-anchor="middle" fill="#000">1.2</text>
<text transform="translate(1771.10 1735.50) scale(0.8200 1)" font-size="24.00" text-anchor="middle" fill="#000">1.4</text>
<text transform="translate(1877.80 1735.50) scale(0.8200 1)" font-size="24.00" text-anchor="middle" fill="#000">1.6</text>
<text transform="translate(965.60 1450.80) rotate(-90.00) scale(0.9500 1)" font-size="28.50" text-anchor="middle" font-weight="bold" fill="#000">U/Nb</text>
<text transform="translate(1454.70 1764.30) scale(0.9700 1)" font-size="28.50" text-anchor="middle" font-weight="bold" fill="#000">Nb/Zr</text>
<text transform="translate(1820.10 1223.70) scale(0.8400 1)" font-size="32.50" text-anchor="start" font-weight="bold" fill="#000">(f)</text>
<rect x="78.30" y="1785.00" width="848.70" height="514.80" fill="none" stroke="#000" stroke-width="1.70"/>
<line x1="219.20" y1="2279.30" x2="219.20" y2="2299.80" stroke="#000" stroke-width="1.40" stroke-linecap="butt"/>
<line x1="359.60" y1="2279.30" x2="359.60" y2="2299.80" stroke="#000" stroke-width="1.40" stroke-linecap="butt"/>
<line x1="501.60" y1="2279.30" x2="501.60" y2="2299.80" stroke="#000" stroke-width="1.40" stroke-linecap="butt"/>
<line x1="642.50" y1="2279.30" x2="642.50" y2="2299.80" stroke="#000" stroke-width="1.40" stroke-linecap="butt"/>
<line x1="785.00" y1="2279.30" x2="785.00" y2="2299.80" stroke="#000" stroke-width="1.40" stroke-linecap="butt"/>
<line x1="78.30" y1="1953.40" x2="98.80" y2="1953.40" stroke="#000" stroke-width="1.40" stroke-linecap="butt"/>
<line x1="78.30" y1="2127.50" x2="98.80" y2="2127.50" stroke="#000" stroke-width="1.40" stroke-linecap="butt"/>
<polygon points="148.50,1912.50 163.50,1943.20 133.50,1943.20" fill="#8ED8F6" stroke="#111" stroke-width="1.10" stroke-linejoin="miter"/>
<polygon points="168.40,1923.20 183.40,1953.40 153.40,1953.40" fill="#8ED8F6" stroke="#111" stroke-width="1.10" stroke-linejoin="miter"/>
<polygon points="159.00,1889.60 174.00,1921.00 144.00,1921.00" fill="#A698C6" stroke="#111" stroke-width="1.10" stroke-linejoin="miter"/>
<rect x="84.25" y="1938.05" width="27.50" height="27.50" fill="#000" stroke="#231f20" stroke-width="1.00"/>
<rect x="79.45" y="1961.55" width="27.50" height="27.50" fill="#AB7C51" stroke="#231f20" stroke-width="1.00"/>
<polygon points="184.50,1951.50 199.50,1982.00 169.50,1982.00" fill="#A698C6" stroke="#111" stroke-width="1.10" stroke-linejoin="miter"/>
<polygon points="198.10,1950.90 213.10,1982.30 183.10,1982.30" fill="#A698C6" stroke="#111" stroke-width="1.10" stroke-linejoin="miter"/>
<polygon points="126.80,1967.60 141.80,1998.70 111.80,1998.70" fill="#A698C6" stroke="#111" stroke-width="1.10" stroke-linejoin="miter"/>
<rect x="141.55" y="1970.25" width="27.50" height="27.50" fill="#F15A2D" stroke="#231f20" stroke-width="1.00"/>
<polygon points="136.50,2006.40 151.50,2037.00 121.50,2037.00" fill="#A698C6" stroke="#111" stroke-width="1.10" stroke-linejoin="miter"/>
<polygon points="133.20,2022.20 148.20,2053.30 118.20,2053.30" fill="#A698C6" stroke="#111" stroke-width="1.10" stroke-linejoin="miter"/>
<polygon points="272.50,1907.00 287.50,1937.00 257.50,1937.00" fill="#8ED8F6" stroke="#111" stroke-width="1.10" stroke-linejoin="miter"/>
<polygon points="305.30,1873.80 320.30,1904.90 290.30,1904.90" fill="#8ED8F6" stroke="#111" stroke-width="1.10" stroke-linejoin="miter"/>
<polygon points="285.30,1877.40 300.30,1908.20 270.30,1908.20" fill="#8ED8F6" stroke="#111" stroke-width="1.10" stroke-linejoin="miter"/>
<polygon points="579.20,1903.20 594.20,1933.90 564.20,1933.90" fill="#8ED8F6" stroke="#111" stroke-width="1.10" stroke-linejoin="miter"/>
<polygon points="657.20,1853.80 672.20,1884.50 642.20,1884.50" fill="#A698C6" stroke="#111" stroke-width="1.10" stroke-linejoin="miter"/>
<polygon points="844.40,1909.20 859.40,1940.00 829.40,1940.00" fill="#8ED8F6" stroke="#111" stroke-width="1.10" stroke-linejoin="miter"/>
<rect x="125.25" y="2093.95" width="27.50" height="27.50" fill="#C1272D" stroke="#231f20" stroke-width="1.00"/>
<text transform="translate(219.20 2114.70) scale(0.9060 1)" font-size="22.20" text-anchor="start" fill="#000">Fluid Source 1</text>
<line x1="219.20" y1="2129.40" x2="353.70" y2="2129.40" stroke="#000" stroke-width="1.40" stroke-linecap="butt"/>
<polygon points="362.70,2129.40 348.70,2136.40 352.70,2129.40 348.70,2122.40" fill="#000"/>
<line x1="219.20" y1="2129.40" x2="219.20" y2="2264.50" stroke="#000" stroke-width="1.40" stroke-linecap="butt"/>
<polygon points="219.20,2273.50 212.20,2259.50 219.20,2263.50 226.20,2259.50" fill="#000"/>
<text transform="translate(195.60 2259.60) rotate(-90.00) scale(0.9060 1)" font-size="22.20" text-anchor="start" fill="#000">Fluid Source 2</text>
<text transform="translate(50.30 1791.90) scale(0.8200 1)" font-size="24.00" text-anchor="middle" fill="#000">10</text>
<text transform="translate(49.50 1959.80) scale(0.8200 1)" font-size="24.00" text-anchor="middle" fill="#000">1</text>
<text transform="translate(49.70 2135.50) scale(0.8200 1)" font-size="24.00" text-anchor="middle" fill="#000">0.10</text>
<text transform="translate(49.30 2305.40) scale(0.8200 1)" font-size="24.00" text-anchor="middle" fill="#000">0.01</text>
<text transform="translate(78.30 2327.60) scale(0.8200 1)" font-size="24.00" text-anchor="middle" fill="#000">0</text>
<text transform="translate(219.20 2327.60) scale(0.8200 1)" font-size="24.00" text-anchor="middle" fill="#000">20</text>
<text transform="translate(359.60 2327.60) scale(0.8200 1)" font-size="24.00" text-anchor="middle" fill="#000">40</text>
<text transform="translate(501.60 2327.60) scale(0.8200 1)" font-size="24.00" text-anchor="middle" fill="#000">60</text>
<text transform="translate(642.50 2327.60) scale(0.8200 1)" font-size="24.00" text-anchor="middle" fill="#000">80</text>
<text transform="translate(785.00 2327.60) scale(0.8200 1)" font-size="24.00" text-anchor="middle" fill="#000">100</text>
<text transform="translate(927.00 2327.60) scale(0.8200 1)" font-size="24.00" text-anchor="middle" fill="#000">120</text>
<text transform="translate(23.70 2035.90) rotate(-90.00) scale(0.9700 1)" font-size="28.50" text-anchor="middle" font-weight="bold" fill="#000">Sr*</text>
<text transform="translate(502.20 2358.30)" font-size="28.50" text-anchor="middle" font-weight="bold" fill="#000">Pb*</text>
<text transform="translate(868.70 1815.20) scale(0.8400 1)" font-size="32.50" text-anchor="start" font-weight="bold" fill="#000">(g)</text>
<rect x="1030.10" y="1784.50" width="847.40" height="515.00" fill="none" stroke="#000" stroke-width="1.70"/>
<line x1="1171.20" y1="2279.00" x2="1171.20" y2="2299.50" stroke="#000" stroke-width="1.40" stroke-linecap="butt"/>
<line x1="1311.70" y1="2279.00" x2="1311.70" y2="2299.50" stroke="#000" stroke-width="1.40" stroke-linecap="butt"/>
<line x1="1453.40" y1="2279.00" x2="1453.40" y2="2299.50" stroke="#000" stroke-width="1.40" stroke-linecap="butt"/>
<line x1="1594.50" y1="2279.00" x2="1594.50" y2="2299.50" stroke="#000" stroke-width="1.40" stroke-linecap="butt"/>
<line x1="1737.20" y1="2279.00" x2="1737.20" y2="2299.50" stroke="#000" stroke-width="1.40" stroke-linecap="butt"/>
<line x1="1030.10" y1="2173.80" x2="1050.60" y2="2173.80" stroke="#000" stroke-width="1.40" stroke-linecap="butt"/>
<line x1="1030.10" y1="2042.60" x2="1050.60" y2="2042.60" stroke="#000" stroke-width="1.40" stroke-linecap="butt"/>
<line x1="1030.10" y1="1913.60" x2="1050.60" y2="1913.60" stroke="#000" stroke-width="1.40" stroke-linecap="butt"/>
<clipPath id="ch"><rect x="1025.1" y="1784.5" width="852.4" height="515.2"/></clipPath>
<g clip-path="url(#ch)">
<rect x="1032.45" y="1791.05" width="26.50" height="26.50" fill="#000" stroke="#231f20" stroke-width="1.00"/>
<rect x="1033.05" y="1827.05" width="26.50" height="26.50" fill="#AB7C51" stroke="#231f20" stroke-width="1.00"/>
<rect x="1089.85" y="1808.35" width="26.50" height="26.50" fill="#F15A2D" stroke="#231f20" stroke-width="1.00"/>
<polygon points="1236.50,1836.20 1251.50,1866.90 1221.50,1866.90" fill="#8ED8F6" stroke="#111" stroke-width="1.10" stroke-linejoin="miter"/>
<polygon points="1080.60,2007.50 1095.60,2038.20 1065.60,2038.20" fill="#A698C6" stroke="#111" stroke-width="1.10" stroke-linejoin="miter"/>
<rect x="1075.05" y="2028.55" width="27.50" height="27.50" fill="#C1272D" stroke="#231f20" stroke-width="1.00"/>
<polygon points="1089.90,2137.00 1104.90,2167.80 1074.90,2167.80" fill="#A698C6" stroke="#111" stroke-width="1.10" stroke-linejoin="miter"/>
<polygon points="1114.10,2133.80 1129.10,2164.50 1099.10,2164.50" fill="#A698C6" stroke="#111" stroke-width="1.10" stroke-linejoin="miter"/>
<polygon points="1531.90,2166.10 1546.90,2196.90 1516.90,2196.90" fill="#8ED8F6" stroke="#111" stroke-width="1.10" stroke-linejoin="miter"/>
<polygon points="1794.90,2186.50 1809.90,2217.20 1779.90,2217.20" fill="#8ED8F6" stroke="#111" stroke-width="1.10" stroke-linejoin="miter"/>
<polygon points="1225.00,2215.60 1240.00,2245.80 1210.00,2245.80" fill="#8ED8F6" stroke="#111" stroke-width="1.10" stroke-linejoin="miter"/>
<polygon points="1258.50,2222.10 1273.50,2252.90 1243.50,2252.90" fill="#8ED8F6" stroke="#111" stroke-width="1.10" stroke-linejoin="miter"/>
<polygon points="1086.10,2256.70 1101.10,2287.50 1071.10,2287.50" fill="#A698C6" stroke="#111" stroke-width="1.10" stroke-linejoin="miter"/>
<polygon points="1138.80,2250.20 1153.80,2281.00 1123.80,2281.00" fill="#A698C6" stroke="#111" stroke-width="1.10" stroke-linejoin="miter"/>
<polygon points="1103.70,2242.50 1118.70,2273.20 1088.70,2273.20" fill="#8ED8F6" stroke="#111" stroke-width="1.10" stroke-linejoin="miter"/>
<polygon points="1124.00,2251.20 1139.00,2282.00 1109.00,2282.00" fill="#8ED8F6" stroke="#111" stroke-width="1.10" stroke-linejoin="miter"/>
<polygon points="1152.00,2267.70 1167.00,2299.00 1137.00,2299.00" fill="#A698C6" stroke="#111" stroke-width="1.10" stroke-linejoin="miter"/>
<polygon points="1609.80,2267.70 1624.80,2299.00 1594.80,2299.00" fill="#A698C6" stroke="#111" stroke-width="1.10" stroke-linejoin="miter"/>
</g>
<text transform="translate(1312.30 1807.10) scale(0.9060 1)" font-size="22.20" text-anchor="start" fill="#000">Fluid Source 1</text>
<line x1="1311.70" y1="1821.40" x2="1446.60" y2="1821.40" stroke="#000" stroke-width="1.40" stroke-linecap="butt"/>
<polygon points="1455.60,1821.40 1441.60,1828.40 1445.60,1821.40 1441.60,1814.40" fill="#000"/>
<line x1="1311.70" y1="1821.40" x2="1311.70" y2="1955.10" stroke="#000" stroke-width="1.40" stroke-linecap="butt"/>
<polygon points="1311.70,1964.10 1304.70,1950.10 1311.70,1954.10 1318.70,1950.10" fill="#000"/>
<text transform="translate(1295.30 1951.50) rotate(-90.00) scale(0.9060 1)" font-size="22.20" text-anchor="start" fill="#000">Fluid Source 2</text>
<text transform="translate(1002.00 2306.00) scale(0.8200 1)" font-size="24.00" text-anchor="middle" fill="#000">0</text>
<text transform="translate(1002.00 2180.30) scale(0.8200 1)" font-size="24.00" text-anchor="middle" fill="#000">10</text>
<text transform="translate(1002.00 2049.10) scale(0.8200 1)" font-size="24.00" text-anchor="middle" fill="#000">20</text>
<text transform="translate(1002.00 1920.10) scale(0.8200 1)" font-size="24.00" text-anchor="middle" fill="#000">30</text>
<text transform="translate(1002.00 1791.00) scale(0.8200 1)" font-size="24.00" text-anchor="middle" fill="#000">40</text>
<text transform="translate(1030.10 2327.30) scale(0.8200 1)" font-size="24.00" text-anchor="middle" fill="#000">0</text>
<text transform="translate(1171.20 2327.30) scale(0.8200 1)" font-size="24.00" text-anchor="middle" fill="#000">20</text>
<text transform="translate(1311.70 2327.30) scale(0.8200 1)" font-size="24.00" text-anchor="middle" fill="#000">40</text>
<text transform="translate(1453.40 2327.30) scale(0.8200 1)" font-size="24.00" text-anchor="middle" fill="#000">60</text>
<text transform="translate(1594.50 2327.30) scale(0.8200 1)" font-size="24.00" text-anchor="middle" fill="#000">80</text>
<text transform="translate(1737.20 2327.30) scale(0.8200 1)" font-size="24.00" text-anchor="middle" fill="#000">100</text>
<text transform="translate(1877.50 2327.30) scale(0.8200 1)" font-size="24.00" text-anchor="middle" fill="#000">120</text>
<text transform="translate(976.00 2041.40) rotate(-90.00) scale(0.9600 1)" font-size="28.50" text-anchor="middle" font-weight="bold" fill="#000">Ba/Pb</text>
<text transform="translate(1454.70 2358.30)" font-size="28.50" text-anchor="middle" font-weight="bold" fill="#000">Pb*</text>
<text transform="translate(1820.10 1814.70) scale(0.8400 1)" font-size="32.50" text-anchor="start" font-weight="bold" fill="#000">(h)</text>
</svg>
</body></html>
